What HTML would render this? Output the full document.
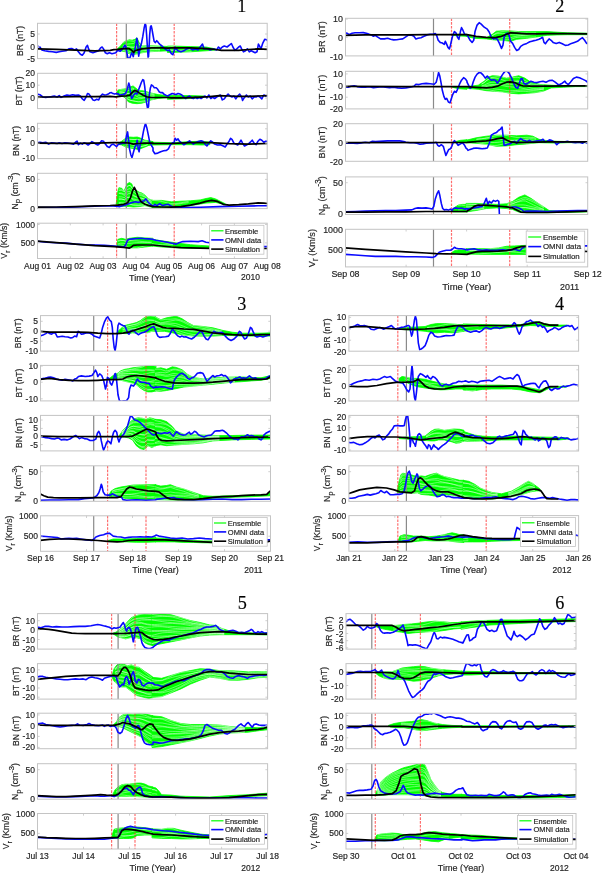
<!DOCTYPE html><html><head><meta charset="utf-8"><style>html,body{margin:0;padding:0;background:#fff;}svg{display:block;will-change:transform;}text{font-family:"Liberation Sans",sans-serif;fill:#262626;stroke:#262626;stroke-width:0.18px;}</style></head><body>
<svg width="602" height="874" viewBox="0 0 602 874">
<rect width="602" height="874" fill="#fff"/>
<defs>
<clipPath id="c0_0"><rect x="37.5" y="23.3" width="229.7" height="35.3"/></clipPath>
<clipPath id="c0_1"><rect x="37.5" y="73.3" width="229.7" height="35.3"/></clipPath>
<clipPath id="c0_2"><rect x="37.5" y="123.3" width="229.7" height="35.3"/></clipPath>
<clipPath id="c0_3"><rect x="37.5" y="173.3" width="229.7" height="35.3"/></clipPath>
<clipPath id="c0_4"><rect x="37.5" y="223.2" width="229.7" height="35.3"/></clipPath>
<clipPath id="c1_0"><rect x="345.5" y="18.3" width="242.2" height="37.6"/></clipPath>
<clipPath id="c1_1"><rect x="345.5" y="71.3" width="242.2" height="37.6"/></clipPath>
<clipPath id="c1_2"><rect x="345.5" y="123.7" width="242.2" height="37.6"/></clipPath>
<clipPath id="c1_3"><rect x="345.5" y="176.9" width="242.2" height="37.6"/></clipPath>
<clipPath id="c1_4"><rect x="345.5" y="229.3" width="242.2" height="37.6"/></clipPath>
<clipPath id="c2_0"><rect x="40.5" y="315.6" width="230" height="35.5"/></clipPath>
<clipPath id="c2_1"><rect x="40.5" y="365.4" width="230" height="35.5"/></clipPath>
<clipPath id="c2_2"><rect x="40.5" y="415.4" width="230" height="35.5"/></clipPath>
<clipPath id="c2_3"><rect x="40.5" y="465.8" width="230" height="35.5"/></clipPath>
<clipPath id="c2_4"><rect x="40.5" y="515.8" width="230" height="35.5"/></clipPath>
<clipPath id="c3_0"><rect x="348.9" y="315.6" width="229.7" height="35.6"/></clipPath>
<clipPath id="c3_1"><rect x="348.9" y="365.4" width="229.7" height="35.6"/></clipPath>
<clipPath id="c3_2"><rect x="348.9" y="415.4" width="229.7" height="35.6"/></clipPath>
<clipPath id="c3_3"><rect x="348.9" y="465.8" width="229.7" height="35.6"/></clipPath>
<clipPath id="c3_4"><rect x="348.9" y="515.6" width="229.7" height="35.6"/></clipPath>
<clipPath id="c4_0"><rect x="37.5" y="613.6" width="230.1" height="35.5"/></clipPath>
<clipPath id="c4_1"><rect x="37.5" y="663.6" width="230.1" height="35.5"/></clipPath>
<clipPath id="c4_2"><rect x="37.5" y="713.2" width="230.1" height="35.5"/></clipPath>
<clipPath id="c4_3"><rect x="37.5" y="763.7" width="230.1" height="35.5"/></clipPath>
<clipPath id="c4_4"><rect x="37.5" y="813.5" width="230.1" height="35.5"/></clipPath>
<clipPath id="c5_0"><rect x="346" y="613.6" width="230" height="35.5"/></clipPath>
<clipPath id="c5_1"><rect x="346" y="663.6" width="230" height="35.5"/></clipPath>
<clipPath id="c5_2"><rect x="346" y="713.2" width="230" height="35.5"/></clipPath>
<clipPath id="c5_3"><rect x="346" y="763.7" width="230" height="35.5"/></clipPath>
<clipPath id="c5_4"><rect x="346" y="813.5" width="230" height="35.5"/></clipPath>
</defs>
<text x="241.9" y="12.2" text-anchor="middle" style="font-family:'Liberation Serif',serif;fill:#000" font-size="18.2">1</text>
<g clip-path="url(#c0_0)">
<polygon points="117.2,48.9 120.6,46 123.5,42.2 126.4,40.7 129.3,39.8 132.2,40.2 135,39.3 137,37.8 138.9,42.2 141.8,46 148.5,45.8 158.2,46 168,46.5 168,50.8 158.2,51.3 148.5,51.8 141.8,52.8 138.9,53.7 135,54.2 132.2,54.7 129.3,53.7 125.4,51.8 120.6,50.8 117.2,49.4" fill="#00ff00" stroke="#00ff00" stroke-width="0.8" stroke-linejoin="round"/>
<polyline points="122.6,43.4 125.2,41.4 127.9,40.7 130.6,40.9 133.3,41.3 135.9,40.6 138.6,43.3 141.3,46.6 143.9,47 146.6,46.8 149.3,46.6 152,46.5 154.6,46.4 157.3,46.2 160,46.2" fill="none" stroke="#fff" stroke-opacity="0.6" stroke-width="0.7"/>
<polyline points="122.6,45.9 125.2,44.5 127.9,44 130.6,43.8 133.3,43.5 135.9,42.1 138.6,44 141.3,46.7 143.9,47.1 146.6,46.9 149.3,46.8 152,46.9 154.6,47 157.3,47.1 160,47.3" fill="none" stroke="#fff" stroke-opacity="0.6" stroke-width="0.7"/>
<polyline points="122.6,47.2 125.2,46.5 127.9,46.6 130.6,47.1 133.3,47.1 135.9,46.1 138.6,47.3 141.3,48.8 143.9,48.8 146.6,48.5 149.3,48.2 152,48.1 154.6,48 157.3,47.9 160,47.9" fill="none" stroke="#fff" stroke-opacity="0.6" stroke-width="0.7"/>
<polyline points="122.6,47.6 125.2,46.7 127.9,46.6 130.6,47.1 133.3,47.4 135.9,46.9 138.6,48.4 141.3,49.9 143.9,50 146.6,49.9 149.3,49.8 152,49.7 154.6,49.6 157.3,49.4 160,49.2" fill="none" stroke="#fff" stroke-opacity="0.6" stroke-width="0.7"/>
<polyline points="122.6,49.8 125.2,49.9 127.9,50.9 130.6,51.8 133.3,52 135.9,51.2 138.6,51.3 141.3,51.2 143.9,50.8 146.6,50.4 149.3,50 152,49.8 154.6,49.7 157.3,49.6 160,49.5" fill="none" stroke="#fff" stroke-opacity="0.6" stroke-width="0.7"/>
<polyline points="122.6,50.5 125.2,51 127.9,52.3 130.6,53.6 133.3,54.1 135.9,53.9 138.6,53.7 141.3,52.9 143.9,52.4 146.6,52 149.3,51.7 152,51.5 154.6,51.3 157.3,51.1 160,50.9" fill="none" stroke="#fff" stroke-opacity="0.6" stroke-width="0.7"/>
<polygon points="167.4,46 171.3,46 190.5,46.6 206,47 215.6,48.9 215.6,50.1 206,50.8 190.5,51.8 171.3,52.4 167.4,52.4" fill="#00ff00" stroke="#00ff00" stroke-width="0.8" stroke-linejoin="round"/>
<polyline points="167.4,46.1 170.1,46.3 172.8,46.6 175.4,47.1 178.1,47.5 180.8,47.9 183.5,48.1 186.1,48.3 188.8,48.3 191.5,48.1" fill="none" stroke="#fff" stroke-opacity="0.6" stroke-width="0.7"/>
<polyline points="167.4,49.7 170.1,49.9 172.8,50.1 175.4,50.2 178.1,50.2 180.8,50.1 183.5,50 186.1,49.8 188.8,49.5 191.5,49.3" fill="none" stroke="#fff" stroke-opacity="0.6" stroke-width="0.7"/>
<polyline points="167.4,50.3 170.1,50.3 172.8,50.4 175.4,50.5 178.1,50.6 180.8,50.8 183.5,50.9 186.1,51.1 188.8,51.2 191.5,51.3" fill="none" stroke="#fff" stroke-opacity="0.6" stroke-width="0.7"/>
<line x1="116.6" y1="23.3" x2="116.6" y2="58.6" stroke="#ff3030" stroke-opacity="0.7" stroke-width="1.2" stroke-dasharray="2.6,1.2"/>
<line x1="174.2" y1="23.3" x2="174.2" y2="58.6" stroke="#ff3030" stroke-opacity="0.7" stroke-width="1.2" stroke-dasharray="2.6,1.2"/>
<line x1="126.3" y1="23.3" x2="126.3" y2="58.6" stroke="#8a8a8a" stroke-width="1.2"/>
<polyline points="37,46 39.9,47 41.8,49.9 44.7,50.8 48.6,51.4 52.4,51.8 56.3,52.4 59.2,51.8 62,51.2 65.9,50.8 68.8,48.9 71.7,48.5 74.6,49.9 76.5,48.9 78.4,51.8 80.4,54.3 82.3,55.3 84.2,52.8 86.1,47 87.5,45.4 88.6,48.9 90,51.8 92.9,52.8 95.8,51.8 98.7,50.8 100.6,47.9 102.1,47 103.5,48.9 105.4,52.8 107.3,53.7 109.3,52.8 110.2,53.1 111.9,53.7 113.9,53.2 115.8,52.8 117.2,50.8 118.7,50.6 120.1,51.3 121.6,49.9 123.5,47.5 124.9,45.2 125.9,47 126.9,52.8 127.8,57.6 128.8,58.5 129.8,58.1 130.7,55.6 131.7,52.8 132.6,54.7 133.3,56.6 134.1,51.8 135.2,47.9 136,43.1 136.8,38.3 137.5,41.2 138.1,48.9 138.7,56.1 139.4,51.8 140.3,47 141.3,44.1 142.8,36.4 144.2,27.7 145.2,23.4 145.9,25.8 146.6,34.5 147.4,47 148.1,57.1 148.5,56.6 149,48.9 149.7,34.5 150.5,26.7 151.2,25.8 151.9,28.7 152.9,34.5 154.1,41.2 155.3,42.6 156.7,40.7 157.7,41.7 159.1,43.6 160.6,45 162,46 163.5,47.5 164.9,48.9 166.4,49.9 168,50.6 169.3,49.9 171.3,53.7 172.8,54.7 174.2,50.8 175.1,47 176.1,48.9 178,50.8 180.9,51.8 183.8,50.8 186.7,48.9 189.6,47.9 192.5,49.9 195.4,48.9 198.2,49.9 200.2,47 202.5,44.1 204,48.9 206.9,48.5 209.8,49.9 213.7,48.9 216.6,49.9 218.5,47 220.4,48.9 222.3,47 224.3,46 227.1,47 230,44.7 231.4,43.5 232.9,47 234.9,50.4 236.8,48.9 238.7,47 240.3,46 241.6,48.9 243.5,51.8 245.5,50.8 247.4,48.9 249.3,51.8 251.2,50.8 253.2,51.8 255.1,52.8 257,51.8 258.4,44.1 259.5,46 260.9,48.9 262.8,43.1 264.7,39.3 266.7,39.8 268,41.2" fill="none" stroke="#0a0aff" stroke-width="1.6" stroke-linejoin="round"/>
<polyline points="38,48.9 56.3,49.3 75.5,50.1 94.8,50.8 110.2,50.3 113.9,49.7 117.7,49.4 121.6,48.9 125.4,48.6 129.3,48.7 131.2,49.9 133.6,52.3 135,50.8 137.9,49.9 141.8,48.9 146.6,48.4 151.4,47.9 156.2,47.9 162,47.9 168,48.1 171.3,47.9 180.9,47.9 190.5,47.9 200.2,48.3 209.8,48.9 215.6,49.5 221.4,50.3 229.1,50.4 238.7,50.3 248.3,49.5 258,48.9 268,49.3" fill="none" stroke="#000" stroke-width="1.7" stroke-linejoin="round"/>
</g>
<rect x="37.5" y="23.3" width="229.7" height="35.3" fill="none" stroke="#c4c4c4" stroke-width="1"/>
<text x="34.9" y="37.1" text-anchor="end" font-size="8.5">5</text>
<text x="34.9" y="49.5" text-anchor="end" font-size="8.5">0</text>
<text x="34.9" y="62" text-anchor="end" font-size="8.5">-5</text>
<path d="M37.5 34h2.2M267.2 34h-2.2M37.5 46.5h2.2M267.2 46.5h-2.2" stroke="#c4c4c4" stroke-width="0.8" fill="none"/>
<text transform="translate(22.9,41) rotate(-90)" text-anchor="middle" font-size="8.6">BR (nT)</text>
<g clip-path="url(#c0_1)">
<polygon points="116.7,91.7 118.7,89.8 121.6,89.3 125.4,88.8 129.3,87.3 133.1,85.9 136,88.3 138.9,90.7 142.8,90.7 146.6,91.7 151.4,93.1 158.2,94.6 164,95.2 168,96 168,97.5 158.2,98.4 151.4,99.9 146.6,101.8 141.8,103.2 137,103.7 132.2,103.2 128.3,101.8 125.4,97.9 121.6,95.8 118.7,95.2 116.7,94.9" fill="#00ff00" stroke="#00ff00" stroke-width="0.8" stroke-linejoin="round"/>
<polyline points="119.4,89.7 122.1,89.3 124.8,89.2 127.5,88.9 130.2,88.5 132.9,88 135.6,90.1 138.3,92.1 141,92.5 143.7,92.4 146.4,92.7 149.1,93.1 151.8,93.5 154.5,93.9" fill="none" stroke="#fff" stroke-opacity="0.6" stroke-width="0.7"/>
<polyline points="119.4,91.2 122.1,90.9 124.8,90.9 127.5,90.7 130.2,90 132.9,89 135.6,90.5 138.3,92.2 141,92.5 143.7,92.6 146.4,93.2 149.1,93.8 151.8,94.4 154.5,94.8" fill="none" stroke="#fff" stroke-opacity="0.6" stroke-width="0.7"/>
<polyline points="119.4,92.1 122.1,92.2 124.8,92.6 127.5,93.4 130.2,93.4 132.9,92.9 135.6,94 138.3,95.2 141,95.2 143.7,94.9 146.4,94.9 149.1,95 151.8,95.2 154.5,95.4" fill="none" stroke="#fff" stroke-opacity="0.6" stroke-width="0.7"/>
<polyline points="119.4,92.2 122.1,92.2 124.8,92.6 127.5,93.5 130.2,93.9 132.9,94.1 135.6,95.7 138.3,97.2 141,97.6 143.7,97.6 146.4,97.5 149.1,97.2 151.8,96.9 154.5,96.7" fill="none" stroke="#fff" stroke-opacity="0.6" stroke-width="0.7"/>
<polyline points="119.4,93.7 122.1,94.1 124.8,95.1 127.5,97 130.2,97.8 132.9,97.8 135.6,98.4 138.3,98.8 141,98.6 143.7,98.1 146.4,97.7 149.1,97.3 151.8,97 154.5,96.9" fill="none" stroke="#fff" stroke-opacity="0.6" stroke-width="0.7"/>
<polyline points="119.4,94.2 122.1,94.9 124.8,96.1 127.5,98.7 130.2,100.2 132.9,100.8 135.6,101.4 138.3,101.7 141,101.4 143.7,100.8 146.4,100.1 149.1,99.3 151.8,98.5 154.5,98.1" fill="none" stroke="#fff" stroke-opacity="0.6" stroke-width="0.7"/>
<polyline points="119.4,95.1 122.1,95.7 124.8,96.8 127.5,99.2 130.2,100.4 132.9,100.8 135.6,101.4 138.3,101.9 141,102 143.7,101.8 146.4,101.3 149.1,100.6 151.8,99.7 154.5,99.2" fill="none" stroke="#fff" stroke-opacity="0.6" stroke-width="0.7"/>
<polygon points="167.4,95.4 190.5,95.6 204,96 204,97.4 190.5,98.5 167.4,99.3" fill="#00ff00" stroke="#00ff00" stroke-width="0.8" stroke-linejoin="round"/>
<line x1="116.6" y1="73.3" x2="116.6" y2="108.6" stroke="#ff3030" stroke-opacity="0.7" stroke-width="1.2" stroke-dasharray="2.6,1.2"/>
<line x1="174.2" y1="73.3" x2="174.2" y2="108.6" stroke="#ff3030" stroke-opacity="0.7" stroke-width="1.2" stroke-dasharray="2.6,1.2"/>
<line x1="126.3" y1="73.3" x2="126.3" y2="108.6" stroke="#8a8a8a" stroke-width="1.2"/>
<polyline points="37,94.1 39.9,94.7 42.8,97 45.7,97.4 48.6,97 51.5,96.6 54.3,96 57.2,97 59.2,95.6 61.1,97.4 64,96 66.9,95 69.8,95.6 72.6,94.7 75.5,95.4 78.4,95 80.4,96 82.3,98.9 84.2,100.3 86.1,97 87.5,93.5 89,94.1 91,97 92.9,99.9 94.8,100.4 96.7,99.3 98.7,99.9 100.6,96 102.5,94.1 104.4,95 106.4,94.7 108.3,94.1 110.2,92.7 111.4,92.6 112.9,93.6 114.8,94.1 116.7,93.6 118.2,93.9 119.6,95.2 121.1,94.9 122.5,94.6 124.5,94.1 125.9,92.6 127.3,89.3 128.8,83 129.8,86.4 130.7,95 131.7,98.4 132.6,97.5 133.6,95 135.5,93.1 137,94.1 138.4,90.2 139.9,86.4 141.3,82.5 142.8,79.6 143.7,80.1 144.7,86.4 145.6,95 146.6,102.8 147.6,108.5 148.5,106.6 149.3,95 150.3,88.3 151.4,84.9 152.9,85.9 154.3,87.8 156.2,87.8 157.7,89.3 159.1,91.7 160.6,92.6 162.5,92.6 164.4,94.6 166.4,95.5 168,96 169.3,95 172.2,93.5 174.2,94.1 176.1,94.5 178,93.5 179.9,94.1 181.9,95 183.8,97 185.7,98.5 187.6,97 189.6,96 191.5,97.9 193.4,98.5 195.4,97 197.3,98.5 199.2,97.6 201.1,98.5 203.1,97 205,96 206.9,97.9 208.8,95 210.8,98.5 212.7,97 214.6,98.5 216.6,97 218.5,96 220.4,95 222.3,99.9 224.3,98.9 226.2,96 228.1,94.1 230,96 232,97 233.9,96 235.8,98.9 237.7,96 239.7,94.1 241.6,97 242.6,100.4 244.1,97.9 246.4,95 248.3,97 250.3,96 252.2,98.9 254.1,97 256.1,97 258,96 259.9,97 261.8,98.9 263.8,95 265.7,96 268,95.4" fill="none" stroke="#0a0aff" stroke-width="1.6" stroke-linejoin="round"/>
<polyline points="38,97 56.3,97 75.5,96.6 94.8,96.6 110.2,96.4 115.8,96.8 121.6,96.2 126.4,95.8 129.8,95.2 132.2,92.6 134.6,90.4 136.5,91 138.9,92.6 142.8,95 146.6,96.8 151.4,97.5 158.2,97.5 168,97.5 171.3,97.9 180.9,97.9 190.5,97.6 200.2,97.2 209.8,96.6 219.4,95.6 229.1,96 238.7,96.4 248.3,96.4 258,96 268,95.6" fill="none" stroke="#000" stroke-width="1.7" stroke-linejoin="round"/>
</g>
<rect x="37.5" y="73.3" width="229.7" height="35.3" fill="none" stroke="#c4c4c4" stroke-width="1"/>
<text x="34.9" y="76.1" text-anchor="end" font-size="8.5">20</text>
<text x="34.9" y="88.2" text-anchor="end" font-size="8.5">10</text>
<text x="34.9" y="101" text-anchor="end" font-size="8.5">0</text>
<path d="M37.5 85.2h2.2M267.2 85.2h-2.2M37.5 98h2.2M267.2 98h-2.2" stroke="#c4c4c4" stroke-width="0.8" fill="none"/>
<text transform="translate(21.9,90.9) rotate(-90)" text-anchor="middle" font-size="8.6">BT (nT)</text>
<g clip-path="url(#c0_2)">
<polygon points="117.9,143.5 121.8,141.2 125.6,138.3 129.5,137 133.3,137.3 137.2,137 141.1,138.3 144.9,140.2 148.8,140.8 153,141.6 153,144.7 148.8,145.4 144.9,147 141.1,148.5 137.2,149.3 133.3,148.5 129.5,147.9 125.6,147 121.8,145 117.9,144.3" fill="#00ff00" stroke="#00ff00" stroke-width="0.8" stroke-linejoin="round"/>
<polyline points="123.3,140.6 126,139.4 128.7,139 131.4,139.3 134.1,139.5 136.8,139.4 139.5,139.7 142.2,140.2 144.9,141 147.6,141" fill="none" stroke="#fff" stroke-opacity="0.6" stroke-width="0.7"/>
<polyline points="123.3,141.7 126,140.4 128.7,139.7 131.4,139.5 134.1,139.6 136.8,139.4 139.5,140 142.2,140.9 144.9,141.8 147.6,142" fill="none" stroke="#fff" stroke-opacity="0.6" stroke-width="0.7"/>
<polyline points="123.3,143.4 126,143.1 128.7,142.9 131.4,142.9 134.1,142.9 136.8,142.8 139.5,142.7 142.2,142.8 144.9,143 147.6,142.8" fill="none" stroke="#fff" stroke-opacity="0.6" stroke-width="0.7"/>
<polyline points="123.3,143.5 126,143.7 128.7,144.1 131.4,144.8 134.1,145.6 136.8,146.3 139.5,146.5 142.2,146.2 144.9,145.6 147.6,144.7" fill="none" stroke="#fff" stroke-opacity="0.6" stroke-width="0.7"/>
<polyline points="123.3,145.7 126,146.8 128.7,147.1 131.4,147.3 134.1,147.4 136.8,147.5 139.5,147 142.2,146.4 144.9,145.7 147.6,144.8" fill="none" stroke="#fff" stroke-opacity="0.6" stroke-width="0.7"/>
<polygon points="152,142.2 171.3,142.7 190.5,141.6 202.1,141.2 209.8,142.2 209.8,144.7 202.1,145 190.5,144.7 171.3,144.7 152,145" fill="#00ff00" stroke="#00ff00" stroke-width="0.8" stroke-linejoin="round"/>
<line x1="116.6" y1="123.3" x2="116.6" y2="158.6" stroke="#ff3030" stroke-opacity="0.7" stroke-width="1.2" stroke-dasharray="2.6,1.2"/>
<line x1="174.2" y1="123.3" x2="174.2" y2="158.6" stroke="#ff3030" stroke-opacity="0.7" stroke-width="1.2" stroke-dasharray="2.6,1.2"/>
<line x1="126.3" y1="123.3" x2="126.3" y2="158.6" stroke="#8a8a8a" stroke-width="1.2"/>
<polyline points="37,142.7 39.9,142.2 42.8,142.7 45.7,142.2 48.6,144.1 51.5,142.7 54.3,143.1 57.2,143.5 59.2,142.7 62,143.5 64.9,142.7 67.8,143.1 70.7,143.5 73.6,144.1 75.5,142.2 77.1,141.2 78.4,144.7 80.4,143.1 82.3,144.1 84.2,142.7 86.1,143.5 88.1,145 90,143.5 91.9,141.6 93.8,142.7 95.8,144.1 97.7,145 99.6,143.5 101.6,140.8 103.5,141.2 105.4,144.1 107.3,146.6 109.3,147.4 111.2,145 113.1,144.1 115,145.4 116.6,146.6 117.9,144.7 119.9,144.1 121.8,143.5 123.7,143.1 125.3,143.1 126.6,135.4 127.6,131.9 128.5,139.3 129.5,148.9 130.8,154.7 132,157.6 133.3,152.8 134.9,147 136.2,145 137.2,140.2 138.2,148.9 139.1,151.8 140.1,145 142,139.3 143.4,131.6 144.5,126.7 145.5,123.5 146.8,127.7 148.4,135.4 149.7,142.2 151.7,146 153,147.9 153,150.8 154.9,153.7 157.8,153.1 160.7,151.8 163.6,150.8 166.5,150.4 168.4,148.9 170.3,145 172.2,143.1 174.2,142.2 175.1,138.3 176.7,140.2 178,138.9 179.4,141.2 181.9,143.1 183.8,144.7 185.7,143.5 187.6,142.2 189.6,140.8 191.5,142.7 193.4,144.1 195.4,142.7 198.2,141.6 201.1,140.8 203.1,141.6 205,144.1 206.9,146 208.8,143.1 210.8,140.8 212.7,142.2 214.6,144.1 217.5,145 220.4,144.7 223.3,146 225.2,147 227.1,144.1 229.1,141.2 230.6,138.3 232,139.3 233.9,143.1 235.8,144.1 237.7,145 239.7,142.2 241,140.2 242.6,143.1 244.5,146 246.4,145 248.3,144.1 250.3,142.2 252.2,140.2 254.1,143.1 256.1,144.7 258,141.2 259.9,139.3 261.8,140.2 263.8,142.2 265.7,141.2 268,141.2" fill="none" stroke="#0a0aff" stroke-width="1.6" stroke-linejoin="round"/>
<polyline points="37,143.1 56.3,143.3 75.5,143.3 94.8,143.1 114.1,142.7 123.7,142.7 129.5,143.1 133.3,144.1 137.2,143.5 144.9,143.1 153,143.1 153,143.5 171.3,143.5 190.5,142.7 209.8,142.7 229.1,143.7 248.3,144.1 268,143.5" fill="none" stroke="#000" stroke-width="1.7" stroke-linejoin="round"/>
</g>
<rect x="37.5" y="123.3" width="229.7" height="35.3" fill="none" stroke="#c4c4c4" stroke-width="1"/>
<text x="34.9" y="131.8" text-anchor="end" font-size="8.5">10</text>
<text x="34.9" y="146.2" text-anchor="end" font-size="8.5">0</text>
<text x="34.9" y="161.2" text-anchor="end" font-size="8.5">-10</text>
<path d="M37.5 128.8h2.2M267.2 128.8h-2.2M37.5 143.2h2.2M267.2 143.2h-2.2" stroke="#c4c4c4" stroke-width="0.8" fill="none"/>
<text transform="translate(19.2,140.9) rotate(-90)" text-anchor="middle" font-size="8.6">BN (nT)</text>
<g clip-path="url(#c0_3)">
<polygon points="116,205.6 117.5,193.1 118.9,187.7 121.8,188.3 124.1,191.2 125.6,187.3 127.6,183.5 129.5,182.5 131.8,183.9 133.3,188.3 136.2,190.2 139.1,192.2 142,193.1 144.9,195 148.8,198.9 153,200.4 153,207.6 144.9,205.6 139.1,206.6 133.3,207 129.5,206.6 123.7,206.2 119.9,206.2 116,206.2" fill="#00ff00" stroke="#00ff00" stroke-width="0.8" stroke-linejoin="round"/>
<polyline points="118.8,188.8 121.7,189.5 124.5,191.4 127.4,186 130.2,185.3 133.1,189.4 135.9,191.5 138.8,192.9 141.6,193.6 144.5,195.1 147.3,197.6 150.2,199.4 153,200.4" fill="none" stroke="#fff" stroke-opacity="0.6" stroke-width="0.7"/>
<polyline points="118.8,190.4 121.7,190.5 124.5,191.9 127.4,186.2 130.2,185.3 133.1,189.5 135.9,191.8 138.8,193.6 141.6,194.7 144.5,196.3 147.3,198.8 150.2,200.7 153,201.8" fill="none" stroke="#fff" stroke-opacity="0.6" stroke-width="0.7"/>
<polyline points="118.8,193 121.7,193.1 124.5,194.2 127.4,189.4 130.2,188.5 133.1,191.9 135.9,193.6 138.8,195 141.6,195.7 144.5,196.9 147.3,199.2 150.2,200.9 153,201.9" fill="none" stroke="#fff" stroke-opacity="0.6" stroke-width="0.7"/>
<polyline points="118.8,193.4 121.7,193.9 124.5,195.4 127.4,191.7 130.2,191.7 133.1,195 135.9,196.7 138.8,197.8 141.6,198.2 144.5,199 147.3,200.7 150.2,202 153,202.8" fill="none" stroke="#fff" stroke-opacity="0.6" stroke-width="0.7"/>
<polyline points="118.8,196.9 121.7,196.9 124.5,197.6 127.4,194 130.2,193.3 133.1,195.7 135.9,196.9 138.8,197.9 141.6,198.3 144.5,199.2 147.3,201 150.2,202.5 153,203.5" fill="none" stroke="#fff" stroke-opacity="0.6" stroke-width="0.7"/>
<polyline points="118.8,198.9 121.7,199.1 124.5,199.8 127.4,197.3 130.2,196.9 133.1,198.8 135.9,199.6 138.8,200.1 141.6,200.2 144.5,200.6 147.3,202 150.2,203.3 153,204.1" fill="none" stroke="#fff" stroke-opacity="0.6" stroke-width="0.7"/>
<polyline points="118.8,199.2 121.7,199.1 124.5,199.8 127.4,197.5 130.2,197.5 133.1,199.8 135.9,200.9 138.8,201.8 141.6,202.1 144.5,202.4 147.3,203.6 150.2,204.6 153,205.3" fill="none" stroke="#fff" stroke-opacity="0.6" stroke-width="0.7"/>
<polyline points="118.8,202.5 121.7,202.6 124.5,203 127.4,201.9 130.2,201.7 133.1,202.6 135.9,202.8 138.8,202.9 141.6,202.7 144.5,202.7 147.3,203.7 150.2,204.7 153,205.4" fill="none" stroke="#fff" stroke-opacity="0.6" stroke-width="0.7"/>
<polyline points="118.8,203.6 121.7,203.9 124.5,204.3 127.4,204 130.2,204.2 133.1,205 135.9,205.1 138.8,205.1 141.6,204.8 144.5,204.5 147.3,205.2 150.2,205.9 153,206.5" fill="none" stroke="#fff" stroke-opacity="0.6" stroke-width="0.7"/>
<polyline points="118.8,205.7 121.7,205.4 124.5,205.2 127.4,204.6 130.2,204.4 133.1,205 135.9,205.2 138.8,205.4 141.6,205.3 144.5,205.2 147.3,206 150.2,206.8 153,207.6" fill="none" stroke="#fff" stroke-opacity="0.6" stroke-width="0.7"/>
<polygon points="152,200.4 161.6,200.4 171.3,201.8 180.9,201.2 190.5,200.8 200.2,199.9 206,198.5 210.8,197.6 215.6,198.9 221.4,201.8 225.2,203.7 225.2,204.7 215.6,202.4 206,203.1 190.5,205.6 180.9,207 171.3,207.6 161.6,207.6 152,207.6" fill="#00ff00" stroke="#00ff00" stroke-width="0.8" stroke-linejoin="round"/>
<polyline points="152,200.4 154.6,200.5 157.2,200.7 159.8,201.1 162.5,201.6 165.1,202.3 167.7,203 170.3,203.5 172.9,203.6 175.5,203.5 178.2,203.2 180.8,202.8 183.4,202.3 186,201.8 188.6,201.4" fill="none" stroke="#fff" stroke-opacity="0.6" stroke-width="0.7"/>
<polyline points="152,204.7 154.6,205 157.2,205.1 159.8,205.2 162.5,205.2 165.1,205.2 167.7,205.2 170.3,205.1 172.9,204.9 175.5,204.4 178.2,204 180.8,203.6 183.4,203.2 186,202.9 188.6,202.6" fill="none" stroke="#fff" stroke-opacity="0.6" stroke-width="0.7"/>
<polyline points="152,205.4 154.6,205.6 157.2,205.8 159.8,206 162.5,206.3 165.1,206.6 167.7,206.9 170.3,207.1 172.9,207.2 175.5,207.2 178.2,207.1 180.8,207 183.4,206.6 186,206.2 188.6,205.8" fill="none" stroke="#fff" stroke-opacity="0.6" stroke-width="0.7"/>
<line x1="116.6" y1="173.3" x2="116.6" y2="208.6" stroke="#ff3030" stroke-opacity="0.7" stroke-width="1.2" stroke-dasharray="2.6,1.2"/>
<line x1="174.2" y1="173.3" x2="174.2" y2="208.6" stroke="#ff3030" stroke-opacity="0.7" stroke-width="1.2" stroke-dasharray="2.6,1.2"/>
<line x1="126.3" y1="173.3" x2="126.3" y2="208.6" stroke="#8a8a8a" stroke-width="1.2"/>
<polyline points="37,207.6 56.3,207.6 75.5,207 94.8,206.2 110.2,205.8 116,206.2 119.9,206.6 123.7,205.6 127.6,204.3 131.4,202.8 135.3,201.8 138.2,202.4 141.1,201.8 143.9,200.8 145.9,198.9 147.8,201.8 150.7,204.7 153,206.2 153,206.2 154.9,204.3 156.8,205.6 159.7,203.7 162.6,205.6 165.5,204.7 168.4,204.3 170.3,205.6 173.2,207 180.9,207.6 200.2,207.2 219.4,206.6 238.7,206.2 258,205.8 268,205.8" fill="none" stroke="#0a0aff" stroke-width="1.6" stroke-linejoin="round"/>
<polyline points="37,207.2 56.3,207 75.5,206.6 94.8,205.8 110.2,205.5 117.9,205.1 123.7,204.3 127.6,202.8 130.5,197.9 132.4,191.2 134.3,187.3 136.2,191.2 138.2,197 141.1,201.8 144.9,204.3 148.8,205.6 153,206.6 153,206.6 161.6,207 171.3,207.2 180.9,206.6 190.5,205.1 200.2,203.1 206,201.4 211.7,200.3 217.5,201.4 223.3,204.3 229.1,205.1 238.7,204.7 248.3,203.9 258,202.8 263.8,203.1 268,203.5" fill="none" stroke="#000" stroke-width="1.7" stroke-linejoin="round"/>
</g>
<rect x="37.5" y="173.3" width="229.7" height="35.3" fill="none" stroke="#c4c4c4" stroke-width="1"/>
<text x="34.9" y="182.4" text-anchor="end" font-size="8.5">50</text>
<text x="34.9" y="211.5" text-anchor="end" font-size="8.5">0</text>
<path d="M37.5 179.4h2.2M267.2 179.4h-2.2" stroke="#c4c4c4" stroke-width="0.8" fill="none"/>
<text transform="translate(17.6,191) rotate(-90)" text-anchor="middle" font-size="8.6">N<tspan font-size="7.7" dy="2.8">p</tspan><tspan dy="-2.8"> (cm</tspan><tspan font-size="7.7" dy="-4.3">-3</tspan><tspan dy="4.3">)</tspan></text>
<g clip-path="url(#c0_4)">
<polygon points="117,246 117.9,239.3 121.8,238.3 125.6,239.3 129.5,238.3 137.2,237.3 144.9,237.7 153,238.3 153,246 144.9,247 137.2,247.9 129.5,247.9 125.6,247 121.8,246 117.9,246.6" fill="#00ff00" stroke="#00ff00" stroke-width="0.8" stroke-linejoin="round"/>
<polyline points="117.9,240.5 120.6,240.2 123.3,240.5 126,241.1 128.7,240.7 131.4,240.2 134.1,239.5 136.8,238.8 139.5,238.3 142.2,238 144.9,237.8 147.6,237.9 150.3,238.2 153,238.5" fill="none" stroke="#fff" stroke-opacity="0.6" stroke-width="0.7"/>
<polyline points="117.9,241.4 120.6,240.6 123.3,240.6 126,241.2 128.7,240.9 131.4,240.8 134.1,240.8 136.8,240.9 139.5,241.2 142.2,241.5 144.9,241.8 147.6,242 150.3,242.1 153,242.1" fill="none" stroke="#fff" stroke-opacity="0.6" stroke-width="0.7"/>
<polyline points="117.9,243.9 120.6,243.2 123.3,243.2 126,243.6 128.7,243.4 131.4,243.2 134.1,242.9 136.8,242.7 139.5,242.6 142.2,242.5 144.9,242.6 147.6,242.6 150.3,242.7 153,242.8" fill="none" stroke="#fff" stroke-opacity="0.6" stroke-width="0.7"/>
<polyline points="117.9,245 120.6,244.9 123.3,245.4 126,246.4 128.7,247.4 131.4,247.8 134.1,247.9 136.8,247.9 139.5,247.3 142.2,246.6 144.9,245.9 147.6,245.2 150.3,244.6 153,244.2" fill="none" stroke="#fff" stroke-opacity="0.6" stroke-width="0.7"/>
<polygon points="152,239.3 161.6,240.8 171.3,242.2 180.9,243.5 190.5,244.7 200.2,245.4 209.8,246 209.8,248.5 200.2,248.5 190.5,248.3 180.9,247.9 171.3,247.6 161.6,247 152,246" fill="#00ff00" stroke="#00ff00" stroke-width="0.8" stroke-linejoin="round"/>
<polyline points="152,239.4 154.6,240.1 157.3,240.9 159.9,241.7 162.5,242.4 165.1,243 167.8,243.5 170.4,243.9 173,244.1" fill="none" stroke="#fff" stroke-opacity="0.6" stroke-width="0.7"/>
<polyline points="152,243.7 154.6,244.1 157.3,244.4 159.9,244.6 162.5,244.7 165.1,244.7 167.8,244.7 170.4,244.7 173,244.7" fill="none" stroke="#fff" stroke-opacity="0.6" stroke-width="0.7"/>
<polyline points="152,244.5 154.6,245 157.3,245.5 159.9,246 162.5,246.5 165.1,246.8 167.8,247.2 170.4,247.4 173,247.6" fill="none" stroke="#fff" stroke-opacity="0.6" stroke-width="0.7"/>
<line x1="116.6" y1="223.2" x2="116.6" y2="258.5" stroke="#ff3030" stroke-opacity="0.7" stroke-width="1.2" stroke-dasharray="2.6,1.2"/>
<line x1="174.2" y1="223.2" x2="174.2" y2="258.5" stroke="#ff3030" stroke-opacity="0.7" stroke-width="1.2" stroke-dasharray="2.6,1.2"/>
<line x1="126.3" y1="223.2" x2="126.3" y2="258.5" stroke="#8a8a8a" stroke-width="1.2"/>
<polyline points="37,241.2 46.6,242.2 56.3,242.7 65.9,243.1 75.5,244.1 85.2,244.7 94.8,245 104.4,245.4 114.1,246 119.9,246.6 123.7,247 125.6,245 127.6,240.2 129.5,239.3 133.3,238.9 137.2,238.5 141.1,238.3 144.9,238.7 148.8,238.9 153,239.3 153,239.5 155.9,240.2 161.6,241.2 167.4,242.2 173.2,243.5 176.1,244.1 179,242.7 182.8,241.6 190.5,241.2 198.2,241.6 202.1,240.8 206,242.2 209.8,242.7 236.8,244.1 263.8,246.6 268,246.6" fill="none" stroke="#0a0aff" stroke-width="1.6" stroke-linejoin="round"/>
<polyline points="37,241.2 56.3,242.7 75.5,244.1 94.8,245.6 114.1,246.6 123.7,247.4 129.5,248.1 131.4,247 133.3,245.4 137.2,245 144.9,245 153,245 153,245 161.6,246 171.3,247 180.9,247.6 190.5,247.9 200.2,248.1 209.8,248.3 263.8,248.5 268,248.5" fill="none" stroke="#000" stroke-width="1.7" stroke-linejoin="round"/>
</g>
<rect x="37.5" y="223.2" width="229.7" height="35.3" fill="none" stroke="#c4c4c4" stroke-width="1"/>
<text x="34.9" y="227.5" text-anchor="end" font-size="8.5">1000</text>
<text x="34.9" y="245.9" text-anchor="end" font-size="8.5">500</text>
<path d="M37.5 224.5h2.2M267.2 224.5h-2.2M37.5 242.9h2.2M267.2 242.9h-2.2M70.3 223.2v2.2M70.3 258.5v-2.2M103.1 223.2v2.2M103.1 258.5v-2.2M135.9 223.2v2.2M135.9 258.5v-2.2M168.8 223.2v2.2M168.8 258.5v-2.2M201.6 223.2v2.2M201.6 258.5v-2.2M234.4 223.2v2.2M234.4 258.5v-2.2" stroke="#c4c4c4" stroke-width="0.8" fill="none"/>
<text transform="translate(7.3,240.8) rotate(-90)" text-anchor="middle" font-size="8.6">V<tspan font-size="7.7" dy="2.8">r</tspan><tspan dy="-2.8"> (Km/s)</tspan></text>
<text x="37.5" y="268.9" text-anchor="middle" font-size="8.5">Aug 01</text>
<text x="70.3" y="268.9" text-anchor="middle" font-size="8.5">Aug 02</text>
<text x="103.1" y="268.9" text-anchor="middle" font-size="8.5">Aug 03</text>
<text x="135.9" y="268.9" text-anchor="middle" font-size="8.5">Aug 04</text>
<text x="168.8" y="268.9" text-anchor="middle" font-size="8.5">Aug 05</text>
<text x="201.6" y="268.9" text-anchor="middle" font-size="8.5">Aug 06</text>
<text x="234.4" y="268.9" text-anchor="middle" font-size="8.5">Aug 07</text>
<text x="267.2" y="268.9" text-anchor="middle" font-size="8.5">Aug 08</text>
<text x="152.3" y="280.6" text-anchor="middle" font-size="9">Time (Year)</text>
<text x="250.5" y="280.4" text-anchor="middle" font-size="8.5">2010</text>
<rect x="209.6" y="225.3" width="54.3" height="28.9" fill="#fff" stroke="#c4c4c4" stroke-width="0.8"/>
<line x1="211.2" y1="230.8" x2="223.5" y2="230.8" stroke="#00ff00" stroke-width="1.2"/>
<text x="224.9" y="233.5" font-size="7.5">Ensemble</text>
<line x1="211.2" y1="239.9" x2="223.5" y2="239.9" stroke="#0a0aff" stroke-width="1.6"/>
<text x="224.9" y="242.6" font-size="7.5">OMNI data</text>
<line x1="211.2" y1="249.1" x2="223.5" y2="249.1" stroke="#000" stroke-width="1.6"/>
<text x="224.9" y="251.8" font-size="7.5">Simulation</text>
<text x="559.7" y="12.2" text-anchor="middle" style="font-family:'Liberation Serif',serif;fill:#000" font-size="18.2">2</text>
<g clip-path="url(#c1_0)">
<polygon points="451.8,34.7 458.5,34.3 467,34.3 467,36.3 458.5,35.9 451.8,35.3" fill="#00ff00" stroke="#00ff00" stroke-width="0.8" stroke-linejoin="round"/>
<polygon points="466,35.3 474.1,37.3 486.3,37.7 492.3,34.3 496.4,31.2 502.5,30.8 510.6,30.8 518.7,31.6 530.9,31.6 547.1,31.6 557.2,32.2 567.3,32.8 588,33.2 588,34.7 567.3,34.7 557.2,34.9 547.1,35.3 536.9,36.9 526.8,38.3 516.7,39.3 510.6,41.3 502.5,40.3 496.4,40.3 492.3,39.7 486.3,38.9 474.1,38.3 466,36.3" fill="#00ff00" stroke="#00ff00" stroke-width="0.8" stroke-linejoin="round"/>
<polyline points="492,35.7 494.6,34.1 497.1,32.7 499.7,32.1 502.3,31.5 504.9,31.2 507.5,30.9 510.1,30.8 512.7,31.1 515.3,31.5 517.9,32 520.5,32.4 523.1,32.7 525.7,32.9 528.3,33.1 530.9,33.1 533.5,33 536.1,32.9" fill="none" stroke="#fff" stroke-opacity="0.6" stroke-width="0.7"/>
<polyline points="492,35.9 494.6,34.5 497.1,33.5 499.7,33.4 502.3,33.3 504.9,33.6 507.5,34 510.1,34.4 512.7,34.7 515.3,34.8 517.9,34.9 520.5,35 523.1,35.1 525.7,35 528.3,34.9 530.9,34.6 533.5,34.4 536.1,34.1" fill="none" stroke="#fff" stroke-opacity="0.6" stroke-width="0.7"/>
<polyline points="492,38.4 494.6,38.2 497.1,38 499.7,37.9 502.3,37.7 504.9,37.8 507.5,37.8 510.1,37.8 512.7,37.1 515.3,36.5 517.9,36 520.5,35.7 523.1,35.4 525.7,35.2 528.3,34.9 530.9,34.7 533.5,34.5 536.1,34.3" fill="none" stroke="#fff" stroke-opacity="0.6" stroke-width="0.7"/>
<polyline points="492,39.5 494.6,40 497.1,40.3 499.7,40.2 502.3,40 504.9,39.9 507.5,39.7 510.1,39.5 512.7,38.7 515.3,37.8 517.9,37.3 520.5,37.1 523.1,37.1 525.7,37.1 528.3,37.1 530.9,37.1 533.5,37 536.1,36.9" fill="none" stroke="#fff" stroke-opacity="0.6" stroke-width="0.7"/>
<line x1="451.5" y1="18.3" x2="451.5" y2="55.9" stroke="#ff3030" stroke-opacity="0.7" stroke-width="1.2" stroke-dasharray="2.6,1.2"/>
<line x1="509.7" y1="18.3" x2="509.7" y2="55.9" stroke="#ff3030" stroke-opacity="0.7" stroke-width="1.2" stroke-dasharray="2.6,1.2"/>
<line x1="433.5" y1="18.3" x2="433.5" y2="55.9" stroke="#8a8a8a" stroke-width="1.2"/>
<polyline points="345,32.8 347,33.2 349.1,34.7 352.1,33.2 355.1,32.8 359.2,32.8 363.2,32.6 366.3,33.2 369.3,34.3 371.3,34.9 373.4,36.3 375.4,35.3 377.4,36.9 380.5,38.9 384.5,38.9 387.6,38.3 390.6,39.3 393.6,39.9 396.7,39.7 399.7,39.3 402.8,38.9 405.8,36.9 408.8,34.9 411.9,35.3 413.9,36.3 415.9,38.9 418,38.3 421,37.7 424,36.3 427.1,34.9 430.1,34.3 433.2,34.3 435.2,33.6 436.6,35.3 438.2,40.3 440.2,42.4 442.3,43 444.3,44.4 445.3,41.3 446.3,43.4 448,47.4 449.4,49 450.4,45.4 451.8,39.3 452.8,35.3 454.4,31.6 456.1,33.2 457.5,37.3 458.9,39.3 460.5,31.2 461.5,27.6 462.9,30.2 464.6,34.3 467,34.9 468,36.3 470.1,40.3 472.1,42.4 473.7,40.3 475.1,31.2 477.1,25.1 479.2,22.7 481.2,24.1 484.2,27.2 487.3,29.2 489.3,32.2 491.3,37.3 493.4,38.9 495.4,38.3 497.4,39.3 499.4,43.4 501.5,48.4 502.9,45.4 504.1,37.3 505.5,34.3 507.5,33.2 509,35.3 510.6,41.3 512.6,43.4 514.6,47.4 516.7,50.5 518.7,49.5 520.7,46.4 523.8,44.4 526.8,43.4 529.8,41.8 532.9,40.9 535.9,40.3 539,39.3 541,38.3 542.6,37.3 544,42.4 545.4,43.8 547.1,41.3 549.1,38.9 551.1,40.3 553.1,42.4 556.2,43.4 559.2,42.4 562.3,43.8 565.3,45.4 568.3,45 571.4,43.4 574.4,42.4 577.5,41.3 580.5,38.9 582.5,37.7 584.6,40.3 586.6,43.4 588,43.4" fill="none" stroke="#0a0aff" stroke-width="1.6" stroke-linejoin="round"/>
<polyline points="345,35.3 365.3,34.9 385.5,34.9 405.8,34.9 426.1,34.7 446.3,34.7 467,34.7 467,34.7 476.1,36.3 486.3,37.3 492.3,37.7 496.4,37.3 501.5,36.3 506.5,34.3 510.6,32.8 516.7,33.2 526.8,33.8 536.9,33.8 547.1,33.6 567.3,33.6 588,33.8" fill="none" stroke="#000" stroke-width="1.7" stroke-linejoin="round"/>
</g>
<rect x="345.5" y="18.3" width="242.2" height="37.6" fill="none" stroke="#c4c4c4" stroke-width="1"/>
<text x="342.9" y="22.3" text-anchor="end" font-size="8.9">10</text>
<text x="342.9" y="40.6" text-anchor="end" font-size="8.9">0</text>
<text x="342.9" y="59.7" text-anchor="end" font-size="8.9">-10</text>
<path d="M345.5 19.1h2.2M587.7 19.1h-2.2M345.5 37.4h2.2M587.7 37.4h-2.2" stroke="#c4c4c4" stroke-width="0.8" fill="none"/>
<text transform="translate(325.2,37.1) rotate(-90)" text-anchor="middle" font-size="9.1">BR (nT)</text>
<g clip-path="url(#c1_1)">
<polygon points="452.4,86.6 467,86.6 467,89.3 458.5,88.7 452.4,87.3" fill="#00ff00" stroke="#00ff00" stroke-width="0.8" stroke-linejoin="round"/>
<polygon points="466,86.6 478.2,85.2 484.2,81.2 488.3,77.1 492.3,75.7 498.4,76.1 506.5,78.1 512.6,77.1 518.7,75.7 524.8,78.1 530.9,82.2 541,84.6 551.1,85.2 563.3,85.8 575.4,85.8 588,85.8 588,86.6 575.4,86.6 563.3,87.3 551.1,87.9 543,91.3 534.9,92.7 526.8,93.3 518.7,93.9 510.6,93.3 502.5,91.9 494.4,91.3 486.3,90.7 478.2,89.3 466,88.3" fill="#00ff00" stroke="#00ff00" stroke-width="0.8" stroke-linejoin="round"/>
<polyline points="481.6,83.9 484.2,82.5 486.8,80.3 489.4,78.5 492,77.4 494.6,77.1 497.1,76.8 499.7,76.9 502.3,77.2 504.9,77.8 507.5,78 510.1,77.7 512.7,77.6 515.3,77.4 517.9,77.3 520.5,78.2 523.1,79.5 525.7,80.8 528.3,82.3 530.9,83.7 533.5,84.1 536.1,84.4 538.7,84.7 541.3,85 543.9,85" fill="none" stroke="#fff" stroke-opacity="0.6" stroke-width="0.7"/>
<polyline points="481.6,84.2 484.2,82.7 486.8,80.5 489.4,78.8 492,78 494.6,78.1 497.1,78.4 499.7,79 502.3,79.8 504.9,80.7 507.5,81.2 510.1,81.3 512.7,81.3 515.3,81.1 517.9,80.9 520.5,81.4 523.1,82.1 525.7,82.9 528.3,83.9 530.9,85 533.5,85.2 536.1,85.4 538.7,85.7 541.3,85.9 543.9,85.8" fill="none" stroke="#fff" stroke-opacity="0.6" stroke-width="0.7"/>
<polyline points="481.6,85.9 484.2,85.1 486.8,83.8 489.4,82.8 492,82.3 494.6,82.3 497.1,82.3 499.7,82.5 502.3,82.8 504.9,83.1 507.5,83.2 510.1,82.8 512.7,82.4 515.3,81.8 517.9,81.3 520.5,81.5 523.1,82.1 525.7,82.9 528.3,84.1 530.9,85.4 533.5,85.8 536.1,86.3 538.7,86.7 541.3,87 543.9,87" fill="none" stroke="#fff" stroke-opacity="0.6" stroke-width="0.7"/>
<polyline points="481.6,86.4 484.2,86 486.8,85.3 489.4,84.7 492,84.6 494.6,84.6 497.1,84.6 499.7,84.6 502.3,84.7 504.9,84.8 507.5,84.8 510.1,84.5 512.7,84.2 515.3,83.9 517.9,83.7 520.5,84.3 523.1,85.1 525.7,86.1 528.3,87.2 530.9,88.1 533.5,88.5 536.1,88.6 538.7,88.6 541.3,88.5 543.9,88.1" fill="none" stroke="#fff" stroke-opacity="0.6" stroke-width="0.7"/>
<polyline points="481.6,87.7 484.2,87.3 486.8,86.5 489.4,85.7 492,85.2 494.6,85.1 497.1,85.1 499.7,85.2 502.3,85.6 504.9,86.1 507.5,86.6 510.1,86.8 512.7,87 515.3,87.2 517.9,87.4 520.5,87.9 523.1,88.4 525.7,88.9 528.3,89.5 530.9,89.9 533.5,90 536.1,89.9 538.7,89.7 541.3,89.4 543.9,88.9" fill="none" stroke="#fff" stroke-opacity="0.6" stroke-width="0.7"/>
<polyline points="481.6,88.3 484.2,88.4 486.8,88.4 489.4,88.4 492,88.6 494.6,88.9 497.1,89.2 499.7,89.5 502.3,89.8 504.9,90.2 507.5,90.6 510.1,90.8 512.7,90.7 515.3,90.6 517.9,90.3 520.5,90.1 523.1,89.9 525.7,89.9 528.3,90 530.9,90.1 533.5,90.1 536.1,90 538.7,89.8 541.3,89.6 543.9,89.2" fill="none" stroke="#fff" stroke-opacity="0.6" stroke-width="0.7"/>
<polyline points="481.6,88.9 484.2,89.2 486.8,89.5 489.4,89.8 492,90.4 494.6,90.9 497.1,91.4 499.7,91.7 502.3,91.9 504.9,92.2 507.5,92.4 510.1,92.4 512.7,92.2 515.3,91.9 517.9,91.6 520.5,91.4 523.1,91.3 525.7,91.4 528.3,91.7 530.9,91.9 533.5,92.1 536.1,92.1 538.7,91.9 541.3,91.5 543.9,90.9" fill="none" stroke="#fff" stroke-opacity="0.6" stroke-width="0.7"/>
<line x1="451.5" y1="71.3" x2="451.5" y2="108.9" stroke="#ff3030" stroke-opacity="0.7" stroke-width="1.2" stroke-dasharray="2.6,1.2"/>
<line x1="509.7" y1="71.3" x2="509.7" y2="108.9" stroke="#ff3030" stroke-opacity="0.7" stroke-width="1.2" stroke-dasharray="2.6,1.2"/>
<line x1="433.5" y1="71.3" x2="433.5" y2="108.9" stroke="#8a8a8a" stroke-width="1.2"/>
<polyline points="345,86.6 348,87.3 351.1,86.2 354.1,85.8 357.2,86.6 361.2,87.3 365.3,87.3 369.3,86.8 373.4,87.7 377.4,87.3 381.5,86.8 385.5,87.3 389.6,87.7 393.6,87.3 397.7,87.9 401.7,88.3 405.8,87.9 409.9,87.3 413.9,86.2 415.9,84.2 419,84.6 422,83.8 426.1,83.4 430.1,83.8 434.2,84.2 436.2,82.2 437.8,76.1 438.6,72.5 439.8,76.1 441.3,84.2 442.3,90.3 443.9,96.4 445.3,99.4 446.7,98.4 448.4,102 450,102.9 451.4,98.4 452.8,94.3 454.4,91.3 456.1,92.3 457.5,89.3 459.5,84.2 461.5,80.2 463.6,77.7 465.6,79.1 467,81.2 467,82.2 468,84.2 470.1,88.3 471.7,87.3 473.1,82.2 475.1,77.1 477.1,74.1 479.2,72.5 481.2,73.1 483.2,75.1 485.3,78.1 487.3,76.1 489.3,78.5 491.3,80.2 493.4,79.8 495.4,80.2 497.4,83.2 499.4,80.2 501.5,76.1 503.5,73.1 505.5,71 507.5,71.6 509.6,74.1 511.6,78.1 513.6,83.2 515.7,87.3 517.7,88.3 519.1,84.2 520.7,79.1 522.3,78.5 523.8,83.2 525.8,84.2 527.8,83.2 530.9,81.2 533.9,82.2 536.9,82.6 540,81.8 543,81.2 546,82.2 549.1,80.6 552.1,80.2 555.2,82.2 558.2,84.6 560.2,84.2 562.3,83.2 564.9,81.2 566.3,83.2 568.3,84.6 570.4,82.2 573.4,78.5 576.4,77.1 579.5,77.7 582.5,79.1 585.6,80.6 588,82.6" fill="none" stroke="#0a0aff" stroke-width="1.6" stroke-linejoin="round"/>
<polyline points="345,86.4 405.8,86.6 467,86.6 467,86.6 476.1,87.3 486.3,87.9 492.3,87.3 498.4,85.8 502.5,83.8 506.5,82.2 510.6,81.8 514.6,82.6 518.7,84.6 522.7,85.8 530.9,86.2 547.1,86.2 567.3,85.8 588,85.8" fill="none" stroke="#000" stroke-width="1.7" stroke-linejoin="round"/>
</g>
<rect x="345.5" y="71.3" width="242.2" height="37.6" fill="none" stroke="#c4c4c4" stroke-width="1"/>
<text x="342.9" y="77.1" text-anchor="end" font-size="8.9">10</text>
<text x="342.9" y="89.2" text-anchor="end" font-size="8.9">0</text>
<text x="342.9" y="100.4" text-anchor="end" font-size="8.9">-10</text>
<text x="342.9" y="112" text-anchor="end" font-size="8.9">-20</text>
<path d="M345.5 73.9h2.2M587.7 73.9h-2.2M345.5 86h2.2M587.7 86h-2.2M345.5 97.2h2.2M587.7 97.2h-2.2" stroke="#c4c4c4" stroke-width="0.8" fill="none"/>
<text transform="translate(325.2,90.1) rotate(-90)" text-anchor="middle" font-size="9.1">BT (nT)</text>
<g clip-path="url(#c1_2)">
<polygon points="452.4,142.3 460.5,140.3 467,139.7 467,142.7 460.5,142.7 452.4,142.7" fill="#00ff00" stroke="#00ff00" stroke-width="0.8" stroke-linejoin="round"/>
<polygon points="466,140.3 476.1,137.8 486.3,136.2 496.4,135.2 506.5,135.2 516.7,135.8 526.8,135.2 532.9,136.2 539,139.3 547.1,140.7 557.2,141.3 567.3,141.5 588,141.5 588,142.7 567.3,142.7 557.2,143.1 547.1,142.9 539,142.7 526.8,143.9 516.7,144.7 506.5,145.9 496.4,146.3 486.3,144.3 476.1,143.3 466,142.7" fill="#00ff00" stroke="#00ff00" stroke-width="0.8" stroke-linejoin="round"/>
<polyline points="476.4,139.1 479,138.9 481.6,138.7 484.2,138.3 486.8,137.8 489.4,137.3 492,136.7 494.6,136.1 497.1,135.5 499.7,135.3 502.3,135.2 504.9,135.3 507.5,135.6 510.1,136.2 512.7,136.7 515.3,137.2 517.9,137.6 520.5,137.6 523.1,137.6 525.7,137.4 528.3,137.3 530.9,137.4 533.5,137.5 536.1,138.4" fill="none" stroke="#fff" stroke-opacity="0.6" stroke-width="0.7"/>
<polyline points="476.4,139.5 479,139.1 481.6,138.8 484.2,138.5 486.8,138.2 489.4,138.2 492,138.3 494.6,138.5 497.1,138.8 499.7,139.1 502.3,139.5 504.9,139.8 507.5,140 510.1,140.2 512.7,140.3 515.3,140.3 517.9,140.2 520.5,139.9 523.1,139.5 525.7,139.1 528.3,138.9 530.9,138.7 533.5,138.8 536.1,139.4" fill="none" stroke="#fff" stroke-opacity="0.6" stroke-width="0.7"/>
<polyline points="476.4,141.9 479,142 481.6,142.1 484.2,142.2 486.8,142.2 489.4,142.4 492,142.5 494.6,142.5 497.1,142.4 499.7,142.1 502.3,141.7 504.9,141.4 507.5,141 510.1,140.7 512.7,140.5 515.3,140.3 517.9,140.2 520.5,140 523.1,139.9 525.7,139.8 528.3,139.9 530.9,140.2 533.5,140.5 536.1,141" fill="none" stroke="#fff" stroke-opacity="0.6" stroke-width="0.7"/>
<polyline points="476.4,142.5 479,143 481.6,143.5 484.2,143.9 486.8,144.4 489.4,144.9 492,145.3 494.6,145.5 497.1,145.4 499.7,144.8 502.3,144.2 504.9,143.7 507.5,143.3 510.1,143 512.7,142.9 515.3,142.9 517.9,143 520.5,143.2 523.1,143.4 525.7,143.5 528.3,143.6 530.9,143.5 533.5,143.2 536.1,142.9" fill="none" stroke="#fff" stroke-opacity="0.6" stroke-width="0.7"/>
<line x1="451.5" y1="123.7" x2="451.5" y2="161.3" stroke="#ff3030" stroke-opacity="0.7" stroke-width="1.2" stroke-dasharray="2.6,1.2"/>
<line x1="509.7" y1="123.7" x2="509.7" y2="161.3" stroke="#ff3030" stroke-opacity="0.7" stroke-width="1.2" stroke-dasharray="2.6,1.2"/>
<line x1="433.5" y1="123.7" x2="433.5" y2="161.3" stroke="#8a8a8a" stroke-width="1.2"/>
<polyline points="345,143.3 349.1,142.9 353.1,143.3 357.2,143.5 361.2,142.9 365.3,142.3 369.3,142.7 372.4,141.3 375.4,141.5 379.5,141.3 383.5,141.1 387.6,140.9 391.6,140.9 395.7,140.7 399.7,140.9 403.8,141.5 405.8,142.3 409.9,142.7 413.9,142.7 416.9,143.3 420,144.3 423,143.9 426.1,143.3 430.1,142.9 434.2,142.7 436.2,142.3 437.8,145.3 439.2,146.3 441.3,144.7 443.3,146.3 444.7,151.4 445.9,155.5 447.3,152.4 448.8,149.4 450.4,148.8 451.8,146.3 453.4,141.9 454.4,140.7 456.1,142.3 458.1,145.3 460.5,143.9 462.5,142.7 464.6,145.3 466.2,148.4 467,148.8 468,150.4 470.1,149.4 473.1,148.4 476.1,148 479.2,148.4 482.2,148.8 485.3,148.4 487.3,148 489.3,143.3 491.3,135.2 493.4,133.8 496.4,132.6 498.4,130.5 500.5,129.1 502.1,127.1 503.1,136.2 504.1,145.3 505.5,145.3 507.5,144.3 509.6,143.9 511,143.3 513,141.9 514.6,141.3 516.7,143.3 518.7,140.3 520.7,138.6 522.7,139.9 525.2,140.7 526.8,141.9 529.2,140.3 531.9,141.9 534.9,141.3 537.9,140.7 541,140.3 543,139.3 545,141.9 547.1,141.3 549.5,139.9 551.1,140.3 553.1,141.3 555.2,142.7 556.8,144.7 558.2,143.3 560.2,141.9 563.3,142.3 567.3,141.3 571.4,142.3 575.4,142.7 579.5,142.3 582.5,143.3 584.6,141.9 586.6,142.7 588,143.9" fill="none" stroke="#0a0aff" stroke-width="1.6" stroke-linejoin="round"/>
<polyline points="345,142.7 467,142.3 467,142.3 476.1,141.7 486.3,140.9 492.3,139.9 497.4,138.6 502.5,137.8 506.5,139.9 510.6,141.9 516.7,142.7 526.8,142.3 547.1,141.9 567.3,141.9 588,141.9" fill="none" stroke="#000" stroke-width="1.7" stroke-linejoin="round"/>
</g>
<rect x="345.5" y="123.7" width="242.2" height="37.6" fill="none" stroke="#c4c4c4" stroke-width="1"/>
<text x="342.9" y="127.2" text-anchor="end" font-size="8.9">20</text>
<text x="342.9" y="145.8" text-anchor="end" font-size="8.9">0</text>
<text x="342.9" y="164.7" text-anchor="end" font-size="8.9">-20</text>
<path d="M345.5 142.6h2.2M587.7 142.6h-2.2" stroke="#c4c4c4" stroke-width="0.8" fill="none"/>
<text transform="translate(325.2,142.5) rotate(-90)" text-anchor="middle" font-size="9.1">BN (nT)</text>
<g clip-path="url(#c1_3)">
<polygon points="452.4,210.5 454.4,207.5 458.5,205 462.5,204.4 467,204.4 467,211.9 452.4,211.9" fill="#00ff00" stroke="#00ff00" stroke-width="0.8" stroke-linejoin="round"/>
<polyline points="458.2,205.4 461.2,205.2 464.1,205.5 467,206" fill="none" stroke="#fff" stroke-opacity="0.6" stroke-width="0.7"/>
<polyline points="458.2,209.3 461.2,208.8 464.1,208.4 467,208" fill="none" stroke="#fff" stroke-opacity="0.6" stroke-width="0.7"/>
<polyline points="458.2,211.1 461.2,211.3 464.1,211.5 467,211.7" fill="none" stroke="#fff" stroke-opacity="0.6" stroke-width="0.7"/>
<polygon points="466,203.4 476.1,203.4 486.3,203.8 496.4,204.4 506.5,203.8 512.6,201.4 518.7,197.3 524.8,194.9 530.9,198.3 536.9,202.4 543,206.4 549.1,210.5 557.2,211.1 588,210.5 588,211.9 557.2,212.5 547.1,212.7 526.8,212.7 518.7,212.1 512.6,209.5 506.5,208.5 496.4,207.9 486.3,208.5 476.1,210.5 466,211.9" fill="#00ff00" stroke="#00ff00" stroke-width="0.8" stroke-linejoin="round"/>
<polyline points="466,204.1 468.6,204.3 471.2,204.4 473.8,204.4 476.4,204.4 479,204.4 481.6,204.3 484.2,204.2" fill="none" stroke="#fff" stroke-opacity="0.6" stroke-width="0.7"/>
<polyline points="507.5,203.7 510.1,202.9 512.7,202.2 515.3,201 517.9,199.8 520.5,198.8 523.1,197.8 525.7,197.5 528.3,198.4 530.9,199.4 533.5,200.7 536.1,202.1 538.7,203.6 541.3,205.3 543.9,207" fill="none" stroke="#fff" stroke-opacity="0.6" stroke-width="0.7"/>
<polyline points="466,205.2 468.6,205 471.2,204.8 473.8,204.6 476.4,204.5 479,204.4 481.6,204.4 484.2,204.5" fill="none" stroke="#fff" stroke-opacity="0.6" stroke-width="0.7"/>
<polyline points="507.5,204.9 510.1,204.3 512.7,203.6 515.3,202.6 517.9,201.5 520.5,200.5 523.1,199.4 525.7,199 528.3,199.9 530.9,200.9 533.5,202.1 536.1,203.5 538.7,204.9 541.3,206.3 543.9,207.9" fill="none" stroke="#fff" stroke-opacity="0.6" stroke-width="0.7"/>
<polyline points="466,206.9 468.6,206.8 471.2,206.7 473.8,206.6 476.4,206.4 479,206.2 481.6,206 484.2,205.8" fill="none" stroke="#fff" stroke-opacity="0.6" stroke-width="0.7"/>
<polyline points="507.5,204.9 510.1,204.3 512.7,203.7 515.3,202.8 517.9,202 520.5,201.4 523.1,200.9 525.7,201.1 528.3,202.4 530.9,203.6 533.5,204.9 536.1,206.1 538.7,207.3 541.3,208.4 543.9,209.4" fill="none" stroke="#fff" stroke-opacity="0.6" stroke-width="0.7"/>
<polyline points="466,207.1 468.6,207.1 471.2,207.1 473.8,207.2 476.4,207.1 479,207.1 481.6,206.9 484.2,206.7" fill="none" stroke="#fff" stroke-opacity="0.6" stroke-width="0.7"/>
<polyline points="507.5,205.7 510.1,205.3 512.7,205.1 515.3,204.9 517.9,204.9 520.5,204.9 523.1,204.9 525.7,205.2 528.3,205.9 530.9,206.5 533.5,207.1 536.1,207.6 538.7,208.2 541.3,208.8 543.9,209.6" fill="none" stroke="#fff" stroke-opacity="0.6" stroke-width="0.7"/>
<polyline points="466,209.4 468.6,209.1 471.2,208.7 473.8,208.3 476.4,208 479,207.5 481.6,207.1 484.2,206.8" fill="none" stroke="#fff" stroke-opacity="0.6" stroke-width="0.7"/>
<polyline points="507.5,206.8 510.1,206.8 512.7,206.9 515.3,207.3 517.9,207.7 520.5,207.8 523.1,207.6 525.7,207.6 528.3,207.9 530.9,208.2 533.5,208.5 536.1,208.9 538.7,209.3 541.3,209.8 543.9,210.4" fill="none" stroke="#fff" stroke-opacity="0.6" stroke-width="0.7"/>
<polyline points="466,209.9 468.6,209.8 471.2,209.6 473.8,209.4 476.4,209.2 479,208.9 481.6,208.5 484.2,208.1" fill="none" stroke="#fff" stroke-opacity="0.6" stroke-width="0.7"/>
<polyline points="507.5,207.5 510.1,207.5 512.7,207.5 515.3,207.7 517.9,208 520.5,207.9 523.1,207.6 525.7,207.7 528.3,208.2 530.9,208.7 533.5,209.3 536.1,209.9 538.7,210.5 541.3,211 543.9,211.5" fill="none" stroke="#fff" stroke-opacity="0.6" stroke-width="0.7"/>
<polyline points="466,210.8 468.6,210.4 471.2,210.1 473.8,209.8 476.4,209.6 479,209.3 481.6,209 484.2,208.7" fill="none" stroke="#fff" stroke-opacity="0.6" stroke-width="0.7"/>
<polyline points="507.5,208.1 510.1,208.2 512.7,208.4 515.3,209.1 517.9,209.9 520.5,210.4 523.1,210.8 525.7,211.5 528.3,212 530.9,212.4 533.5,212.6 536.1,212.7 538.7,212.7 541.3,212.6 543.9,212.5" fill="none" stroke="#fff" stroke-opacity="0.6" stroke-width="0.7"/>
<line x1="451.5" y1="176.9" x2="451.5" y2="214.5" stroke="#ff3030" stroke-opacity="0.7" stroke-width="1.2" stroke-dasharray="2.6,1.2"/>
<line x1="509.7" y1="176.9" x2="509.7" y2="214.5" stroke="#ff3030" stroke-opacity="0.7" stroke-width="1.2" stroke-dasharray="2.6,1.2"/>
<line x1="433.5" y1="176.9" x2="433.5" y2="214.5" stroke="#8a8a8a" stroke-width="1.2"/>
<polyline points="345,211.9 355.1,211.5 365.3,211.1 375.4,210.9 385.5,210.5 395.7,210.5 405.8,210.1 411.9,209.9 414.9,208.5 418,207.9 422,208.1 426.1,207.9 430.1,208.5 432.1,209.1 433.8,206.4 435.2,199.3 437.2,193.3 438.6,190.8 439.8,195.3 441.3,203.4 442.7,208.5 444.3,209.9 446.3,209.5 448.4,210.1 450.4,209.1 452,210.5 453.4,208.5 455.4,207.9 458.5,208.5 461.5,208.1 464.6,209.1 467,208.5 467,209.1 474.1,207.9 482.2,206.4 484.2,203.4 486.3,198.3 487.9,204.4 489.3,201.4 491.3,203 493.4,200.4 495.4,201.4 497.4,200.4 498.8,201.4 499.4,214.5" fill="none" stroke="#0a0aff" stroke-width="1.6" stroke-linejoin="round"/>
<polyline points="509.6,207.9 512.6,207 515.7,207 518.7,207.9 521.7,209.5 523.8,211.5 526.8,211.1 536.9,211.1 547.1,211.5 557.2,211.1 567.3,210.9 577.5,210.5 588,210.5" fill="none" stroke="#0a0aff" stroke-width="1.6" stroke-linejoin="round"/>
<polyline points="345,212.1 365.3,212.1 385.5,211.9 405.8,211.9 426.1,211.5 446.3,211.5 467,211.5 467,211.1 470.1,209.5 474.1,206.4 478.2,205 486.3,205.4 496.4,206 506.5,206.8 512.6,207.9 516.7,209.9 520.7,212.1 526.8,212.5 547.1,212.5 567.3,211.9 588,211.1" fill="none" stroke="#000" stroke-width="1.7" stroke-linejoin="round"/>
</g>
<rect x="345.5" y="176.9" width="242.2" height="37.6" fill="none" stroke="#c4c4c4" stroke-width="1"/>
<text x="342.9" y="185.9" text-anchor="end" font-size="8.9">50</text>
<text x="342.9" y="217.3" text-anchor="end" font-size="8.9">0</text>
<path d="M345.5 182.7h2.2M587.7 182.7h-2.2" stroke="#c4c4c4" stroke-width="0.8" fill="none"/>
<text transform="translate(325.2,195.7) rotate(-90)" text-anchor="middle" font-size="9.1">N<tspan font-size="8.2" dy="2.9">p</tspan><tspan dy="-2.9"> (cm</tspan><tspan font-size="8.2" dy="-4.5">-3</tspan><tspan dy="4.5">)</tspan></text>
<g clip-path="url(#c1_4)">
<polygon points="451.4,252.8 454.4,250.7 458.5,249.9 467,249.9 467,254 458.5,253.8 452.4,253.6" fill="#00ff00" stroke="#00ff00" stroke-width="0.8" stroke-linejoin="round"/>
<polygon points="466,248.7 478.2,248.7 490.3,248.7 498.4,247.9 506.5,246.3 514.6,245.9 526.8,245.3 526.8,254.4 506.5,254.4 490.3,254.4 478.2,254.4 466,254.4" fill="#00ff00" stroke="#00ff00" stroke-width="0.8" stroke-linejoin="round"/>
<polyline points="466,250.3 468.6,250.5 471.3,250.6 473.9,250.5 476.6,250.4 479.2,250.1 481.9,249.8 484.5,249.4 487.1,249.1 489.8,248.8 492.4,248.5 495.1,248.2 497.7,248.1 500.4,248 503,247.9 505.7,247.9 508.3,248.2 510.9,248.5 513.6,248.7 516.2,248.6 518.9,248.4 521.5,248 524.2,247.4 526.8,246.7" fill="none" stroke="#fff" stroke-opacity="0.6" stroke-width="0.7"/>
<polyline points="466,251 468.6,250.8 471.3,250.7 473.9,250.6 476.6,250.6 479.2,250.7 481.9,250.8 484.5,251 487.1,251.3 489.8,251.5 492.4,251.7 495.1,251.8 497.7,252 500.4,252 503,251.9 505.7,251.7 508.3,251.5 510.9,251.3 513.6,251 516.2,250.6 518.9,250.1 521.5,249.6 524.2,249.2 526.8,248.8" fill="none" stroke="#fff" stroke-opacity="0.6" stroke-width="0.7"/>
<polyline points="466,254.4 468.6,254.4 471.3,254.3 473.9,254.2 476.6,254 479.2,253.9 481.9,253.7 484.5,253.5 487.1,253.3 489.8,253.1 492.4,252.8 495.1,252.6 497.7,252.4 500.4,252.1 503,251.9 505.7,251.7 508.3,251.7 510.9,251.8 513.6,252 516.2,252.2 518.9,252.5 521.5,252.7 524.2,253 526.8,253.4" fill="none" stroke="#fff" stroke-opacity="0.6" stroke-width="0.7"/>
<line x1="451.5" y1="229.3" x2="451.5" y2="266.9" stroke="#ff3030" stroke-opacity="0.7" stroke-width="1.2" stroke-dasharray="2.6,1.2"/>
<line x1="509.7" y1="229.3" x2="509.7" y2="266.9" stroke="#ff3030" stroke-opacity="0.7" stroke-width="1.2" stroke-dasharray="2.6,1.2"/>
<line x1="433.5" y1="229.3" x2="433.5" y2="266.9" stroke="#8a8a8a" stroke-width="1.2"/>
<polyline points="345,254.4 355.1,255 365.3,255.8 375.4,256.4 385.5,256.4 395.7,256.4 405.8,256.8 415.9,256.8 426.1,257 432.1,257.4 435.2,256.4 437.2,254.4 439.2,252.3 442.3,251.3 446.3,250.3 450.4,250.3 452.4,249.3 454.4,247.3 456.1,248.3 458.5,248.7 461.5,248.7 464.6,249.3 467,249.9 467,249.9 470.1,249.3 474.1,248.7 478.2,249.9 482.2,250.3 486.3,249.9 490.3,250.3 496.4,250.3 502.5,249.9 506.5,250.3 510.6,249.9 514.6,249.3 517.7,250.3 519.7,250.7 521.7,248.7 524.8,246.7 526.8,246.3 555.2,246.1 583.5,245.9 588,245.9" fill="none" stroke="#0a0aff" stroke-width="1.6" stroke-linejoin="round"/>
<polyline points="345,247.9 365.3,249.3 385.5,250.7 405.8,251.9 426.1,253 436.2,253.6 446.3,253.8 456.5,254 467,254.4 467,254.4 470.1,253.4 476.1,251.9 482.2,251.3 490.3,251.3 498.4,251.1 506.5,250.7 512.6,249.3 516.7,247.9 520.7,246.7 524.8,246.3 526.8,246.3 555.2,248.7 583.5,251.3 588,251.3" fill="none" stroke="#000" stroke-width="1.7" stroke-linejoin="round"/>
</g>
<rect x="345.5" y="229.3" width="242.2" height="37.6" fill="none" stroke="#c4c4c4" stroke-width="1"/>
<text x="342.9" y="232.9" text-anchor="end" font-size="8.9">1000</text>
<text x="342.9" y="253.4" text-anchor="end" font-size="8.9">500</text>
<path d="M345.5 250.2h2.2M587.7 250.2h-2.2M406.1 229.3v2.2M406.1 266.9v-2.2M466.6 229.3v2.2M466.6 266.9v-2.2M527.2 229.3v2.2M527.2 266.9v-2.2" stroke="#c4c4c4" stroke-width="0.8" fill="none"/>
<text transform="translate(315.2,248.1) rotate(-90)" text-anchor="middle" font-size="9.1">V<tspan font-size="8.2" dy="2.9">r</tspan><tspan dy="-2.9"> (Km/s)</tspan></text>
<text x="345.5" y="277.4" text-anchor="middle" font-size="8.9">Sep 08</text>
<text x="406.1" y="277.4" text-anchor="middle" font-size="8.9">Sep 09</text>
<text x="466.6" y="277.4" text-anchor="middle" font-size="8.9">Sep 10</text>
<text x="527.2" y="277.4" text-anchor="middle" font-size="8.9">Sep 11</text>
<text x="587.7" y="277.4" text-anchor="middle" font-size="8.9">Sep 12</text>
<text x="466.6" y="289.8" text-anchor="middle" font-size="9.5">Time (Year)</text>
<text x="569.6" y="289.6" text-anchor="middle" font-size="8.9">2011</text>
<rect x="526.2" y="231.1" width="58.5" height="31.1" fill="#fff" stroke="#c4c4c4" stroke-width="0.8"/>
<line x1="528.2" y1="237" x2="541.2" y2="237" stroke="#00ff00" stroke-width="1.2"/>
<text x="542.9" y="239.8" font-size="7.9">Ensemble</text>
<line x1="528.2" y1="246.6" x2="541.2" y2="246.6" stroke="#0a0aff" stroke-width="1.6"/>
<text x="542.9" y="249.4" font-size="7.9">OMNI data</text>
<line x1="528.2" y1="256.4" x2="541.2" y2="256.4" stroke="#000" stroke-width="1.6"/>
<text x="542.9" y="259.2" font-size="7.9">Simulation</text>
<text x="241.8" y="309.7" text-anchor="middle" style="font-family:'Liberation Serif',serif;fill:#000" font-size="18.2">3</text>
<g clip-path="url(#c2_0)">
<polygon points="117.1,332.2 120.9,328.4 124.8,325.5 128.6,324.5 132.5,323.6 136.3,322.6 140.2,320.7 144.1,317.8 147.9,315.9 151.8,315.9 156,316.8 156,331.3 151.8,331.3 147.9,332.8 144.1,332.2 140.2,332.2 136.3,333.2 132.5,332.8 128.6,333.6 124.8,333.6 120.9,333.2 117.1,333.2" fill="#00ff00" stroke="#00ff00" stroke-width="0.8" stroke-linejoin="round"/>
<polyline points="122.6,327.7 125.4,326.4 128.2,325.9 131,325.2 133.8,324.5 136.5,323.7 139.3,322.2 142.1,320.1 144.9,317.9 147.7,316.2 150.4,315.9 153.2,316.2 156,317" fill="none" stroke="#fff" stroke-opacity="0.6" stroke-width="0.7"/>
<polyline points="122.6,328.2 125.4,326.6 128.2,325.9 131,325.3 133.8,324.7 136.5,324.2 139.3,323 142.1,321.7 144.9,320.5 147.7,319.8 150.4,319.8 153.2,320.2 156,320.8" fill="none" stroke="#fff" stroke-opacity="0.6" stroke-width="0.7"/>
<polyline points="122.6,329.5 125.4,328.3 128.2,327.7 131,327 133.8,326.3 136.5,325.7 139.3,324.4 142.1,323 144.9,321.7 147.7,320.8 150.4,320.5 153.2,320.7 156,321.4" fill="none" stroke="#fff" stroke-opacity="0.6" stroke-width="0.7"/>
<polyline points="122.6,329.9 125.4,329.3 128.2,329.2 131,328.8 133.8,328.6 136.5,328.6 139.3,327.6 142.1,326.6 144.9,325.5 147.7,324.7 150.4,323.7 153.2,323.2 156,323.2" fill="none" stroke="#fff" stroke-opacity="0.6" stroke-width="0.7"/>
<polyline points="122.6,331.3 125.4,330.7 128.2,330.3 131,329.6 133.8,329 136.5,328.7 139.3,327.6 142.1,326.7 144.9,326 147.7,325.8 150.4,325.4 153.2,325.5 156,326" fill="none" stroke="#fff" stroke-opacity="0.6" stroke-width="0.7"/>
<polyline points="122.6,332.5 125.4,332.4 128.2,332.2 131,331.6 133.8,331.2 136.5,331.1 139.3,330.1 142.1,329.3 144.9,328.7 147.7,328.5 150.4,327.5 153.2,327.1 156,327.2" fill="none" stroke="#fff" stroke-opacity="0.6" stroke-width="0.7"/>
<polyline points="122.6,332.5 125.4,332.4 128.2,332.4 131,332 133.8,332 136.5,332.5 139.3,332 142.1,332 144.9,332.3 147.7,332.8 150.4,331.7 153.2,330.9 156,330.5" fill="none" stroke="#fff" stroke-opacity="0.6" stroke-width="0.7"/>
<polygon points="155,316.8 160.8,319.7 166.6,317.8 172.3,316.8 176.2,316.2 182,318.7 187.8,322.6 193.5,325.5 203.2,326.5 212.8,327.8 222.4,330.3 232.1,332.2 241.7,333.2 251.3,333.2 261,333.2 271,332.8 271,336.1 261,336.1 251.3,336.1 241.7,336.1 232.1,335.5 222.4,335.5 212.8,336.1 203.2,336.1 193.5,336.1 183.9,335.1 174.3,333.2 164.6,331.3 155,331.3" fill="#00ff00" stroke="#00ff00" stroke-width="0.8" stroke-linejoin="round"/>
<polyline points="155,316.9 157.6,318.4 160.2,319.9 162.7,319.9 165.3,319.4 167.9,319.2 170.5,319.2 173,319 175.6,318.8 178.2,319.3 180.8,320.1 183.4,321.1 185.9,322.3 188.5,323.5 191.1,324.5 193.7,325.6 196.2,325.8 198.8,326.1 201.4,326.5 204,326.9 206.6,327.5 209.1,328.1 211.7,328.6 214.3,329.2 216.9,329.8 219.4,330.4 222,330.9" fill="none" stroke="#fff" stroke-opacity="0.6" stroke-width="0.7"/>
<polyline points="155,320.8 157.6,321.8 160.2,322.8 162.7,322.5 165.3,321.9 167.9,321.4 170.5,321 173,320.5 175.6,320 178.2,320.4 180.8,321.1 183.4,322.2 185.9,323.5 188.5,324.8 191.1,325.9 193.7,327.1 196.2,327.4 198.8,327.7 201.4,328.1 204,328.5 206.6,329 209.1,329.4 211.7,329.8 214.3,330.3 216.9,330.8 219.4,331.3 222,331.7" fill="none" stroke="#fff" stroke-opacity="0.6" stroke-width="0.7"/>
<polyline points="155,321.3 157.6,322.3 160.2,323.4 162.7,323.3 165.3,323 167.9,323 170.5,323.2 173,323.3 175.6,323.5 178.2,324.3 180.8,325.2 183.4,326.2 185.9,327.3 188.5,328.3 191.1,329 193.7,329.7 196.2,329.8 198.8,329.8 201.4,329.8 204,329.8 206.6,329.9 209.1,330.1 211.7,330.2 214.3,330.5 216.9,330.9 219.4,331.3 222,331.7" fill="none" stroke="#fff" stroke-opacity="0.6" stroke-width="0.7"/>
<polyline points="155,323.3 157.6,323.8 160.2,324.5 162.7,324.3 165.3,324.1 167.9,324.2 170.5,324.6 173,325.1 175.6,325.6 178.2,326.5 180.8,327.5 183.4,328.4 185.9,329.2 188.5,329.9 191.1,330.3 193.7,330.8 196.2,330.7 198.8,330.6 201.4,330.6 204,330.6 206.6,330.9 209.1,331.2 211.7,331.5 214.3,332 216.9,332.4 219.4,332.8 222,333.2" fill="none" stroke="#fff" stroke-opacity="0.6" stroke-width="0.7"/>
<polyline points="155,325.9 157.6,326.6 160.2,327.3 162.7,327.4 165.3,327.4 167.9,327.7 170.5,328 173,328.3 175.6,328.5 178.2,328.9 180.8,329.4 183.4,329.9 185.9,330.4 188.5,330.9 191.1,331.4 193.7,331.8 196.2,331.8 198.8,331.8 201.4,331.9 204,332 206.6,332.2 209.1,332.5 211.7,332.8 214.3,333.1 216.9,333.4 219.4,333.6 222,333.8" fill="none" stroke="#fff" stroke-opacity="0.6" stroke-width="0.7"/>
<polyline points="155,327.2 157.6,327.5 160.2,327.9 162.7,327.8 165.3,327.8 167.9,328.1 170.5,328.5 173,329 175.6,329.6 178.2,330.4 180.8,331.3 183.4,332.2 185.9,332.9 188.5,333.6 191.1,334.1 193.7,334.5 196.2,334.6 198.8,334.6 201.4,334.6 204,334.6 206.6,334.6 209.1,334.5 211.7,334.5 214.3,334.4 216.9,334.3 219.4,334.2 222,334.2" fill="none" stroke="#fff" stroke-opacity="0.6" stroke-width="0.7"/>
<polyline points="155,330.7 157.6,330.4 160.2,330.2 162.7,329.8 165.3,329.6 167.9,329.9 170.5,330.3 173,330.8 175.6,331.5 178.2,332.5 180.8,333.5 183.4,334.4 185.9,335.1 188.5,335.5 191.1,335.8 193.7,336 196.2,335.9 198.8,335.7 201.4,335.4 204,335.2 206.6,335 209.1,334.9 211.7,334.9 214.3,334.9 216.9,334.9 219.4,335 222,335.1" fill="none" stroke="#fff" stroke-opacity="0.6" stroke-width="0.7"/>
<line x1="107.6" y1="315.6" x2="107.6" y2="351.1" stroke="#ff3030" stroke-opacity="0.7" stroke-width="1.2" stroke-dasharray="2.6,1.2"/>
<line x1="146" y1="315.6" x2="146" y2="351.1" stroke="#ff3030" stroke-opacity="0.7" stroke-width="1.2" stroke-dasharray="2.6,1.2"/>
<line x1="93.7" y1="315.6" x2="93.7" y2="351.1" stroke="#8a8a8a" stroke-width="1.2"/>
<polyline points="40,336.1 42.9,335.1 45.8,333.6 47.7,332.2 49.6,333.6 51.6,334.2 53.5,332.8 55.4,333.2 57.3,337 59.3,336.7 62.2,336.3 65,336.7 67.9,337 70.8,338 72.8,337.4 74.7,336.1 76.6,336.7 78.2,331.3 79.5,332.2 81.4,334.2 84.3,333.6 87.2,332.8 90.1,333.2 92,334.2 94,336.1 96.8,337 99.7,338 101.3,333.2 102.6,327.4 104.6,321.6 106.5,317.8 107.8,316.8 109.4,319.7 111.3,321.6 112.3,327.4 113.2,339 114.2,347.6 115.1,350.5 116.1,344.8 117.1,335.1 118,325.5 119,323.2 120.9,324.5 122.9,325.5 124.8,325.9 126.3,329.3 127.7,333.2 129,334.2 130.6,331.3 132.5,330.3 134.4,331.3 136.3,333.2 138.3,334.7 140.2,333.6 142.1,332.8 144.1,332.2 146,331.3 147.9,330.3 149.8,328.4 151.8,327.4 153.7,326.5 154.7,328.4 156,331.3 156.5,333.2 157.9,336.1 159.8,337.4 162.7,337 165.6,336.7 168.5,336.1 170.4,333.2 172.3,329 174.3,331.3 176.2,334.2 178.1,336.1 180,337 182,336.1 183.9,337 185.8,336.7 188.7,338 191.6,339 194.5,337 197.4,334.2 200.3,331.3 202.2,332.2 204.1,336.1 206.1,339 208,339.9 209.9,337 211.8,334.2 213.8,331.3 215.7,332.2 218.6,332.8 221.5,332.2 223.4,333.2 225.3,336.1 228.2,339 231.1,340.5 234,339 236.9,336.1 239.4,331.3 240.7,332.2 242.7,336.1 244.6,339 246.5,338 248.5,333.2 250.4,327.4 251.7,328.4 253.3,332.2 255.2,336.1 257.1,337 260,336.1 262.9,337 265.8,336.1 268.7,335.1 271,334.7" fill="none" stroke="#0a0aff" stroke-width="1.6" stroke-linejoin="round"/>
<polyline points="40,331.3 49.6,332.2 59.3,332.2 68.9,332 78.5,332.2 88.2,332.4 97.8,333.2 107.4,333.6 117.1,333.6 122.9,333.2 128.6,332.2 134.4,330.3 140.2,328.4 146,326.5 150.8,324.5 153.7,323.9 156,324.5 156,324.9 158.9,325.9 162.7,327.4 166.6,328 174.3,328.4 183.9,329 193.5,329.3 199.3,330.3 205.1,331.3 212.8,332.8 222.4,333.8 232.1,334.7 241.7,335.1 251.3,335.1 261,334.7 271,334.5" fill="none" stroke="#000" stroke-width="1.7" stroke-linejoin="round"/>
</g>
<rect x="40.5" y="315.6" width="230" height="35.5" fill="none" stroke="#c4c4c4" stroke-width="1"/>
<text x="37.9" y="324.3" text-anchor="end" font-size="8.5">5</text>
<text x="37.9" y="334.2" text-anchor="end" font-size="8.5">0</text>
<text x="37.9" y="344.2" text-anchor="end" font-size="8.5">-5</text>
<text x="37.9" y="353.7" text-anchor="end" font-size="8.5">-10</text>
<path d="M40.5 321.3h2.2M270.5 321.3h-2.2M40.5 331.2h2.2M270.5 331.2h-2.2M40.5 341.2h2.2M270.5 341.2h-2.2" stroke="#c4c4c4" stroke-width="0.8" fill="none"/>
<text transform="translate(21.3,333.4) rotate(-90)" text-anchor="middle" font-size="8.5">BR (nT)</text>
<g clip-path="url(#c2_1)">
<polygon points="109.4,378.4 113.2,375.5 117.1,373.6 120.9,370.7 124.8,369.3 128.6,368.7 132.5,367.8 136.3,367.4 142.1,366.8 146,365.5 149.8,364.9 156,365.5 156,390.9 151.8,391.9 147.9,391.9 144.1,390.5 140.2,388 136.3,384.7 132.5,383.2 128.6,382.2 124.8,381.3 120.9,380.3 117.1,379.3 113.2,379.3 109.4,379" fill="#00ff00" stroke="#00ff00" stroke-width="0.8" stroke-linejoin="round"/>
<polyline points="117.6,373.6 120.3,371.8 123.1,370.9 125.8,370.3 128.6,369.9 131.3,369.2 134.1,368.7 136.8,368.2 139.5,367.7 142.3,367.1 145,365.9 147.8,365.2 150.5,365 153.3,365.5 156,366.1" fill="none" stroke="#fff" stroke-opacity="0.6" stroke-width="0.7"/>
<polyline points="117.6,373.8 120.3,372 123.1,370.9 125.8,370.3 128.6,370 131.3,369.6 134.1,369.4 136.8,369.5 139.5,369.8 142.3,370.1 145,369.8 147.8,369.7 150.5,369.7 153.3,370 156,370.1" fill="none" stroke="#fff" stroke-opacity="0.6" stroke-width="0.7"/>
<polyline points="117.6,374.6 120.3,373.1 123.1,372.2 125.8,371.7 128.6,371.4 131.3,370.9 134.1,370.6 136.8,370.6 139.5,370.8 142.3,370.9 145,370.6 147.8,370.4 150.5,370.5 153.3,370.9 156,371.2" fill="none" stroke="#fff" stroke-opacity="0.6" stroke-width="0.7"/>
<polyline points="117.6,375 120.3,373.8 123.1,373.4 125.8,373.3 128.6,373.4 131.3,373.4 134.1,373.5 136.8,373.8 139.5,374.2 142.3,374.4 145,373.8 147.8,373.3 150.5,372.7 153.3,372.5 156,372.4" fill="none" stroke="#fff" stroke-opacity="0.6" stroke-width="0.7"/>
<polyline points="117.6,375.9 120.3,374.9 123.1,374.3 125.8,374 128.6,373.8 131.3,373.6 134.1,373.5 136.8,373.8 139.5,374.5 142.3,375.2 145,375.3 147.8,375.6 150.5,375.9 153.3,376.2 156,376.4" fill="none" stroke="#fff" stroke-opacity="0.6" stroke-width="0.7"/>
<polyline points="117.6,376.6 120.3,376 123.1,375.7 125.8,375.7 128.6,375.7 131.3,375.6 134.1,375.7 136.8,376 139.5,376.8 142.3,377.4 145,377.4 147.8,377.4 150.5,377.2 153.3,377.2 156,377.1" fill="none" stroke="#fff" stroke-opacity="0.6" stroke-width="0.7"/>
<polyline points="117.6,376.6 120.3,376 123.1,375.9 125.8,376.1 128.6,376.4 131.3,376.8 134.1,377.4 136.8,378.4 139.5,380 142.3,381.1 145,381.7 147.8,381.8 150.5,381.4 153.3,380.8 156,380.1" fill="none" stroke="#fff" stroke-opacity="0.6" stroke-width="0.7"/>
<polyline points="117.6,377.8 120.3,377.7 123.1,377.8 125.8,378 128.6,378.2 131.3,378.3 134.1,378.6 136.8,379.1 139.5,380.4 142.3,381.3 145,381.8 147.8,382.1 150.5,382.1 153.3,382.2 156,382.1" fill="none" stroke="#fff" stroke-opacity="0.6" stroke-width="0.7"/>
<polyline points="117.6,378.2 120.3,378.4 123.1,378.8 125.8,379.3 128.6,379.8 131.3,380.2 134.1,380.8 136.8,381.7 139.5,383.4 142.3,384.6 145,385.4 147.8,385.7 150.5,385.4 153.3,385 156,384.4" fill="none" stroke="#fff" stroke-opacity="0.6" stroke-width="0.7"/>
<polyline points="117.6,378.6 120.3,378.8 123.1,379 125.8,379.3 128.6,379.8 131.3,380.2 134.1,381.1 136.8,382.3 139.5,384.6 142.3,386.6 145,388.2 147.8,389.3 150.5,389.4 153.3,389.1 156,388.3" fill="none" stroke="#fff" stroke-opacity="0.6" stroke-width="0.7"/>
<polyline points="117.6,379.3 120.3,380 123.1,380.7 125.8,381.5 128.6,382.2 131.3,382.9 134.1,383.7 136.8,384.9 139.5,386.9 142.3,388.5 145,389.6 147.8,390.1 150.5,389.9 153.3,389.3 156,388.6" fill="none" stroke="#fff" stroke-opacity="0.6" stroke-width="0.7"/>
<polygon points="155,368.7 160.8,367.8 166.6,369.3 172.3,366.8 176.2,367.4 182,369.7 187.8,374.5 193.5,377.4 203.2,379 212.8,377.8 222.4,377.4 232.1,377 241.7,377 251.3,377.4 261,377.8 271,375.5 271,378.4 261,380.3 251.3,380.9 241.7,381.7 232.1,382.2 222.4,383.2 212.8,384.2 203.2,385.1 193.5,386.1 183.9,387 174.3,389 166.6,390.5 160.8,391.3 155,390.9" fill="#00ff00" stroke="#00ff00" stroke-width="0.8" stroke-linejoin="round"/>
<polyline points="155,369.2 157.6,369.2 160.2,369.2 162.7,370 165.3,370.9 167.9,370.8 170.5,369.8 173,369.1 175.6,369.1 178.2,369.6 180.8,370.2 183.4,371.4 185.9,373.3 188.5,375 191.1,376.2 193.7,377.4 196.2,377.9 198.8,378.4 201.4,378.9 204,379.2 206.6,379 209.1,378.8 211.7,378.5 214.3,378.4 216.9,378.2 219.4,378 222,377.8 224.6,377.6 227.2,377.4 229.8,377.2 232.3,377.1 234.9,377" fill="none" stroke="#fff" stroke-opacity="0.6" stroke-width="0.7"/>
<polyline points="155,373.2 157.6,372.8 160.2,372.4 162.7,372.5 165.3,372.8 167.9,372.2 170.5,370.9 173,369.9 175.6,369.9 178.2,370.4 180.8,371.2 183.4,372.5 185.9,374.4 188.5,376.1 191.1,377.3 193.7,378.5 196.2,378.9 198.8,379.3 201.4,379.7 204,379.9 206.6,379.7 209.1,379.4 211.7,379.2 214.3,379 216.9,378.9 219.4,378.7 222,378.5 224.6,378.3 227.2,378.1 229.8,377.9 232.3,377.7 234.9,377.7" fill="none" stroke="#fff" stroke-opacity="0.6" stroke-width="0.7"/>
<polyline points="155,374.1 157.6,374.1 160.2,374.1 162.7,374.5 165.3,375.1 167.9,375 170.5,374.2 173,373.6 175.6,373.7 178.2,374.2 180.8,374.7 183.4,375.6 185.9,376.9 188.5,378.1 191.1,378.9 193.7,379.6 196.2,379.8 198.8,380 201.4,380.1 204,380.2 206.6,379.8 209.1,379.5 211.7,379.2 214.3,379 216.9,378.9 219.4,378.8 222,378.7 224.6,378.6 227.2,378.5 229.8,378.4 232.3,378.3 234.9,378.3" fill="none" stroke="#fff" stroke-opacity="0.6" stroke-width="0.7"/>
<polyline points="155,375.4 157.6,375.2 160.2,375.1 162.7,375.6 165.3,376.3 167.9,376.3 170.5,375.8 173,375.5 175.6,375.8 178.2,376.2 180.8,376.6 183.4,377.2 185.9,378.2 188.5,379.1 191.1,379.6 193.7,380.2 196.2,380.3 198.8,380.5 201.4,380.7 204,380.8 206.6,380.5 209.1,380.3 211.7,380.2 214.3,380.1 216.9,380 219.4,379.9 222,379.8 224.6,379.6 227.2,379.4 229.8,379.1 232.3,378.9 234.9,378.7" fill="none" stroke="#fff" stroke-opacity="0.6" stroke-width="0.7"/>
<polyline points="155,379.1 157.6,379.2 160.2,379.3 162.7,379.6 165.3,379.8 167.9,379.5 170.5,378.6 173,377.8 175.6,377.5 178.2,377.5 180.8,377.6 183.4,378 185.9,378.9 188.5,379.8 191.1,380.3 193.7,380.9 196.2,381 198.8,381.2 201.4,381.4 204,381.4 206.6,381.2 209.1,381 211.7,380.8 214.3,380.7 216.9,380.6 219.4,380.4 222,380.3 224.6,380.2 227.2,380 229.8,379.8 232.3,379.6 234.9,379.4" fill="none" stroke="#fff" stroke-opacity="0.6" stroke-width="0.7"/>
<polyline points="155,379.9 157.6,379.8 160.2,379.8 162.7,380.1 165.3,380.4 167.9,380.3 170.5,379.8 173,379.4 175.6,379.5 178.2,379.8 180.8,380.1 183.4,380.5 185.9,381.3 188.5,381.9 191.1,382.3 193.7,382.6 196.2,382.6 198.8,382.5 201.4,382.5 204,382.4 206.6,382 209.1,381.7 211.7,381.3 214.3,381 216.9,380.8 219.4,380.6 222,380.4 224.6,380.2 227.2,380 229.8,379.8 232.3,379.6 234.9,379.6" fill="none" stroke="#fff" stroke-opacity="0.6" stroke-width="0.7"/>
<polyline points="155,382.9 157.6,382.5 160.2,382.1 162.7,382 165.3,382 167.9,381.8 170.5,381.2 173,381 175.6,381.2 178.2,381.5 180.8,381.8 183.4,382.2 185.9,382.7 188.5,383.1 191.1,383.2 193.7,383.3 196.2,383.1 198.8,382.9 201.4,382.8 204,382.6 206.6,382.3 209.1,382 211.7,381.8 214.3,381.6 216.9,381.5 219.4,381.4 222,381.3 224.6,381.2 227.2,381 229.8,380.9 232.3,380.7 234.9,380.5" fill="none" stroke="#fff" stroke-opacity="0.6" stroke-width="0.7"/>
<polyline points="155,384.6 157.6,384.8 160.2,385.1 162.7,385.4 165.3,385.6 167.9,385.4 170.5,385 173,384.6 175.6,384.4 178.2,384.2 180.8,383.9 183.4,383.8 185.9,383.8 188.5,383.9 191.1,383.9 193.7,383.9 196.2,383.7 198.8,383.5 201.4,383.4 204,383.2 206.6,382.9 209.1,382.6 211.7,382.4 214.3,382.2 216.9,382.1 219.4,381.9 222,381.8 224.6,381.6 227.2,381.5 229.8,381.3 232.3,381.1 234.9,381" fill="none" stroke="#fff" stroke-opacity="0.6" stroke-width="0.7"/>
<polyline points="155,386.9 157.6,386.8 160.2,386.7 162.7,386.5 165.3,386.3 167.9,386 170.5,385.4 173,384.9 175.6,384.7 178.2,384.7 180.8,384.6 183.4,384.6 185.9,384.8 188.5,385 191.1,385.1 193.7,385.1 196.2,384.9 198.8,384.8 201.4,384.6 204,384.4 206.6,384.2 209.1,383.9 211.7,383.6 214.3,383.3 216.9,383 219.4,382.7 222,382.4 224.6,382.1 227.2,381.8 229.8,381.5 232.3,381.3 234.9,381.1" fill="none" stroke="#fff" stroke-opacity="0.6" stroke-width="0.7"/>
<polyline points="155,390.7 157.6,390.6 160.2,390.4 162.7,389.8 165.3,389.1 167.9,388.4 170.5,387.6 173,387 175.6,386.6 178.2,386.5 180.8,386.3 183.4,386.3 185.9,386.3 188.5,386.4 191.1,386.3 193.7,386.1 196.2,385.8 198.8,385.5 201.4,385.2 204,384.8 206.6,384.4 209.1,384.1 211.7,383.7 214.3,383.4 216.9,383.1 219.4,382.9 222,382.7 224.6,382.6 227.2,382.4 229.8,382.3 232.3,382.1 234.9,382" fill="none" stroke="#fff" stroke-opacity="0.6" stroke-width="0.7"/>
<line x1="107.6" y1="365.4" x2="107.6" y2="400.9" stroke="#ff3030" stroke-opacity="0.7" stroke-width="1.2" stroke-dasharray="2.6,1.2"/>
<line x1="146" y1="365.4" x2="146" y2="400.9" stroke="#ff3030" stroke-opacity="0.7" stroke-width="1.2" stroke-dasharray="2.6,1.2"/>
<line x1="93.7" y1="365.4" x2="93.7" y2="400.9" stroke="#8a8a8a" stroke-width="1.2"/>
<polyline points="40,379.3 43.9,378.4 47.7,377.4 50.6,377 53.5,377.8 56.4,379 59.3,379.7 62.2,380.3 65,379.3 67.9,379.7 70.8,380.3 72.8,380.9 74.7,379 76.6,378.4 78.5,376.5 81.4,375.9 85.3,376.5 89.1,376.1 92,375.5 94,372.6 95.5,370.1 96.8,372.6 97.8,376.5 99.7,373.9 101.7,375.5 103.6,380.3 105.5,389 106.5,385.1 107.4,377.4 109,378.4 110.3,383.2 111.7,385.1 113.2,381.3 114.8,373.9 115.5,373.6 116.7,381.3 118,394.8 119.4,400.5 120.9,401.5 123.8,400.9 126.7,400.5 128.6,397.6 129.6,389 131,385.1 133.5,386.1 135.4,383.2 137.3,379 139.2,381.3 141.2,382.2 144.1,382.2 146.9,383.2 148.9,383.2 150.8,386.1 153.7,388 156,386.7 156,387 156.9,387.4 158.9,387 161.7,386.7 164.6,387 167.5,388 170.4,388.6 172.3,389 173.3,384.2 174.3,380.3 176.2,377.4 178.1,375.5 180,373.9 182,373.2 183.9,374.5 185.8,375.9 187.8,378.4 189.7,379.3 191.6,377.8 193.5,377.4 195.5,375.5 197.4,373.2 200.3,372.6 202.8,373.2 204.1,375.5 205.5,378.4 207,381.3 209,379.3 210.9,377.4 212.8,375.5 214.7,377 216.7,375.9 219.6,375.5 221.5,374.5 223.4,375.9 225.3,375.5 227.3,377.4 229.2,380.3 230.5,382.8 232.1,381.3 234,379 235.9,378.4 237.9,377.8 239.8,377 241.7,378.4 243.6,377.8 245.6,378.4 247.5,377.4 249.4,375.9 251.3,377.4 253.3,378.4 255.2,377.8 257.1,379 260,379.3 262.9,379.3 265.8,378.4 268.7,376.5 271,375.5" fill="none" stroke="#0a0aff" stroke-width="1.6" stroke-linejoin="round"/>
<polyline points="40,379.3 49.6,378.4 59.3,379.7 68.9,380.3 78.5,380.7 88.2,380.7 97.8,380.3 107.4,379.7 117.1,379.7 122.9,379 126.7,377 130.6,376.1 136.3,375.5 142.1,375.9 147.9,376.6 156,377.8 156,378.2 158.9,379.3 164.6,381.3 174.3,382.8 183.9,383.2 193.5,383.2 203.2,382.8 212.8,382.2 222.4,381.3 232.1,380.3 241.7,379.7 251.3,379.3 261,379.3 266.8,379 271,376.5" fill="none" stroke="#000" stroke-width="1.7" stroke-linejoin="round"/>
</g>
<rect x="40.5" y="365.4" width="230" height="35.5" fill="none" stroke="#c4c4c4" stroke-width="1"/>
<text x="37.9" y="369.1" text-anchor="end" font-size="8.5">10</text>
<text x="37.9" y="385.2" text-anchor="end" font-size="8.5">0</text>
<text x="37.9" y="401.8" text-anchor="end" font-size="8.5">-10</text>
<path d="M40.5 366.1h2.2M270.5 366.1h-2.2M40.5 382.2h2.2M270.5 382.2h-2.2M40.5 398.8h2.2M270.5 398.8h-2.2" stroke="#c4c4c4" stroke-width="0.8" fill="none"/>
<text transform="translate(21.7,383.1) rotate(-90)" text-anchor="middle" font-size="8.5">BT (nT)</text>
<g clip-path="url(#c2_2)">
<polygon points="119,436.1 122.9,430.3 126.7,426.5 130.6,421.6 134.4,418.7 138.3,417.8 142.1,418.2 146,419.3 149.8,417.8 153.7,418.7 156,419.7 156,445.7 151.8,447.6 147.9,445.7 144.1,449.6 140.2,448.6 136.3,445.7 132.5,439.9 128.6,438 124.8,437 120.9,437 119,436.7" fill="#00ff00" stroke="#00ff00" stroke-width="0.8" stroke-linejoin="round"/>
<polyline points="121.8,432.2 124.7,429.1 127.5,426.2 130.4,422.7 133.2,420.4 136.1,418.9 138.9,418.1 141.8,418.2 144.6,418.9 147.5,418.9 150.3,418.3 153.2,419.4 156,420.9" fill="none" stroke="#fff" stroke-opacity="0.6" stroke-width="0.7"/>
<polyline points="121.8,432.2 124.7,429.2 127.5,426.5 130.4,423.6 133.2,422 136.1,421.6 138.9,421.8 141.8,422.5 144.6,423.4 147.5,422.9 150.3,422.4 153.2,422.9 156,423.5" fill="none" stroke="#fff" stroke-opacity="0.6" stroke-width="0.7"/>
<polyline points="121.8,432.7 124.7,429.8 127.5,427.3 130.4,424.5 133.2,422.9 136.1,422.6 138.9,422.7 141.8,423.4 144.6,424.3 147.5,423.8 150.3,423.6 153.2,424.4 156,425.2" fill="none" stroke="#fff" stroke-opacity="0.6" stroke-width="0.7"/>
<polyline points="121.8,433.3 124.7,431 127.5,429.2 130.4,427.1 133.2,426.1 136.1,426.3 138.9,426.2 141.8,426.3 144.6,426.5 147.5,425.3 150.3,424.6 153.2,425.2 156,425.9" fill="none" stroke="#fff" stroke-opacity="0.6" stroke-width="0.7"/>
<polyline points="121.8,433.5 124.7,431.2 127.5,429.2 130.4,427.1 133.2,426.3 136.1,426.8 138.9,427.4 141.8,428.3 144.6,429.2 147.5,428.4 150.3,428.5 153.2,429.2 156,429.6" fill="none" stroke="#fff" stroke-opacity="0.6" stroke-width="0.7"/>
<polyline points="121.8,434.1 124.7,432.1 127.5,430.6 130.4,428.8 133.2,428.2 136.1,429 138.9,429.4 141.8,430 144.6,430.5 147.5,429.3 150.3,429.2 153.2,429.8 156,430.1" fill="none" stroke="#fff" stroke-opacity="0.6" stroke-width="0.7"/>
<polyline points="121.8,434.3 124.7,432.6 127.5,431.6 130.4,430.6 133.2,430.9 136.1,432.8 138.9,433.9 141.8,434.6 144.6,434.7 147.5,432.8 150.3,432.3 153.2,432.3 156,431.9" fill="none" stroke="#fff" stroke-opacity="0.6" stroke-width="0.7"/>
<polyline points="121.8,434.9 124.7,433.5 127.5,432.5 130.4,431.5 133.2,431.5 136.1,433.1 138.9,434 141.8,434.8 144.6,435.2 147.5,433.7 150.3,433.9 153.2,434.6 156,434.6" fill="none" stroke="#fff" stroke-opacity="0.6" stroke-width="0.7"/>
<polyline points="121.8,435.4 124.7,434.4 127.5,433.9 130.4,433.5 133.2,434.1 136.1,436.3 138.9,437.4 141.8,438.2 144.6,438.2 147.5,436.1 150.3,436 153.2,436.2 156,435.7" fill="none" stroke="#fff" stroke-opacity="0.6" stroke-width="0.7"/>
<polyline points="121.8,435.5 124.7,434.4 127.5,434 130.4,433.8 133.2,435 136.1,438.1 138.9,440.1 141.8,441.6 144.6,442 147.5,439.8 150.3,440.1 153.2,440 156,439" fill="none" stroke="#fff" stroke-opacity="0.6" stroke-width="0.7"/>
<polyline points="121.8,436.2 124.7,435.7 127.5,435.8 130.4,436.1 133.2,437.4 136.1,440.4 138.9,441.8 141.8,442.6 144.6,442.5 147.5,440 150.3,440.3 153.2,440.5 156,439.8" fill="none" stroke="#fff" stroke-opacity="0.6" stroke-width="0.7"/>
<polyline points="121.8,436.5 124.7,436.3 127.5,436.7 130.4,437.5 133.2,439.4 136.1,443.2 138.9,445.3 141.8,446.5 144.6,446.4 147.5,443.6 150.3,443.9 153.2,443.8 156,442.6" fill="none" stroke="#fff" stroke-opacity="0.6" stroke-width="0.7"/>
<polyline points="121.8,436.9 124.7,436.6 127.5,436.9 130.4,437.6 133.2,439.4 136.1,443.3 138.9,445.7 141.8,447.4 144.6,447.9 147.5,445.6 150.3,446.7 153.2,447 156,445.7" fill="none" stroke="#fff" stroke-opacity="0.6" stroke-width="0.7"/>
<polygon points="155,419.3 160.8,419.7 166.6,421.6 172.3,426.5 176.2,431.3 183.9,434.2 193.5,434.7 203.2,435.1 212.8,435.5 232.1,435.5 251.3,435.1 271,435.1 271,439 251.3,439.4 232.1,439.9 212.8,440.9 203.2,442.8 193.5,443.8 183.9,444.4 174.3,445.1 166.6,445.7 160.8,444.8 155,445.7" fill="#00ff00" stroke="#00ff00" stroke-width="0.8" stroke-linejoin="round"/>
<polyline points="155,420.5 157.6,421.1 160.2,421.6 162.7,422.5 165.3,423.4 167.9,424.8 170.5,426.6 173,428.6 175.6,431.3 178.2,432.5 180.8,433.2 183.4,434.1 185.9,434.3 188.5,434.4 191.1,434.6 193.7,434.9 196.2,435.1 198.8,435.3 201.4,435.5 204,435.7 206.6,435.8 209.1,435.9 211.7,436 214.3,435.9 216.9,435.9 219.4,435.8" fill="none" stroke="#fff" stroke-opacity="0.6" stroke-width="0.7"/>
<polyline points="155,423.9 157.6,423.8 160.2,423.6 162.7,423.9 165.3,424.4 167.9,425.5 170.5,427.1 173,429.1 175.6,431.9 178.2,433.2 180.8,434.1 183.4,435 185.9,435.3 188.5,435.5 191.1,435.7 193.7,436 196.2,436.1 198.8,436.3 201.4,436.4 204,436.5 206.6,436.5 209.1,436.5 211.7,436.5 214.3,436.4 216.9,436.4 219.4,436.3" fill="none" stroke="#fff" stroke-opacity="0.6" stroke-width="0.7"/>
<polyline points="155,425.9 157.6,426.1 160.2,426.3 162.7,427 165.3,427.8 167.9,429 170.5,430.5 173,432.1 175.6,434.4 178.2,435.3 180.8,435.9 183.4,436.5 185.9,436.6 188.5,436.6 191.1,436.6 193.7,436.6 196.2,436.5 198.8,436.5 201.4,436.5 204,436.5 206.6,436.5 209.1,436.5 211.7,436.5 214.3,436.5 216.9,436.5 219.4,436.6" fill="none" stroke="#fff" stroke-opacity="0.6" stroke-width="0.7"/>
<polyline points="155,426.6 157.6,426.9 160.2,427.2 162.7,428.1 165.3,429.3 167.9,430.7 170.5,432.2 173,433.8 175.6,435.8 178.2,436.6 180.8,437 183.4,437.4 185.9,437.4 188.5,437.3 191.1,437.2 193.7,437.2 196.2,437.2 198.8,437.2 201.4,437.3 204,437.4 206.6,437.4 209.1,437.4 211.7,437.4 214.3,437.4 216.9,437.4 219.4,437.3" fill="none" stroke="#fff" stroke-opacity="0.6" stroke-width="0.7"/>
<polyline points="155,431.1 157.6,431.2 160.2,431.1 162.7,431.6 165.3,432.1 167.9,432.8 170.5,433.8 173,434.9 175.6,436.5 178.2,437.1 180.8,437.5 183.4,437.9 185.9,438 188.5,438 191.1,438 193.7,438.1 196.2,438.1 198.8,438.1 201.4,438.2 204,438.2 206.6,438.1 209.1,438 211.7,437.9 214.3,437.9 216.9,437.9 219.4,437.8" fill="none" stroke="#fff" stroke-opacity="0.6" stroke-width="0.7"/>
<polyline points="155,431.7 157.6,431.8 160.2,431.9 162.7,432.6 165.3,433.5 167.9,434.5 170.5,435.7 173,436.9 175.6,438.3 178.2,439 180.8,439.3 183.4,439.7 185.9,439.7 188.5,439.6 191.1,439.6 193.7,439.5 196.2,439.3 198.8,439.2 201.4,439 204,438.8 206.6,438.6 209.1,438.3 211.7,438.1 214.3,438 216.9,437.9 219.4,437.8" fill="none" stroke="#fff" stroke-opacity="0.6" stroke-width="0.7"/>
<polyline points="155,434.1 157.6,433.7 160.2,433.4 162.7,433.9 165.3,434.7 167.9,435.7 170.5,436.9 173,438.1 175.6,439.5 178.2,440.1 180.8,440.4 183.4,440.6 185.9,440.6 188.5,440.4 191.1,440.3 193.7,440.1 196.2,439.8 198.8,439.6 201.4,439.4 204,439.3 206.6,439 209.1,438.8 211.7,438.7 214.3,438.6 216.9,438.6 219.4,438.6" fill="none" stroke="#fff" stroke-opacity="0.6" stroke-width="0.7"/>
<polyline points="155,437.1 157.6,437.2 160.2,437.2 162.7,437.9 165.3,438.6 167.9,439.3 170.5,439.8 173,440.3 175.6,441 178.2,441.2 180.8,441.2 183.4,441.3 185.9,441.1 188.5,440.9 191.1,440.8 193.7,440.6 196.2,440.4 198.8,440.3 201.4,440.1 204,439.9 206.6,439.7 209.1,439.4 211.7,439.2 214.3,439.1 216.9,439.1 219.4,439" fill="none" stroke="#fff" stroke-opacity="0.6" stroke-width="0.7"/>
<polyline points="155,438.6 157.6,438.3 160.2,438 162.7,438.4 165.3,439 167.9,439.7 170.5,440.2 173,440.9 175.6,441.6 178.2,441.9 180.8,442.1 183.4,442.3 185.9,442.3 188.5,442.2 191.1,442.2 193.7,442.1 196.2,441.9 198.8,441.7 201.4,441.5 204,441.2 206.6,440.8 209.1,440.4 211.7,439.9 214.3,439.6 216.9,439.5 219.4,439.3" fill="none" stroke="#fff" stroke-opacity="0.6" stroke-width="0.7"/>
<polyline points="155,442.6 157.6,441.8 160.2,441 162.7,441 165.3,441.2 167.9,441.5 170.5,441.7 173,442.1 175.6,442.7 178.2,443 180.8,443.1 183.4,443.2 185.9,443.2 188.5,443.2 191.1,443.1 193.7,442.9 196.2,442.6 198.8,442.3 201.4,441.9 204,441.5 206.6,441 209.1,440.5 211.7,440.1 214.3,439.9 216.9,439.8 219.4,439.7" fill="none" stroke="#fff" stroke-opacity="0.6" stroke-width="0.7"/>
<polyline points="155,443.3 157.6,443.1 160.2,442.9 162.7,443.4 165.3,444.1 167.9,444.6 170.5,444.7 173,444.8 175.6,444.8 178.2,444.8 180.8,444.6 183.4,444.4 185.9,444.2 188.5,444 191.1,443.8 193.7,443.6 196.2,443.2 198.8,442.9 201.4,442.5 204,442.1 206.6,441.6 209.1,441.1 211.7,440.6 214.3,440.3 216.9,440.2 219.4,440.2" fill="none" stroke="#fff" stroke-opacity="0.6" stroke-width="0.7"/>
<line x1="107.6" y1="415.4" x2="107.6" y2="450.9" stroke="#ff3030" stroke-opacity="0.7" stroke-width="1.2" stroke-dasharray="2.6,1.2"/>
<line x1="146" y1="415.4" x2="146" y2="450.9" stroke="#ff3030" stroke-opacity="0.7" stroke-width="1.2" stroke-dasharray="2.6,1.2"/>
<line x1="93.7" y1="415.4" x2="93.7" y2="450.9" stroke="#8a8a8a" stroke-width="1.2"/>
<polyline points="40,436.1 42.9,437 45.8,437.6 48.7,438 51.6,438.6 54.5,439 57.3,438 59.3,438.6 61.2,439.9 64.1,439.4 67,439.9 69.9,439 72.8,437 75.6,435.5 77.6,437 79.5,438.6 81.4,437.6 84.3,438.6 87.2,439 90.1,440.5 93,440.5 95.9,439 97.4,433.2 98.8,431.3 100.1,434.2 101.3,440.9 102.6,446.7 103.6,450.2 105.1,446.7 106.5,442.8 107.8,440.9 109.4,441.9 110.9,443.8 112.3,437 113.6,432.2 115.1,430.3 116.7,432.2 118,439 119,441.9 120,439 121.9,436.1 123.8,434.2 125.7,430.3 127.7,425.5 129.6,418.7 130.6,415.5 132.1,416.8 134.4,419.7 137.3,420.7 140.2,422.6 143.1,425.5 146,428.4 147.9,430.3 149.8,432.2 151.8,434.2 153.7,435.1 156,434.2 156,433.2 156.9,432.8 158.9,433.2 161.7,433.6 164.6,432.8 167.5,433.2 169.5,432.2 171.4,434.2 173.3,436.1 174.7,434.2 176.2,431.7 178.1,432.8 180,434.2 182.9,435.1 185.8,434.7 187.8,433.2 189.3,432.2 190.6,434.2 192.6,433.2 194.5,431.3 196.4,432.2 198.4,434.7 201.2,436.1 204.1,437 206.1,436.1 208,435.5 210.9,435.1 212.8,433.6 214.7,431.3 216.7,430.9 219.6,430.9 222.4,430.3 224.4,431.3 226.3,432.8 228.2,434.7 230.1,436.7 232.1,438 234,439 235.9,438.6 237.9,439.9 239.8,438 241.7,436.7 243.6,437 245.6,436.1 247.5,434.7 249.4,436.1 251.3,435.5 253.3,436.1 255.2,437 257.1,436.7 259.1,439 261,439.9 262.9,438 263.9,435.1 265.8,433.2 267.7,432.2 269.7,431.3 271,432.2" fill="none" stroke="#0a0aff" stroke-width="1.6" stroke-linejoin="round"/>
<polyline points="40,436.1 59.3,436.7 78.5,436.5 97.8,436.7 117.1,436.7 128.6,436.7 132.5,436.1 136.3,434.2 140.2,432.2 144.1,430.3 146.9,429 149.8,429.7 153.7,431.3 156,432.2 156,434.2 156.9,436.1 158.9,439 161.7,440.5 166.6,440.9 174.3,440.5 193.5,439.6 212.8,438.6 232.1,438 251.3,437.4 271,437" fill="none" stroke="#000" stroke-width="1.7" stroke-linejoin="round"/>
</g>
<rect x="40.5" y="415.4" width="230" height="35.5" fill="none" stroke="#c4c4c4" stroke-width="1"/>
<text x="37.9" y="423" text-anchor="end" font-size="8.5">10</text>
<text x="37.9" y="431.4" text-anchor="end" font-size="8.5">5</text>
<text x="37.9" y="439.4" text-anchor="end" font-size="8.5">0</text>
<text x="37.9" y="447.6" text-anchor="end" font-size="8.5">-5</text>
<path d="M40.5 420h2.2M270.5 420h-2.2M40.5 428.4h2.2M270.5 428.4h-2.2M40.5 436.4h2.2M270.5 436.4h-2.2M40.5 444.6h2.2M270.5 444.6h-2.2" stroke="#c4c4c4" stroke-width="0.8" fill="none"/>
<text transform="translate(21.7,433.1) rotate(-90)" text-anchor="middle" font-size="8.5">BN (nT)</text>
<g clip-path="url(#c2_3)">
<polygon points="108.4,495.7 111.3,490.9 115.1,488.6 120.9,487 126.7,486.1 132.5,485.1 140.2,484.7 147.9,484.7 156,484.7 156,498.6 147.9,499.6 140.2,499.6 132.5,499 126.7,498.6 120.9,497.6 115.1,496.7 109.4,496.3" fill="#00ff00" stroke="#00ff00" stroke-width="0.8" stroke-linejoin="round"/>
<polyline points="112.1,491.3 114.9,490 117.6,489.5 120.3,488.9 123.1,488.3 125.8,487.7 128.6,486.9 131.3,486 134.1,485.4 136.8,485 139.5,484.8 142.3,484.8 145,485.1 147.8,485.5 150.5,485.9 153.3,486.3 156,486.7" fill="none" stroke="#fff" stroke-opacity="0.6" stroke-width="0.7"/>
<polyline points="112.1,491.4 114.9,490.1 117.6,489.5 120.3,489.1 123.1,489 125.8,489 128.6,489 131.3,489 134.1,489.2 136.8,489.4 139.5,489.6 142.3,489.7 145,489.7 147.8,489.6 150.5,489.3 153.3,488.9 156,488.5" fill="none" stroke="#fff" stroke-opacity="0.6" stroke-width="0.7"/>
<polyline points="112.1,492.6 114.9,491.6 117.6,491.1 120.3,490.7 123.1,490.5 125.8,490.3 128.6,490.2 131.3,490.1 134.1,490.2 136.8,490.4 139.5,490.6 142.3,490.9 145,491.2 147.8,491.5 150.5,491.6 153.3,491.6 156,491.6" fill="none" stroke="#fff" stroke-opacity="0.6" stroke-width="0.7"/>
<polyline points="112.1,493.7 114.9,493.4 117.6,493.6 120.3,493.8 123.1,494.2 125.8,494.4 128.6,494.3 131.3,494.1 134.1,493.7 136.8,493.4 139.5,492.9 142.3,492.5 145,492.3 147.8,492.2 150.5,492.1 153.3,492.2 156,492.3" fill="none" stroke="#fff" stroke-opacity="0.6" stroke-width="0.7"/>
<polyline points="112.1,494.9 114.9,494.4 117.6,494.3 120.3,494.2 123.1,494.3 125.8,494.4 128.6,494.5 131.3,494.6 134.1,494.9 136.8,495.3 139.5,495.8 142.3,496.2 145,496.5 147.8,496.8 150.5,496.7 153.3,496.6 156,496.3" fill="none" stroke="#fff" stroke-opacity="0.6" stroke-width="0.7"/>
<polyline points="112.1,496.2 114.9,496.2 117.6,496.4 120.3,496.6 123.1,496.7 125.8,496.9 128.6,496.9 131.3,496.8 134.1,496.8 136.8,496.9 139.5,497.1 142.3,497.2 145,497.3 147.8,497.5 150.5,497.5 153.3,497.4 156,497.4" fill="none" stroke="#fff" stroke-opacity="0.6" stroke-width="0.7"/>
<polygon points="155,484.7 160.8,486.1 166.6,485.5 170.4,484.7 176.2,487 183.9,489 193.5,492.4 203.2,495.7 212.8,496.3 232.1,495.7 251.3,495.1 266.8,494.4 271,491.9 271,495.7 251.3,496.7 232.1,497.3 212.8,498.2 203.2,499.6 193.5,500.2 174.3,500.2 164.6,499.8 155,499.6" fill="#00ff00" stroke="#00ff00" stroke-width="0.8" stroke-linejoin="round"/>
<polyline points="155,486.7 157.6,487.5 160.2,488.2 162.7,488.2 165.3,487.8 167.9,487.2 170.5,486.4 173,486.9 175.6,487.5 178.2,487.9 180.8,488.3 183.4,488.8 185.9,489.8 188.5,490.8 191.1,491.9 193.7,493 196.2,494 198.8,495" fill="none" stroke="#fff" stroke-opacity="0.6" stroke-width="0.7"/>
<polyline points="155,488.9 157.6,489 160.2,489.2 162.7,488.9 165.3,488.4 167.9,487.9 170.5,487.4 173,488.2 175.6,489.1 178.2,489.8 180.8,490.5 183.4,491.2 185.9,492.1 188.5,493 191.1,493.9 193.7,494.7 196.2,495.4 198.8,496.1" fill="none" stroke="#fff" stroke-opacity="0.6" stroke-width="0.7"/>
<polyline points="155,492 157.6,492.4 160.2,492.8 162.7,492.8 165.3,492.6 167.9,492.4 170.5,492 173,492.4 175.6,492.8 178.2,492.9 180.8,493.1 183.4,493.3 185.9,493.6 188.5,494.1 191.1,494.6 193.7,495.1 196.2,495.6 198.8,496.1" fill="none" stroke="#fff" stroke-opacity="0.6" stroke-width="0.7"/>
<polyline points="155,492.7 157.6,493.4 160.2,494.1 162.7,494.5 165.3,494.8 167.9,495 170.5,494.9 173,495.2 175.6,495.4 178.2,495.3 180.8,495.2 183.4,495.1 185.9,495.2 188.5,495.5 191.1,495.9 193.7,496.3 196.2,496.8 198.8,497.2" fill="none" stroke="#fff" stroke-opacity="0.6" stroke-width="0.7"/>
<polyline points="155,497.1 157.6,497.2 160.2,497.2 162.7,497.1 165.3,496.8 167.9,496.5 170.5,496.1 173,496.1 175.6,496.2 178.2,496.2 180.8,496.3 183.4,496.4 185.9,496.7 188.5,497 191.1,497.4 193.7,497.9 196.2,498.1 198.8,498.4" fill="none" stroke="#fff" stroke-opacity="0.6" stroke-width="0.7"/>
<polyline points="155,498.2 157.6,498.6 160.2,498.9 162.7,499.2 165.3,499.4 167.9,499.7 170.5,499.9 173,500.1 175.6,500.2 178.2,500.1 180.8,500 183.4,499.9 185.9,499.8 188.5,499.7 191.1,499.6 193.7,499.5 196.2,499.3 198.8,499.2" fill="none" stroke="#fff" stroke-opacity="0.6" stroke-width="0.7"/>
<line x1="107.6" y1="465.8" x2="107.6" y2="501.3" stroke="#ff3030" stroke-opacity="0.7" stroke-width="1.2" stroke-dasharray="2.6,1.2"/>
<line x1="146" y1="465.8" x2="146" y2="501.3" stroke="#ff3030" stroke-opacity="0.7" stroke-width="1.2" stroke-dasharray="2.6,1.2"/>
<line x1="93.7" y1="465.8" x2="93.7" y2="501.3" stroke="#8a8a8a" stroke-width="1.2"/>
<polyline points="40,500.2 49.6,500 59.3,500 68.9,499.8 78.5,499.6 84.3,498.6 90.1,498.2 94,497.6 96.8,495.7 98.8,492.8 100.1,489 101.3,484.2 102,486.1 103.2,491.9 105.1,494.8 107.4,495.1 110.3,495.1 112.3,493.8 114.2,494.8 117.1,496.3 120,496.7 121.9,497.6 122.9,499.6 126.7,500.2 136.3,499.8 146,500.2 156,499.8 156,499.4 164.6,498.2 174.3,497.6 176.2,498.6 183.9,499.6 193.5,500 203.2,499.8 212.8,499.2 222.4,499 232.1,499.6 241.7,499.6 251.3,499.2 261,499.2 271,499" fill="none" stroke="#0a0aff" stroke-width="1.6" stroke-linejoin="round"/>
<polyline points="40,493.8 43.9,495.7 47.7,497.1 53.5,497.6 59.3,497.8 78.5,497.8 97.8,497.6 107.4,497.6 117.1,497.6 120.9,496.7 123.8,492.8 126.7,489 129.6,487 132.5,487.6 136.3,489 142.1,489.9 147.9,490.9 156,491.3 156,491.3 158.9,491.9 162.7,494.8 166.6,497.6 170.4,499 178.1,499.6 193.5,499.6 203.2,498.6 212.8,497.3 222.4,496.7 232.1,496.3 241.7,495.7 251.3,495.1 261,494.8 266.8,494.4 268.7,492.4 271,490.5" fill="none" stroke="#000" stroke-width="1.7" stroke-linejoin="round"/>
</g>
<rect x="40.5" y="465.8" width="230" height="35.5" fill="none" stroke="#c4c4c4" stroke-width="1"/>
<text x="37.9" y="474.7" text-anchor="end" font-size="8.5">50</text>
<text x="37.9" y="504.1" text-anchor="end" font-size="8.5">0</text>
<path d="M40.5 471.7h2.2M270.5 471.7h-2.2" stroke="#c4c4c4" stroke-width="0.8" fill="none"/>
<text transform="translate(21,483.6) rotate(-90)" text-anchor="middle" font-size="8.5">N<tspan font-size="7.7" dy="2.7">p</tspan><tspan dy="-2.7"> (cm</tspan><tspan font-size="7.7" dy="-4.2">-3</tspan><tspan dy="4.2">)</tspan></text>
<g clip-path="url(#c2_4)">
<polygon points="108.4,540.5 113.2,539 120.9,539 126.7,539 136.3,538.6 146,538 156,537.6 156,541.9 146,542.3 136.3,542.3 126.7,541.9 120.9,541.9 113.2,541.3 108.4,540.9" fill="#00ff00" stroke="#00ff00" stroke-width="0.8" stroke-linejoin="round"/>
<polygon points="155,538 164.6,538.4 174.3,539 183.9,539.9 193.5,540.5 203.2,540.9 212.8,540.9 212.8,542.8 203.2,542.8 193.5,542.4 183.9,542.4 174.3,541.9 164.6,541.9 155,541.9" fill="#00ff00" stroke="#00ff00" stroke-width="0.8" stroke-linejoin="round"/>
<line x1="107.6" y1="515.8" x2="107.6" y2="551.3" stroke="#ff3030" stroke-opacity="0.7" stroke-width="1.2" stroke-dasharray="2.6,1.2"/>
<line x1="146" y1="515.8" x2="146" y2="551.3" stroke="#ff3030" stroke-opacity="0.7" stroke-width="1.2" stroke-dasharray="2.6,1.2"/>
<line x1="93.7" y1="515.8" x2="93.7" y2="551.3" stroke="#8a8a8a" stroke-width="1.2"/>
<polyline points="40,536.1 45.8,536.5 51.6,537 57.3,537.6 61.2,539 65,538.6 68.9,538.4 72.8,538.6 76.6,538.4 80.5,539 86.2,539.9 92,540.5 94,539 95.9,537 99.7,535.5 103.6,534.7 106.5,533.6 109.4,533.2 111.3,534.7 113.2,536.1 117.1,536.7 120.9,537 124.8,538 128.6,537.4 132.5,537 136.3,537 140.2,536.7 144.1,537 147.9,536.7 151.8,537 154.7,536.1 156,535.1 156,535.1 158.9,536.1 164.6,537 170.4,538 176.2,538.6 182,538 187.8,539 193.5,538.6 199.3,538 205.1,538.6 210.9,539 212.8,539 266.8,539.9 271,539.9" fill="none" stroke="#0a0aff" stroke-width="1.6" stroke-linejoin="round"/>
<polyline points="40,540.3 49.6,539.4 59.3,539 68.9,539 78.5,539.4 88.2,539.9 97.8,540.5 107.4,541.3 117.1,541.9 122.9,541.5 128.6,540.5 136.3,540.1 146,540.1 156,539.9 156,539.9 164.6,539.9 174.3,540.3 183.9,540.9 193.5,541.5 203.2,541.9 212.8,542.3 266.8,541.9 271,540.9" fill="none" stroke="#000" stroke-width="1.7" stroke-linejoin="round"/>
</g>
<rect x="40.5" y="515.8" width="230" height="35.5" fill="none" stroke="#c4c4c4" stroke-width="1"/>
<text x="37.9" y="518.5" text-anchor="end" font-size="8.5">1000</text>
<text x="37.9" y="539.2" text-anchor="end" font-size="8.5">500</text>
<path d="M40.5 536.2h2.2M270.5 536.2h-2.2M86.5 515.8v2.2M86.5 551.3v-2.2M132.5 515.8v2.2M132.5 551.3v-2.2M178.5 515.8v2.2M178.5 551.3v-2.2M224.5 515.8v2.2M224.5 551.3v-2.2" stroke="#c4c4c4" stroke-width="0.8" fill="none"/>
<text transform="translate(12,533.5) rotate(-90)" text-anchor="middle" font-size="8.5">V<tspan font-size="7.7" dy="2.7">r</tspan><tspan dy="-2.7"> (Km/s)</tspan></text>
<text x="40.5" y="561.2" text-anchor="middle" font-size="8.5">Sep 16</text>
<text x="86.5" y="561.2" text-anchor="middle" font-size="8.5">Sep 17</text>
<text x="132.5" y="561.2" text-anchor="middle" font-size="8.5">Sep 18</text>
<text x="178.5" y="561.2" text-anchor="middle" font-size="8.5">Sep 19</text>
<text x="224.5" y="561.2" text-anchor="middle" font-size="8.5">Sep 20</text>
<text x="270.5" y="561.2" text-anchor="middle" font-size="8.5">Sep 21</text>
<text x="155.5" y="573" text-anchor="middle" font-size="9">Time (Year)</text>
<text x="253.4" y="572.8" text-anchor="middle" font-size="8.5">2011</text>
<rect x="212.4" y="517.5" width="54.8" height="28.7" fill="#fff" stroke="#c4c4c4" stroke-width="0.8"/>
<line x1="214" y1="523" x2="226.2" y2="523" stroke="#00ff00" stroke-width="1.2"/>
<text x="227.8" y="525.7" font-size="7.5">Ensemble</text>
<line x1="214" y1="531.9" x2="226.2" y2="531.9" stroke="#0a0aff" stroke-width="1.6"/>
<text x="227.8" y="534.6" font-size="7.5">OMNI data</text>
<line x1="214" y1="541.2" x2="226.2" y2="541.2" stroke="#000" stroke-width="1.6"/>
<text x="227.8" y="543.9" font-size="7.5">Simulation</text>
<text x="559.6" y="309.7" text-anchor="middle" style="font-family:'Liberation Serif',serif;fill:#000" font-size="18.2">4</text>
<g clip-path="url(#c3_0)">
<polygon points="398.1,328.4 405.8,327.4 415.4,327 425.1,326.5 430.9,324.5 436.6,323.6 444.3,323.6 452.1,323.9 457.8,324.5 464,324.5 464,331.3 457.8,332.2 452.1,332.8 444.3,332.2 436.6,332.8 430.9,332.2 425.1,331.3 415.4,330.3 405.8,329.7 398.1,329.3" fill="#00ff00" stroke="#00ff00" stroke-width="0.8" stroke-linejoin="round"/>
<polyline points="427.1,327.5 429.7,327.2 432.4,327 435,326.6 437.6,326.1 440.3,325.6 442.9,325 445.5,324.5 448.2,324.2 450.8,324 453.5,324.1 456.1,324.4 458.7,324.8 461.4,325.1 464,325.5" fill="none" stroke="#fff" stroke-opacity="0.6" stroke-width="0.7"/>
<polyline points="427.1,327.9 429.7,327.8 432.4,327.9 435,328.1 437.6,328.5 440.3,328.7 442.9,329 445.5,329.2 448.2,329.5 450.8,329.8 453.5,329.7 456.1,329.5 458.7,329.1 461.4,328.6 464,328.1" fill="none" stroke="#fff" stroke-opacity="0.6" stroke-width="0.7"/>
<polyline points="427.1,329.9 429.7,329.8 432.4,329.7 435,329.7 437.6,329.7 440.3,329.7 442.9,329.7 445.5,329.9 448.2,330.3 450.8,330.8 453.5,331.1 456.1,331.2 458.7,331.3 461.4,331.1 464,330.9" fill="none" stroke="#fff" stroke-opacity="0.6" stroke-width="0.7"/>
<polygon points="463,323.9 482.3,324.5 501.5,325.1 520.8,324.5 530.4,322.6 536.2,321.6 543.9,323.6 549.7,324.5 559.3,325.1 567.1,325.1 567.1,325.9 559.3,326.5 549.7,326.5 540.1,325.9 530.4,325.5 520.8,326.5 511.2,327.4 501.5,328.4 482.3,329 472.6,330.3 463,331.3" fill="#00ff00" stroke="#00ff00" stroke-width="0.8" stroke-linejoin="round"/>
<polyline points="463,324.8 465.6,325.3 468.2,325.7 470.8,326 473.4,326.2 476,326.2 478.6,326" fill="none" stroke="#fff" stroke-opacity="0.6" stroke-width="0.7"/>
<polyline points="463,327.9 465.6,327.5 468.2,327.1 470.8,326.8 473.4,326.5 476,326.3 478.6,326.1" fill="none" stroke="#fff" stroke-opacity="0.6" stroke-width="0.7"/>
<polyline points="463,330.8 465.6,330.8 468.2,330.6 470.8,330.5 473.4,330.2 476,329.8 478.6,329.4" fill="none" stroke="#fff" stroke-opacity="0.6" stroke-width="0.7"/>
<line x1="397.8" y1="315.6" x2="397.8" y2="351.2" stroke="#ff3030" stroke-opacity="0.7" stroke-width="1.2" stroke-dasharray="2.6,1.2"/>
<line x1="486.2" y1="315.6" x2="486.2" y2="351.2" stroke="#ff3030" stroke-opacity="0.7" stroke-width="1.2" stroke-dasharray="2.6,1.2"/>
<line x1="406.4" y1="315.6" x2="406.4" y2="351.2" stroke="#8a8a8a" stroke-width="1.2"/>
<polyline points="348,328.4 349.9,327.8 351.9,327 354.7,325.9 357.6,324.5 359.6,325.5 362.5,325.9 364.4,325.5 367.3,326.5 369.2,327.4 371.1,329.3 374,329.7 376.9,328.4 379.8,327.4 381.7,328.4 383.6,329.3 386.5,327.8 389.4,326.5 391.4,325.5 393.3,327.4 395.2,329 398.1,328.4 401,327.4 403.9,327 406.8,325.9 408.7,325.5 409.7,326.5 410.6,331.3 411.6,336.1 412.6,333.2 413.5,326.5 414.5,319.7 415.4,316.2 416.4,319.7 417.4,331.3 418.3,342.8 419.7,349.6 421.2,349 423.1,347.6 425.1,345.7 427,340.9 428.9,335.1 430.9,332.2 432.8,333.2 434.7,336.1 437.6,337 440.5,336.7 443.4,336.1 446.3,335.5 449.2,335.7 452.1,335.5 454,335.1 455.9,330.3 457.8,326.5 459.8,325.9 461.7,327 464,328.4 464.9,329.7 467.8,331.3 470.7,332.2 473.6,331.3 476.5,330.9 479.4,332.2 482.3,330.3 484.2,328.4 486.1,327.4 488,328.4 490.9,329 493.8,327.8 496.7,327.4 499.6,328.4 502.5,327.4 505.4,326.5 508.3,325.9 511.2,326.5 512.7,324.5 514.1,322.6 515.4,323.6 516.6,327.4 517.9,331.3 519.3,334.2 520.4,332.2 521.8,327.4 523.1,325.5 524.7,323.6 526.6,321.6 528.5,321.2 530.4,320.1 532.4,321.6 534.3,322.6 536.2,323.6 538.1,326.5 539.7,325.1 541,325.5 542.4,327.4 543.9,326.5 545.9,329.3 547.4,332.2 548.7,330.9 550.7,329.7 552.6,329 554.5,327.4 556.5,328.4 558.4,329.7 560.3,329 562.2,327.4 564.2,326.5 566.1,325.9 568,325.5 569.9,326.5 571.9,325.5 573.8,328.4 574.8,329.7 576.7,328.4 579,326.5" fill="none" stroke="#0a0aff" stroke-width="1.6" stroke-linejoin="round"/>
<polyline points="348,327.4 357.6,326.5 367.3,326.6 376.9,327.4 386.5,328.4 396.2,329 405.8,329.3 415.4,329.3 425.1,329 434.7,328.4 444.3,327.4 454,325.9 459.8,325.5 464,325.9 464,325.9 482.3,325.5 501.5,325.5 511.2,325.9 520.8,325.1 528.5,323.9 534.3,322.6 539.1,322 543.9,323.9 549.7,325.1 558.4,325.1" fill="none" stroke="#000" stroke-width="1.7" stroke-linejoin="round"/>
</g>
<rect x="348.9" y="315.6" width="229.7" height="35.6" fill="none" stroke="#c4c4c4" stroke-width="1"/>
<text x="346.3" y="320.4" text-anchor="end" font-size="8.5">10</text>
<text x="346.3" y="332.1" text-anchor="end" font-size="8.5">0</text>
<text x="346.3" y="343.2" text-anchor="end" font-size="8.5">-10</text>
<text x="346.3" y="354.8" text-anchor="end" font-size="8.5">-20</text>
<path d="M348.9 317.4h2.2M578.6 317.4h-2.2M348.9 329.1h2.2M578.6 329.1h-2.2M348.9 340.2h2.2M578.6 340.2h-2.2" stroke="#c4c4c4" stroke-width="0.8" fill="none"/>
<text transform="translate(329.7,333.4) rotate(-90)" text-anchor="middle" font-size="8.5">BR (nT)</text>
<g clip-path="url(#c3_1)">
<polygon points="399.1,378.4 402,376.5 405.8,377 411.6,378.4 417.4,378.4 425.1,379.3 432.8,381.3 440.5,383.2 448.2,384.7 455.9,385.5 464,385.5 464,389 455.9,389 448.2,389.6 440.5,389.9 432.8,389 425.1,388 417.4,386.7 411.6,384.7 405.8,382.2 402,381.3 399.1,381.3" fill="#00ff00" stroke="#00ff00" stroke-width="0.8" stroke-linejoin="round"/>
<polyline points="404.5,376.8 407.2,377.4 409.9,378.2 412.6,378.9 415.3,379.4 418,380.1 420.7,381 423.4,381.7 426.1,382.4 428.8,383 431.5,383.4 434.2,383.6 436.9,383.8 439.6,384 442.4,384.1 445.1,384.3" fill="none" stroke="#fff" stroke-opacity="0.6" stroke-width="0.7"/>
<polyline points="404.5,379 407.2,379.5 409.9,380.1 412.6,380.6 415.3,380.9 418,381.3 420.7,381.9 423.4,382.5 426.1,383.3 428.8,384.2 431.5,385.1 434.2,385.9 436.9,386.7 439.6,387.4 442.4,387.7 445.1,387.8" fill="none" stroke="#fff" stroke-opacity="0.6" stroke-width="0.7"/>
<polyline points="404.5,381.4 407.2,382.1 409.9,383 412.6,383.7 415.3,384.1 418,384.5 420.7,384.7 423.4,385 426.1,385.3 428.8,385.7 431.5,386.2 434.2,386.8 436.9,387.4 439.6,388 442.4,388.4 445.1,388.6" fill="none" stroke="#fff" stroke-opacity="0.6" stroke-width="0.7"/>
<polygon points="463,385.1 482.3,385.1 501.5,385.1 520.8,386.1 530.4,388 540.1,389.9 549.7,386.7 567.1,386.1 567.1,387 549.7,388 540.1,392.8 530.4,391.9 520.8,389.9 511.2,389 501.5,389 491.9,389 482.3,389.4 472.6,390.9 463,389.9" fill="#00ff00" stroke="#00ff00" stroke-width="0.8" stroke-linejoin="round"/>
<polyline points="465.6,386.5 468.2,386.8 470.8,387 473.4,387 476,386.7" fill="none" stroke="#fff" stroke-opacity="0.6" stroke-width="0.7"/>
<polyline points="465.6,387.2 468.2,387.1 470.8,387.1 473.4,387 476,386.9" fill="none" stroke="#fff" stroke-opacity="0.6" stroke-width="0.7"/>
<polyline points="465.6,390.2 468.2,390.4 470.8,390.7 473.4,390.6 476,390.1" fill="none" stroke="#fff" stroke-opacity="0.6" stroke-width="0.7"/>
<line x1="397.8" y1="365.4" x2="397.8" y2="401" stroke="#ff3030" stroke-opacity="0.7" stroke-width="1.2" stroke-dasharray="2.6,1.2"/>
<line x1="486.2" y1="365.4" x2="486.2" y2="401" stroke="#ff3030" stroke-opacity="0.7" stroke-width="1.2" stroke-dasharray="2.6,1.2"/>
<line x1="406.4" y1="365.4" x2="406.4" y2="401" stroke="#8a8a8a" stroke-width="1.2"/>
<polyline points="348,385.5 350.9,384.7 353.8,383.2 357.6,381.7 361.5,380.9 365.3,379.7 369.2,380.3 373,379.3 376.9,379.7 379.8,379 382.7,377.4 384.6,376.5 386.5,377.4 388.5,377 390.4,376.5 392.3,378.4 395.2,380.9 398.1,382.2 401,382.8 402.9,383.2 404.8,386.1 406.8,389.9 408.7,391.9 410,389 411.2,373.6 412,365.5 412.7,371.6 413.5,389 414.5,397.6 415.4,400.5 416.4,392.8 417.4,383.2 418.3,376.5 420.3,373.6 422.2,374.5 424.1,375.9 426,377.4 427.4,375.5 428.9,377.8 430.9,379 432.8,376.5 434.7,377.4 436.6,379.3 438.6,382.2 440.5,385.1 442.4,386.1 444.3,384.7 446.3,384.2 448.2,385.1 450.1,384.7 453,383.2 455.9,382.8 458.8,381.3 461.7,381.7 464,381.3 464,381.3 465.9,380.9 468.8,382.2 471.7,381.3 474.6,381.7 477.5,382.8 480.3,381.3 483.2,380.9 486.1,380.5 489,380.3 491.9,381.3 494.8,379.3 497.7,377.4 499.6,376.5 501.5,377.4 504.4,379 507.3,378.4 510.2,377.8 513.1,379 515,376.5 517,374.5 518.9,375.9 520.8,381.3 522.7,386.7 524.7,385.1 527.6,384.2 530.4,383.6 533.3,383.2 535.3,383.6 537.2,386.1 539.1,388 541,384.2 543.5,381.3 545.9,380.9 547.8,384.2 549.7,389 551.6,390.5 553.6,389 555.5,388 557.4,389 559.3,388.6 561.3,387 563.2,386.1 565.1,386.7 567.1,386.1 569.9,385.5 571.9,384.7 573.8,384.2 576.7,385.1 579,386.1" fill="none" stroke="#0a0aff" stroke-width="1.6" stroke-linejoin="round"/>
<polyline points="348,386.1 357.6,386.7 367.3,386.7 376.9,385.5 386.5,383.6 396.2,382.4 405.8,382.2 413.5,381.8 416.4,380.3 417.8,379.3 419.3,380.3 422.2,383.2 425.1,386.1 428.9,388 434.7,389 444.3,389 454,387 464,386.1 464,386.1 482.3,386.5 501.5,386.3 511.2,386.1 517,386.1 522.7,387 528.5,389 534.3,390.5 539.1,391.9 542,390.9 545.9,388 549.7,386.7 558.4,386.5" fill="none" stroke="#000" stroke-width="1.7" stroke-linejoin="round"/>
</g>
<rect x="348.9" y="365.4" width="229.7" height="35.6" fill="none" stroke="#c4c4c4" stroke-width="1"/>
<text x="346.3" y="372.8" text-anchor="end" font-size="8.5">20</text>
<text x="346.3" y="388.5" text-anchor="end" font-size="8.5">0</text>
<text x="346.3" y="404.3" text-anchor="end" font-size="8.5">-20</text>
<path d="M348.9 369.8h2.2M578.6 369.8h-2.2M348.9 385.5h2.2M578.6 385.5h-2.2" stroke="#c4c4c4" stroke-width="0.8" fill="none"/>
<text transform="translate(330,383.2) rotate(-90)" text-anchor="middle" font-size="8.5">BT (nT)</text>
<g clip-path="url(#c3_2)">
<polygon points="399.1,438 405.8,437 415.4,436.7 425.1,436.1 430.9,431.3 434.7,429.3 438.6,429 444.3,430.3 448.2,429.7 454,429 459.8,429.3 464,430.3 464,440.9 459.8,442.8 455.9,443.2 452.1,441.9 448.2,440.9 444.3,439.9 438.6,439.9 434.7,440.9 430.9,440.9 425.1,440.5 415.4,439.9 405.8,439 399.1,438.6" fill="#00ff00" stroke="#00ff00" stroke-width="0.8" stroke-linejoin="round"/>
<polyline points="426.1,436.1 428.8,434.1 431.5,432.1 434.2,430.6 436.9,429.7 439.6,429.5 442.4,429.9 445.1,430.2 447.8,429.8 450.5,429.7 453.2,429.7 455.9,430.2 458.6,430.7 461.3,431.4 464,432" fill="none" stroke="#fff" stroke-opacity="0.6" stroke-width="0.7"/>
<polyline points="426.1,436.6 428.8,435.2 431.5,434 434.2,433.2 436.9,432.8 439.6,432.8 442.4,433.2 445.1,433.4 447.8,433.1 450.5,432.8 453.2,432.5 455.9,432.4 458.6,432.2 461.3,432.1 464,432.2" fill="none" stroke="#fff" stroke-opacity="0.6" stroke-width="0.7"/>
<polyline points="426.1,437 428.8,435.7 431.5,434.5 434.2,433.8 436.9,433.5 439.6,433.6 442.4,434.2 445.1,434.7 447.8,434.9 450.5,435.2 453.2,435.5 455.9,436.1 458.6,436.1 461.3,435.9 464,435.5" fill="none" stroke="#fff" stroke-opacity="0.6" stroke-width="0.7"/>
<polyline points="426.1,438.7 428.8,438.1 431.5,437.6 434.2,437.1 436.9,436.4 439.6,435.9 442.4,435.8 445.1,435.7 447.8,435.6 450.5,435.6 453.2,435.7 455.9,436.2 458.6,436.4 461.3,436.5 464,436.4" fill="none" stroke="#fff" stroke-opacity="0.6" stroke-width="0.7"/>
<polyline points="426.1,438.9 428.8,438.4 431.5,438.1 434.2,437.9 436.9,437.7 439.6,437.6 442.4,438 445.1,438.3 447.8,438.9 450.5,439.5 453.2,440 455.9,440.7 458.6,440.3 461.3,439.5 464,438.4" fill="none" stroke="#fff" stroke-opacity="0.6" stroke-width="0.7"/>
<polyline points="426.1,439.8 428.8,439.6 431.5,439.3 434.2,439 436.9,438.5 439.6,438.2 442.4,438.4 445.1,438.7 447.8,439.4 450.5,440.1 453.2,441.1 455.9,442.2 458.6,442.2 461.3,441.7 464,440.7" fill="none" stroke="#fff" stroke-opacity="0.6" stroke-width="0.7"/>
<polygon points="463,431.3 468.8,433.2 474.6,435.1 482.3,436.1 491.9,436.7 501.5,436.7 511.2,436.1 520.8,436.1 530.4,436.7 540.1,437 559.3,437.4 569,438 569,439 559.3,439.9 540.1,439.9 520.8,439.9 511.2,439.9 501.5,439.9 491.9,440.5 482.3,440.9 474.6,441.3 468.8,441.3 463,440.9" fill="#00ff00" stroke="#00ff00" stroke-width="0.8" stroke-linejoin="round"/>
<polyline points="463,433.4 465.6,434.3 468.2,435.1 470.8,435.6 473.3,436.1 475.9,436.3 478.5,436.3 481.1,436.3" fill="none" stroke="#fff" stroke-opacity="0.6" stroke-width="0.7"/>
<polyline points="463,433.9 465.6,434.4 468.2,435.1 470.8,435.7 473.3,436.4 475.9,437 478.5,437.3 481.1,437.6" fill="none" stroke="#fff" stroke-opacity="0.6" stroke-width="0.7"/>
<polyline points="463,438.4 465.6,438.7 468.2,438.9 470.8,439 473.3,439.1 475.9,439.1 478.5,439 481.1,438.9" fill="none" stroke="#fff" stroke-opacity="0.6" stroke-width="0.7"/>
<polyline points="463,439.4 465.6,440.1 468.2,440.7 470.8,441.1 473.3,441.2 475.9,441.2 478.5,441 481.1,440.8" fill="none" stroke="#fff" stroke-opacity="0.6" stroke-width="0.7"/>
<line x1="397.8" y1="415.4" x2="397.8" y2="451" stroke="#ff3030" stroke-opacity="0.7" stroke-width="1.2" stroke-dasharray="2.6,1.2"/>
<line x1="486.2" y1="415.4" x2="486.2" y2="451" stroke="#ff3030" stroke-opacity="0.7" stroke-width="1.2" stroke-dasharray="2.6,1.2"/>
<line x1="406.4" y1="415.4" x2="406.4" y2="451" stroke="#8a8a8a" stroke-width="1.2"/>
<polyline points="348,442.4 350.9,442.8 353.8,442.4 356.7,443.8 359.6,444.8 362.5,444.4 365.3,442.8 368.2,440.9 370.7,438.6 373,437 375,438 376.9,436.1 379.2,435.1 380.8,437 382.7,439.9 384.6,439 386.5,436.1 388.5,434.2 390.4,431.3 392.3,429.3 394.2,425.9 397.1,425.5 400,425.9 402.9,425.9 404.3,425.5 405.4,419.7 406.4,416.2 407.7,415.9 408.7,423.6 409.7,435.1 410.2,446.7 410.8,440.9 411.6,438 412.6,439.9 413.5,442.8 414.5,443.8 415.4,446.3 416.4,440.9 417.8,435.1 419.3,433.6 420.8,435.1 422.2,440.9 424.1,443.8 426,446.3 427.4,448.6 428.5,444.8 429.9,445.7 431.2,449.6 432.4,447.6 433.7,444.8 435.1,446.7 436.6,447.6 438.2,449.6 440.1,447.6 442.4,445.7 444.3,444.4 446.3,442.8 448.2,440.9 450.1,439 452.1,437 453.6,435.1 454.9,434.2 456.9,433.2 458.8,434.2 461.7,436.1 464,436.7 464,436.1 465.9,435.5 468.8,436.1 471.7,435.1 474.6,436.1 477.5,436.7 480.3,437 482.3,439 484.2,440.9 487.1,443.2 490,443.8 492.9,442.8 495.8,439.9 497.7,437 499.6,436.1 501.5,437.4 503.5,436.7 505.4,436.1 508.3,435.5 511.2,434.7 513.5,434.2 515,431.3 516.6,433.2 517.9,437 519.8,442.8 521.2,444.8 522.3,435.1 523.1,430.3 524.3,431.3 525.6,434.2 527.6,436.1 529.5,438 531.4,437 533.3,439 535.3,439.9 537.2,438 538.5,440.9 540.1,439.9 542,438 544.9,438.6 546.8,440.9 547.8,444.8 548.7,447.6 550.1,445.7 551.3,439 553.2,438 555.1,436.7 556.5,437 557.8,439.4 559.3,439 561.3,437.4 563.2,438 565.1,438.6 567.1,438 569,439 570.9,439.9 573.8,439.4 576.7,439 579,438" fill="none" stroke="#0a0aff" stroke-width="1.6" stroke-linejoin="round"/>
<polyline points="348,438.6 357.6,437.4 367.3,436.7 376.9,436.7 386.5,437 396.2,437 405.8,437.6 415.4,439 421.2,439.9 425.1,439.4 430.9,438.6 436.6,438 442.4,437.6 446.3,436.7 449.2,434.7 452.1,433.2 454.9,432.2 457.8,432.8 461.7,434.2 464,435.1 464,436.1 472.6,437.6 482.3,438 491.9,438.6 501.5,438.6 511.2,438 518.9,437 522.7,436.7 526.6,437 532.4,438 540.1,438.6 549.7,439 558.4,439" fill="none" stroke="#000" stroke-width="1.7" stroke-linejoin="round"/>
</g>
<rect x="348.9" y="415.4" width="229.7" height="35.6" fill="none" stroke="#c4c4c4" stroke-width="1"/>
<text x="346.3" y="420" text-anchor="end" font-size="8.5">20</text>
<text x="346.3" y="430.6" text-anchor="end" font-size="8.5">10</text>
<text x="346.3" y="442" text-anchor="end" font-size="8.5">0</text>
<text x="346.3" y="453" text-anchor="end" font-size="8.5">-10</text>
<path d="M348.9 417h2.2M578.6 417h-2.2M348.9 427.6h2.2M578.6 427.6h-2.2M348.9 439h2.2M578.6 439h-2.2M348.9 450h2.2M578.6 450h-2.2" stroke="#c4c4c4" stroke-width="0.8" fill="none"/>
<text transform="translate(330,433.2) rotate(-90)" text-anchor="middle" font-size="8.5">BN (nT)</text>
<g clip-path="url(#c3_3)">
<polygon points="397.1,491.9 399.1,481.3 401,474.5 402.9,473.2 405.8,473.9 409.7,474.5 413.5,475.5 417.4,476.5 421.2,475.9 425.1,476.5 428.9,475.1 432.8,473.9 436.6,473.2 440.5,475.1 444.3,476.5 448.2,477.4 452.1,478.4 455.9,479.3 459.8,480.3 464,480.3 464,495.7 459.8,496.7 455.9,495.7 452.1,495.1 448.2,494.8 444.3,494.8 440.5,495.7 436.6,496.3 432.8,495.7 428.9,495.1 425.1,494.8 421.2,494.4 417.4,492.8 413.5,493.2 409.7,492.8 405.8,492.8 402,492.4 399.1,492.4 397.1,492.4" fill="#00ff00" stroke="#00ff00" stroke-width="0.8" stroke-linejoin="round"/>
<polyline points="399.8,478.7 402.5,473.8 405.2,474.4 407.8,475.2 410.5,476.1 413.2,477 415.9,477.8 418.5,478.2 421.2,477.9 423.9,478.1 426.6,477.5 429.2,476.3 431.9,475.1 434.6,474.1 437.3,473.7 439.9,474.8 442.6,475.9 445.3,476.8 448,477.8 450.6,478.7 453.3,479.7 456,480.7 458.7,481.7 461.3,482.1 464,482" fill="none" stroke="#fff" stroke-opacity="0.6" stroke-width="0.7"/>
<polyline points="399.8,480.2 402.5,475.6 405.2,475.9 407.8,476.4 410.5,477 413.2,477.8 415.9,478.6 418.5,479.1 421.2,479.2 423.9,479.9 426.6,479.9 429.2,479.4 431.9,478.9 434.6,478.6 437.3,478.4 439.9,479.2 442.6,479.7 445.3,480 448,480.3 450.6,480.6 453.3,481 456,481.4 458.7,482 461.3,482.1 464,482" fill="none" stroke="#fff" stroke-opacity="0.6" stroke-width="0.7"/>
<polyline points="399.8,482.2 402.5,478.2 405.2,478.3 407.8,478.5 410.5,478.8 413.2,479.4 415.9,479.8 418.5,480.1 421.2,480.2 423.9,480.7 426.6,480.7 429.2,480.3 431.9,480 434.6,480 437.3,480.2 439.9,481.3 442.6,482 445.3,482.6 448,483.1 450.6,483.7 453.3,484.2 456,484.8 458.7,485.3 461.3,485.4 464,485" fill="none" stroke="#fff" stroke-opacity="0.6" stroke-width="0.7"/>
<polyline points="399.8,483.5 402.5,479.9 405.2,480.1 407.8,480.5 410.5,481 413.2,481.9 415.9,482.5 418.5,483.2 421.2,483.7 423.9,484.3 426.6,484.4 429.2,483.9 431.9,483.5 434.6,483 437.3,482.6 439.9,482.8 442.6,482.8 445.3,482.9 448,483.2 450.6,483.7 453.3,484.4 456,485.2 458.7,486.1 461.3,486.6 464,486.7" fill="none" stroke="#fff" stroke-opacity="0.6" stroke-width="0.7"/>
<polyline points="399.8,485.6 402.5,482.7 405.2,482.7 407.8,482.8 410.5,482.9 413.2,483.3 415.9,483.6 418.5,483.9 421.2,484.3 423.9,484.9 426.6,485.1 429.2,485 431.9,485.2 434.6,485.4 437.3,485.7 439.9,486.3 442.6,486.6 445.3,486.7 448,487 450.6,487.3 453.3,487.6 456,487.9 458.7,488.3 461.3,488.2 464,487.6" fill="none" stroke="#fff" stroke-opacity="0.6" stroke-width="0.7"/>
<polyline points="399.8,487.6 402.5,485.7 405.2,485.8 407.8,485.7 410.5,485.8 413.2,486 415.9,485.9 418.5,486 421.2,486.3 423.9,486.5 426.6,486.5 429.2,486.2 431.9,486.1 434.6,486.2 437.3,486.4 439.9,487 442.6,487.3 445.3,487.6 448,488.1 450.6,488.7 453.3,489.3 456,490 458.7,490.8 461.3,490.9 464,490.6" fill="none" stroke="#fff" stroke-opacity="0.6" stroke-width="0.7"/>
<polyline points="399.8,488.9 402.5,487.3 405.2,487.2 407.8,487 410.5,487 413.2,487.3 415.9,487.4 418.5,487.8 421.2,488.7 423.9,489.4 426.6,489.9 429.2,490.2 431.9,490.7 434.6,491 437.3,491.1 439.9,491 442.6,490.4 445.3,490 448,489.8 450.6,489.8 453.3,490 456,490.3 458.7,491 461.3,491.1 464,490.9" fill="none" stroke="#fff" stroke-opacity="0.6" stroke-width="0.7"/>
<polyline points="399.8,490.9 402.5,490.2 405.2,490.2 407.8,490.1 410.5,490 413.2,490 415.9,489.7 418.5,489.8 421.2,490.4 423.9,490.6 426.6,490.7 429.2,490.8 431.9,491 434.6,491.5 437.3,491.9 439.9,492.2 442.6,492.1 445.3,492.2 448,492.5 450.6,493 453.3,493.4 456,493.9 458.7,494.6 461.3,494.4 464,493.7" fill="none" stroke="#fff" stroke-opacity="0.6" stroke-width="0.7"/>
<polyline points="399.8,492.4 402.5,492.5 405.2,492.8 407.8,492.8 410.5,492.8 413.2,493 415.9,492.6 418.5,492.7 421.2,493.5 423.9,493.6 426.6,493.6 429.2,493.6 431.9,493.6 434.6,493.8 437.3,493.8 439.9,493.5 442.6,493 445.3,492.8 448,492.9 450.6,493.3 453.3,493.8 456,494.4 458.7,495.3 461.3,495.4 464,495" fill="none" stroke="#fff" stroke-opacity="0.6" stroke-width="0.7"/>
<polygon points="463,480.3 468.8,481.3 474.6,484.2 480.3,488 486.1,490.5 491.9,492.4 501.5,493.8 511.2,491.3 518.9,487 524.7,483.2 528.5,481.3 532.4,483.2 536.2,486.1 540.1,489 540.1,490.9 536.2,490.9 530.4,491.9 520.8,494.8 511.2,496.7 501.5,498.2 491.9,499 482.3,499 472.6,498.6 463,498.2" fill="#00ff00" stroke="#00ff00" stroke-width="0.8" stroke-linejoin="round"/>
<polyline points="463,482.9 465.7,483.2 468.3,483.4 471,484 473.6,484.9 476.3,486 478.9,487.4 481.6,488.7 484.3,489.7 486.9,490.8 489.6,491.8 492.2,492.7 494.9,493.2 497.6,493.7" fill="none" stroke="#fff" stroke-opacity="0.6" stroke-width="0.7"/>
<polyline points="508.2,492.8 510.8,492.1 513.5,490.7 516.2,489.2 518.8,487.6 521.5,485.7 524.1,483.7 526.8,482.2 529.4,481.7 532.1,483.1 534.8,485.1" fill="none" stroke="#fff" stroke-opacity="0.6" stroke-width="0.7"/>
<polyline points="463,482.9 465.7,483.3 468.3,483.8 471,485 473.6,486.4 476.3,488 478.9,489.7 481.6,491 484.3,492.1 486.9,493 489.6,493.7 492.2,494.3 494.9,494.5 497.6,494.7" fill="none" stroke="#fff" stroke-opacity="0.6" stroke-width="0.7"/>
<polyline points="508.2,493.2 510.8,492.4 513.5,491.1 516.2,489.7 518.8,488.3 521.5,486.7 524.1,485 526.8,483.7 529.4,483.4 532.1,484.5 534.8,486.2" fill="none" stroke="#fff" stroke-opacity="0.6" stroke-width="0.7"/>
<polyline points="463,487.5 465.7,487.5 468.3,487.6 471,488.1 473.6,488.8 476.3,489.7 478.9,490.8 481.6,491.7 484.3,492.4 486.9,493.1 489.6,493.8 492.2,494.4 494.9,494.6 497.6,494.8" fill="none" stroke="#fff" stroke-opacity="0.6" stroke-width="0.7"/>
<polyline points="508.2,493.9 510.8,493.4 513.5,492.4 516.2,491.4 518.8,490.4 521.5,489.2 524.1,487.9 526.8,486.8 529.4,486.2 532.1,486.7 534.8,487.5" fill="none" stroke="#fff" stroke-opacity="0.6" stroke-width="0.7"/>
<polyline points="463,489.7 465.7,490.4 468.3,490.9 471,491.6 473.6,492.2 476.3,492.8 478.9,493.4 481.6,493.9 484.3,494.2 486.9,494.5 489.6,494.9 492.2,495.3 494.9,495.4 497.6,495.6" fill="none" stroke="#fff" stroke-opacity="0.6" stroke-width="0.7"/>
<polyline points="508.2,494.8 510.8,494.4 513.5,493.5 516.2,492.6 518.8,491.6 521.5,490.4 524.1,488.9 526.8,487.5 529.4,486.7 532.1,486.9 534.8,487.7" fill="none" stroke="#fff" stroke-opacity="0.6" stroke-width="0.7"/>
<polyline points="463,491.4 465.7,491.3 468.3,491.3 471,491.7 473.6,492.2 476.3,493 478.9,493.9 481.6,494.7 484.3,495.3 486.9,495.9 489.6,496.4 492.2,496.8 494.9,496.9 497.6,496.9" fill="none" stroke="#fff" stroke-opacity="0.6" stroke-width="0.7"/>
<polyline points="508.2,495.7 510.8,495.1 513.5,494.3 516.2,493.3 518.8,492.3 521.5,491.1 524.1,489.8 526.8,488.6 529.4,487.8 532.1,488 534.8,488.5" fill="none" stroke="#fff" stroke-opacity="0.6" stroke-width="0.7"/>
<polyline points="463,495.6 465.7,495.8 468.3,496 471,496.1 473.6,496.3 476.3,496.5 478.9,496.7 481.6,496.9 484.3,497 486.9,497.1 489.6,497.2 492.2,497.3 494.9,497.2 497.6,497.1" fill="none" stroke="#fff" stroke-opacity="0.6" stroke-width="0.7"/>
<polyline points="508.2,495.7 510.8,495.3 513.5,494.6 516.2,493.9 518.8,493.2 521.5,492.5 524.1,491.7 526.8,490.9 529.4,490.3 532.1,490.2 534.8,490.2" fill="none" stroke="#fff" stroke-opacity="0.6" stroke-width="0.7"/>
<polyline points="463,496 465.7,496.5 468.3,497.1 471,497.7 473.6,498.3 476.3,498.6 478.9,498.9 481.6,498.9 484.3,498.9 486.9,498.7 489.6,498.6 492.2,498.4 494.9,498.1 497.6,497.9" fill="none" stroke="#fff" stroke-opacity="0.6" stroke-width="0.7"/>
<polyline points="508.2,496.6 510.8,496.2 513.5,495.8 516.2,495.4 518.8,495 521.5,494.5 524.1,493.8 526.8,492.9 529.4,491.9 532.1,491.2 534.8,490.7" fill="none" stroke="#fff" stroke-opacity="0.6" stroke-width="0.7"/>
<line x1="397.8" y1="465.8" x2="397.8" y2="501.4" stroke="#ff3030" stroke-opacity="0.7" stroke-width="1.2" stroke-dasharray="2.6,1.2"/>
<line x1="486.2" y1="465.8" x2="486.2" y2="501.4" stroke="#ff3030" stroke-opacity="0.7" stroke-width="1.2" stroke-dasharray="2.6,1.2"/>
<line x1="406.4" y1="465.8" x2="406.4" y2="501.4" stroke="#8a8a8a" stroke-width="1.2"/>
<polyline points="348,498.2 351.9,498.2 355.7,497.6 358.6,496.3 361.5,495.7 364.4,495.1 367.3,494.4 370.2,495.1 373,494.4 375.9,493.8 378.8,492.8 380.8,490.5 382.7,491.9 384.6,492.8 386.5,491.3 388.5,493.2 390.4,494.8 393.3,494.8 396.2,494.4 399.1,494.4 402,493.8 403.9,491.9 405.4,485.1 406.8,477.4 408.1,472.6 409.3,471.2 410.6,475.5 411.6,481.3 413.1,483.2 414.5,479.3 415.8,476.5 417,473.9 417.8,475.1 418.3,481.3 419.3,488 420.8,490.9 423.1,489 425.1,487 427,486.1 428.9,485.1 430.9,487 432.8,490.9 434.7,493.8 437,496.7 439.5,496.3 442.4,494.4 444.3,495.1 446.3,496.7 448.2,496.3 451.1,497.1 454,497.6 457.8,497.6 461.7,498.2 464,498.2 464,498.2 468.8,498.2 474.6,498.6 480.3,498.2 486.1,497.6 491.9,497.3 495.8,496.7 498.6,497.6 501.5,498.2 505.4,498.6 509.2,499 513.1,499.6 516,498.6 518.9,496.7 521.8,496.3 524.7,496.7 527.6,497.6 530.4,498.6 534.3,499 538.1,498.2 542,497.6 545.9,497.6 549.7,498.2 552.6,497.6 555.5,498.2 559.3,499 563.2,499.6 567.1,500.2 570.9,499.6 574.8,499.6 579,500" fill="none" stroke="#0a0aff" stroke-width="1.6" stroke-linejoin="round"/>
<polyline points="348,493.8 353.8,491.9 359.6,489.9 367.3,488.6 376.9,487.4 386.5,488 394.2,489.9 400,491.9 405.8,492.4 411.6,492.8 414.5,490.9 416.4,484.2 418.3,479 420.3,477.8 422.2,479 425.1,482.2 428.9,486.1 432.8,489 436.6,490.9 440.5,491.9 444.3,491.9 448.2,491.9 452.1,493.2 455.9,494.8 459.8,496.3 464,497.6 464,497.6 472.6,498.6 482.3,499 491.9,498.6 501.5,497.6 511.2,496.3 520.8,493.8 526.6,490.5 530.4,489.6 534.3,489 538.1,489.6 541,490.9 543,493.8 544.9,496.7 546.8,498.6 551.6,499 558.4,499" fill="none" stroke="#000" stroke-width="1.7" stroke-linejoin="round"/>
</g>
<rect x="348.9" y="465.8" width="229.7" height="35.6" fill="none" stroke="#c4c4c4" stroke-width="1"/>
<text x="346.3" y="474.7" text-anchor="end" font-size="8.5">50</text>
<text x="346.3" y="504.1" text-anchor="end" font-size="8.5">0</text>
<path d="M348.9 471.7h2.2M578.6 471.7h-2.2" stroke="#c4c4c4" stroke-width="0.8" fill="none"/>
<text transform="translate(330,483.6) rotate(-90)" text-anchor="middle" font-size="8.5">N<tspan font-size="7.7" dy="2.7">p</tspan><tspan dy="-2.7"> (cm</tspan><tspan font-size="7.7" dy="-4.2">-3</tspan><tspan dy="4.2">)</tspan></text>
<g clip-path="url(#c3_4)">
<polygon points="398.1,540.9 400,536.1 403.9,534.7 407.7,535.1 413.5,536.1 421.2,536.1 428.9,536.7 436.6,536.1 444.3,534.7 448.2,533.6 452.1,532.8 455.9,533.6 459.8,534.7 464,534.7 464,542.4 455.9,541.9 448.2,540.9 440.5,540.9 432.8,540.9 425.1,540.5 417.4,541.3 411.6,541.9 405.8,541.9 400,541.9 398.1,541.9" fill="#00ff00" stroke="#00ff00" stroke-width="0.8" stroke-linejoin="round"/>
<polyline points="400.7,536.4 403.4,536 406,536.4 408.6,537 411.3,537.6 413.9,537.9 416.6,537.8 419.2,537.6" fill="none" stroke="#fff" stroke-opacity="0.6" stroke-width="0.7"/>
<polyline points="440.3,535.5 442.9,535.3 445.5,535.1 448.2,534.8 450.8,534.9 453.5,535.5 456.1,536.3 458.7,537 461.4,537.2 464,537" fill="none" stroke="#fff" stroke-opacity="0.6" stroke-width="0.7"/>
<polyline points="400.7,537.9 403.4,537.4 406,537.6 408.6,538.1 411.3,538.6 413.9,539 416.6,539.1 419.2,539.1" fill="none" stroke="#fff" stroke-opacity="0.6" stroke-width="0.7"/>
<polyline points="440.3,538.4 442.9,537.9 445.5,537.3 448.2,536.6 450.8,536.1 453.5,536.1 456.1,536.4 458.7,537 461.4,537.3 464,537.6" fill="none" stroke="#fff" stroke-opacity="0.6" stroke-width="0.7"/>
<polyline points="400.7,540 403.4,539.6 406,539.6 408.6,539.7 411.3,539.9 413.9,539.9 416.6,539.9 419.2,539.8" fill="none" stroke="#fff" stroke-opacity="0.6" stroke-width="0.7"/>
<polyline points="440.3,540.8 442.9,540.9 445.5,540.9 448.2,540.9 450.8,541.1 453.5,541.2 456.1,541.3 458.7,541.3 461.4,541.2 464,541.1" fill="none" stroke="#fff" stroke-opacity="0.6" stroke-width="0.7"/>
<polygon points="463,536.1 472.6,537 482.3,538 491.9,538.6 501.5,538.6 520.8,538.6 520.8,540.5 501.5,540.9 491.9,541.3 482.3,541.9 472.6,541.9 463,541.9" fill="#00ff00" stroke="#00ff00" stroke-width="0.8" stroke-linejoin="round"/>
<polyline points="463,537.9 465.6,537.8 468.3,537.7" fill="none" stroke="#fff" stroke-opacity="0.6" stroke-width="0.7"/>
<polyline points="463,538.2 465.6,538.5 468.3,538.9" fill="none" stroke="#fff" stroke-opacity="0.6" stroke-width="0.7"/>
<polyline points="463,540.9 465.6,540.8 468.3,540.7" fill="none" stroke="#fff" stroke-opacity="0.6" stroke-width="0.7"/>
<line x1="397.8" y1="515.6" x2="397.8" y2="551.2" stroke="#ff3030" stroke-opacity="0.7" stroke-width="1.2" stroke-dasharray="2.6,1.2"/>
<line x1="486.2" y1="515.6" x2="486.2" y2="551.2" stroke="#ff3030" stroke-opacity="0.7" stroke-width="1.2" stroke-dasharray="2.6,1.2"/>
<line x1="406.4" y1="515.6" x2="406.4" y2="551.2" stroke="#8a8a8a" stroke-width="1.2"/>
<polyline points="348,542.4 357.6,541.9 367.3,542.3 376.9,542.4 386.5,541.9 396.2,541.5 402,541.3 405.8,540.9 409.7,539.9 413.5,538 417.4,537 421.2,537 425.1,538 428.9,538.6 432.8,538 436.6,537.4 440.5,537 444.3,536.7 448.2,536.1 452.1,536.7 455.9,537 459.8,537 464,537.4 464,537 468.8,536.7 474.6,537.4 480.3,538 486.1,538.6 491.9,539 497.7,539.4 503.5,539.6 509.2,539.6 514.1,539 515.4,533.2 517,527.4 518.5,528.4 520.8,530.3 547.8,532.8 575.7,535.1 579,536.1" fill="none" stroke="#0a0aff" stroke-width="1.6" stroke-linejoin="round"/>
<polyline points="348,542.8 357.6,542.8 367.3,542.8 376.9,542.4 386.5,542.1 396.2,541.9 405.8,541.9 411.6,541.5 414.5,539.9 417.4,537.4 421.2,536.7 425.1,537.4 428.9,538.6 432.8,539.4 436.6,539.9 440.5,539.9 444.3,539.6 448.2,539 452.1,538 455.9,536.7 459.8,535.5 464,535.1 464,535.1 466.9,535.5 472.6,536.7 478.4,537.4 484.2,538 491.9,538.4 501.5,538.6 511.2,538.6 520.8,538.6" fill="none" stroke="#000" stroke-width="1.7" stroke-linejoin="round"/>
</g>
<rect x="348.9" y="515.6" width="229.7" height="35.6" fill="none" stroke="#c4c4c4" stroke-width="1"/>
<text x="346.3" y="518.7" text-anchor="end" font-size="8.5">1000</text>
<text x="346.3" y="539.2" text-anchor="end" font-size="8.5">500</text>
<path d="M348.9 536.2h2.2M578.6 536.2h-2.2M394.8 515.6v2.2M394.8 551.2v-2.2M440.8 515.6v2.2M440.8 551.2v-2.2M486.7 515.6v2.2M486.7 551.2v-2.2M532.7 515.6v2.2M532.7 551.2v-2.2" stroke="#c4c4c4" stroke-width="0.8" fill="none"/>
<text transform="translate(320,533.4) rotate(-90)" text-anchor="middle" font-size="8.5">V<tspan font-size="7.7" dy="2.7">r</tspan><tspan dy="-2.7"> (Km/s)</tspan></text>
<text x="348.9" y="561.2" text-anchor="middle" font-size="8.5">Jan 21</text>
<text x="394.8" y="561.2" text-anchor="middle" font-size="8.5">Jan 22</text>
<text x="440.8" y="561.2" text-anchor="middle" font-size="8.5">Jan 23</text>
<text x="486.7" y="561.2" text-anchor="middle" font-size="8.5">Jan 24</text>
<text x="532.7" y="561.2" text-anchor="middle" font-size="8.5">Jan 25</text>
<text x="578.6" y="561.2" text-anchor="middle" font-size="8.5">Jan 26</text>
<text x="463.8" y="573.2" text-anchor="middle" font-size="9">Time (Year)</text>
<text x="562" y="573" text-anchor="middle" font-size="8.5">2012</text>
<rect x="520.4" y="517.5" width="55.1" height="29" fill="#fff" stroke="#c4c4c4" stroke-width="0.8"/>
<line x1="522" y1="522.8" x2="534.5" y2="522.8" stroke="#00ff00" stroke-width="1.2"/>
<text x="536.5" y="525.5" font-size="7.5">Ensemble</text>
<line x1="522" y1="532.1" x2="534.5" y2="532.1" stroke="#0a0aff" stroke-width="1.6"/>
<text x="536.5" y="534.8" font-size="7.5">OMNI data</text>
<line x1="522" y1="541.2" x2="534.5" y2="541.2" stroke="#000" stroke-width="1.6"/>
<text x="536.5" y="543.9" font-size="7.5">Simulation</text>
<text x="242.2" y="608.7" text-anchor="middle" style="font-family:'Liberation Serif',serif;fill:#000" font-size="18.2">5</text>
<g clip-path="url(#c4_0)">
<polygon points="113.1,633.1 116,632.2 119.9,629.3 123.7,626.4 127.6,621.6 131.4,617.7 135.3,615.8 139.1,614.8 143,613.9 146.8,613.5 153,612.9 153,645.6 148.8,644.7 144.9,642.8 141.1,638.9 137.2,637.9 133.3,637 129.5,637.9 125.6,638.9 121.8,637.9 117.9,637 115,635 113.1,634.1" fill="#00ff00" stroke="#00ff00" stroke-width="0.8" stroke-linejoin="round"/>
<polyline points="118.8,630.6 121.7,628.6 124.5,626.1 127.4,622.5 130.2,619.5 133.1,617.2 135.9,615.7 138.8,614.9 141.6,614.2 144.5,613.9 147.3,614 150.2,614.2 153,614.4" fill="none" stroke="#fff" stroke-opacity="0.6" stroke-width="0.7"/>
<polyline points="118.8,630.6 121.7,628.7 124.5,626.6 127.4,623.5 130.2,621 133.1,619.4 135.9,618.5 138.8,618.1 141.6,617.8 144.5,617.8 147.3,617.7 150.2,617.4 153,617" fill="none" stroke="#fff" stroke-opacity="0.6" stroke-width="0.7"/>
<polyline points="118.8,631.1 121.7,629.3 124.5,627.3 127.4,624.2 130.2,621.7 133.1,620 135.9,619.2 138.8,618.9 141.6,618.7 144.5,619 147.3,619.3 150.2,619.5 153,619.7" fill="none" stroke="#fff" stroke-opacity="0.6" stroke-width="0.7"/>
<polyline points="118.8,632 121.7,630.7 124.5,629.2 127.4,626.6 130.2,624.2 133.1,622.3 135.9,621.2 138.8,620.6 141.6,620 144.5,620 147.3,620 150.2,620 153,620.2" fill="none" stroke="#fff" stroke-opacity="0.6" stroke-width="0.7"/>
<polyline points="118.8,632.1 121.7,630.8 124.5,629.2 127.4,626.6 130.2,624.4 133.1,622.9 135.9,622.4 138.8,622.3 141.6,622.5 144.5,623.4 147.3,624 150.2,624.4 153,624.6" fill="none" stroke="#fff" stroke-opacity="0.6" stroke-width="0.7"/>
<polyline points="118.8,632.9 121.7,631.8 124.5,630.4 127.4,628 130.2,625.8 133.1,624.1 135.9,623.5 138.8,623.3 141.6,623.3 144.5,624.1 147.3,624.7 150.2,625.1 153,625.4" fill="none" stroke="#fff" stroke-opacity="0.6" stroke-width="0.7"/>
<polyline points="118.8,633.2 121.7,632.5 124.5,631.6 127.4,629.9 130.2,628.2 133.1,627 135.9,626.6 138.8,626.5 141.6,626.4 144.5,627.1 147.3,627.3 150.2,627.2 153,627.1" fill="none" stroke="#fff" stroke-opacity="0.6" stroke-width="0.7"/>
<polyline points="118.8,633.9 121.7,633.3 124.5,632.3 127.4,630.4 130.2,628.5 133.1,627 135.9,626.6 138.8,626.6 141.6,627 144.5,628.4 147.3,629.3 150.2,630.1 153,630.7" fill="none" stroke="#fff" stroke-opacity="0.6" stroke-width="0.7"/>
<polyline points="118.8,634.6 121.7,634.3 124.5,633.7 127.4,632.2 130.2,630.5 133.1,629.1 135.9,628.8 138.8,628.7 141.6,628.9 144.5,630.2 147.3,630.9 150.2,631.4 153,631.6" fill="none" stroke="#fff" stroke-opacity="0.6" stroke-width="0.7"/>
<polyline points="118.8,634.7 121.7,634.3 124.5,634 127.4,632.8 130.2,631.6 133.1,630.7 135.9,631 138.8,631.5 141.6,632.2 144.5,634.1 147.3,635 150.2,635.3 153,635.2" fill="none" stroke="#fff" stroke-opacity="0.6" stroke-width="0.7"/>
<polyline points="118.8,635.7 121.7,635.7 124.5,635.7 127.4,634.6 130.2,633.2 133.1,632 135.9,631.9 138.8,632 141.6,632.4 144.5,634.2 147.3,635.2 150.2,635.9 153,636.5" fill="none" stroke="#fff" stroke-opacity="0.6" stroke-width="0.7"/>
<polyline points="118.8,636.1 121.7,636.4 124.5,636.7 127.4,636.1 130.2,635.1 133.1,634.1 135.9,634.3 138.8,634.7 141.6,635.3 144.5,637.4 147.3,638.5 150.2,639 153,639.2" fill="none" stroke="#fff" stroke-opacity="0.6" stroke-width="0.7"/>
<polyline points="118.8,636.4 121.7,636.7 124.5,636.8 127.4,636.1 130.2,635.1 133.1,634.3 135.9,634.8 138.8,635.7 141.6,637 144.5,639.9 147.3,641.6 150.2,642.7 153,643.3" fill="none" stroke="#fff" stroke-opacity="0.6" stroke-width="0.7"/>
<polyline points="118.8,637.1 121.7,637.8 124.5,638.6 127.4,638.5 130.2,637.8 133.1,637 135.9,637.4 138.8,637.9 141.6,638.8 144.5,641.2 147.3,642.5 150.2,643.2 153,643.5" fill="none" stroke="#fff" stroke-opacity="0.6" stroke-width="0.7"/>
<polygon points="152,612.9 161.6,613.5 171.3,614.8 180.9,617.7 190.5,620.6 200.2,622.5 209.8,625 215.6,625.4 221.4,628.3 229.1,630.8 238.7,632.2 248.3,632.7 258,633.1 268,632.7 268,635 258,634.7 248.3,634.7 238.7,634.7 229.1,634.7 219.4,634.7 209.8,635 200.2,636 190.5,637.9 180.9,639.9 171.3,641.8 161.6,643.7 152,645.6" fill="#00ff00" stroke="#00ff00" stroke-width="0.8" stroke-linejoin="round"/>
<polyline points="152,614.3 154.6,614.8 157.2,615.2 159.7,615.5 162.3,615.7 164.9,615.9 167.5,616 170,616 172.6,616.2 175.2,616.6 177.8,617.1 180.4,617.6 182.9,618.3 185.5,619.1 188.1,620 190.7,620.9 193.2,621.6 195.8,622.3 198.4,622.9 201,623.6 203.6,624.3 206.1,624.9 208.7,625.5 211.3,625.7 213.9,625.8 216.4,626.2 219,627.3 221.6,628.5 224.2,629.2" fill="none" stroke="#fff" stroke-opacity="0.6" stroke-width="0.7"/>
<polyline points="152,617.1 154.6,617 157.2,616.7 159.7,616.5 162.3,616.4 164.9,616.4 167.5,616.5 170,616.7 172.6,617.1 175.2,617.8 177.8,618.5 180.4,619.3 182.9,620.2 185.5,621 188.1,621.8 190.7,622.6 193.2,623.2 195.8,623.7 198.4,624.1 201,624.6 203.6,625.2 206.1,625.7 208.7,626.2 211.3,626.4 213.9,626.5 216.4,626.9 219,627.9 221.6,629 224.2,629.7" fill="none" stroke="#fff" stroke-opacity="0.6" stroke-width="0.7"/>
<polyline points="152,619.6 154.6,619.8 157.2,619.9 159.7,619.9 162.3,620 164.9,620.1 167.5,620.2 170,620.3 172.6,620.5 175.2,620.8 177.8,621.2 180.4,621.5 182.9,621.9 185.5,622.3 188.1,622.8 190.7,623.2 193.2,623.5 195.8,623.8 198.4,624.2 201,624.6 203.6,625.2 206.1,625.8 208.7,626.4 211.3,626.7 213.9,626.9 216.4,627.4 219,628.5 221.6,629.6 224.2,630.3" fill="none" stroke="#fff" stroke-opacity="0.6" stroke-width="0.7"/>
<polyline points="152,620.1 154.6,620.4 157.2,620.8 159.7,621.2 162.3,621.6 164.9,622 167.5,622.3 170,622.5 172.6,622.7 175.2,622.9 177.8,623.1 180.4,623.2 182.9,623.4 185.5,623.6 188.1,623.9 190.7,624.3 193.2,624.6 195.8,625 198.4,625.4 201,625.9 203.6,626.5 206.1,627.1 208.7,627.6 211.3,627.9 213.9,628 216.4,628.4 219,629.2 221.6,630.1 224.2,630.6" fill="none" stroke="#fff" stroke-opacity="0.6" stroke-width="0.7"/>
<polyline points="152,624.5 154.6,624.5 157.2,624.4 159.7,624.2 162.3,624 164.9,623.8 167.5,623.6 170,623.4 172.6,623.4 175.2,623.6 177.8,623.8 180.4,624 182.9,624.4 185.5,624.8 188.1,625.2 190.7,625.7 193.2,626 195.8,626.3 198.4,626.7 201,627 203.6,627.5 206.1,628 208.7,628.4 211.3,628.6 213.9,628.7 216.4,629 219,629.8 221.6,630.6 224.2,631.1" fill="none" stroke="#fff" stroke-opacity="0.6" stroke-width="0.7"/>
<polyline points="152,625.3 154.6,625.5 157.2,625.6 159.7,625.7 162.3,625.9 164.9,626.1 167.5,626.2 170,626.3 172.6,626.5 175.2,626.7 177.8,626.9 180.4,627.1 182.9,627.2 185.5,627.4 188.1,627.5 190.7,627.6 193.2,627.6 195.8,627.6 198.4,627.6 201,627.7 203.6,627.9 206.1,628.2 208.7,628.5 211.3,628.7 213.9,628.7 216.4,629.1 219,629.9 221.6,630.7 224.2,631.2" fill="none" stroke="#fff" stroke-opacity="0.6" stroke-width="0.7"/>
<polyline points="152,627.1 154.6,626.8 157.2,626.7 159.7,626.7 162.3,626.8 164.9,627.1 167.5,627.4 170,627.7 172.6,628.1 175.2,628.4 177.8,628.6 180.4,628.7 182.9,628.7 185.5,628.7 188.1,628.6 190.7,628.5 193.2,628.4 195.8,628.3 198.4,628.3 201,628.4 203.6,628.7 206.1,629.1 208.7,629.4 211.3,629.7 213.9,629.9 216.4,630.2 219,630.9 221.6,631.5 224.2,631.9" fill="none" stroke="#fff" stroke-opacity="0.6" stroke-width="0.7"/>
<polyline points="152,630.5 154.6,630.6 157.2,630.7 159.7,630.7 162.3,630.6 164.9,630.6 167.5,630.4 170,630.2 172.6,630 175.2,629.9 177.8,629.8 180.4,629.6 182.9,629.5 185.5,629.4 188.1,629.4 190.7,629.4 193.2,629.3 195.8,629.3 198.4,629.3 201,629.4 203.6,629.7 206.1,630 208.7,630.2 211.3,630.4 213.9,630.5 216.4,630.8 219,631.4 221.6,631.9 224.2,632.3" fill="none" stroke="#fff" stroke-opacity="0.6" stroke-width="0.7"/>
<polyline points="152,631.6 154.6,631.4 157.2,631.3 159.7,631.2 162.3,631.1 164.9,631.1 167.5,631.2 170,631.2 172.6,631.3 175.2,631.5 177.8,631.7 180.4,631.7 182.9,631.8 185.5,631.8 188.1,631.8 190.7,631.7 193.2,631.6 195.8,631.4 198.4,631.2 201,631 203.6,631 206.1,631 208.7,631.1 211.3,631 213.9,631 216.4,631.1 219,631.5 221.6,632 224.2,632.3" fill="none" stroke="#fff" stroke-opacity="0.6" stroke-width="0.7"/>
<polyline points="152,635.4 154.6,634.7 157.2,634 159.7,633.4 162.3,632.9 164.9,632.7 167.5,632.5 170,632.5 172.6,632.7 175.2,632.9 177.8,633.1 180.4,633.3 182.9,633.3 185.5,633.3 188.1,633.1 190.7,632.9 193.2,632.5 195.8,632.1 198.4,631.7 201,631.5 203.6,631.4 206.1,631.4 208.7,631.4 211.3,631.5 213.9,631.6 216.4,631.8 219,632.2 221.6,632.7 224.2,633" fill="none" stroke="#fff" stroke-opacity="0.6" stroke-width="0.7"/>
<polyline points="152,636.4 154.6,636.3 157.2,636.2 159.7,636.1 162.3,636.1 164.9,636 167.5,636 170,635.9 172.6,635.8 175.2,635.6 177.8,635.4 180.4,635.1 182.9,634.8 185.5,634.4 188.1,634.1 190.7,633.7 193.2,633.3 195.8,632.9 198.4,632.5 201,632.3 203.6,632.2 206.1,632.2 208.7,632.2 211.3,632.2 213.9,632.2 216.4,632.4 219,632.7 221.6,633.1 224.2,633.3" fill="none" stroke="#fff" stroke-opacity="0.6" stroke-width="0.7"/>
<polyline points="152,639.3 154.6,638.7 157.2,638.2 159.7,637.7 162.3,637.2 164.9,636.8 167.5,636.5 170,636.2 172.6,636 175.2,635.9 177.8,635.8 180.4,635.7 182.9,635.6 185.5,635.4 188.1,635.3 190.7,635.1 193.2,634.9 195.8,634.6 198.4,634.3 201,634 203.6,633.9 206.1,633.8 208.7,633.6 211.3,633.5 213.9,633.4 216.4,633.3 219,633.4 221.6,633.6 224.2,633.7" fill="none" stroke="#fff" stroke-opacity="0.6" stroke-width="0.7"/>
<polyline points="152,643.3 154.6,642.7 157.2,642 159.7,641.1 162.3,640.3 164.9,639.5 167.5,638.8 170,638.2 172.6,637.8 175.2,637.5 177.8,637.3 180.4,637.2 182.9,637.1 185.5,637 188.1,636.8 190.7,636.6 193.2,636.2 195.8,635.8 198.4,635.3 201,634.8 203.6,634.5 206.1,634.2 208.7,633.9 211.3,633.7 213.9,633.5 216.4,633.5 219,633.6 221.6,633.8 224.2,634" fill="none" stroke="#fff" stroke-opacity="0.6" stroke-width="0.7"/>
<polyline points="152,643.6 154.6,642.9 157.2,642.4 159.7,641.9 162.3,641.5 164.9,641.2 167.5,640.9 170,640.7 172.6,640.5 175.2,640.3 177.8,640 180.4,639.7 182.9,639.3 185.5,638.9 188.1,638.4 190.7,637.9 193.2,637.3 195.8,636.7 198.4,636.1 201,635.6 203.6,635.2 206.1,634.9 208.7,634.6 211.3,634.4 213.9,634.2 216.4,634.2 219,634.1 221.6,634.2 224.2,634.3" fill="none" stroke="#fff" stroke-opacity="0.6" stroke-width="0.7"/>
<line x1="111.6" y1="613.6" x2="111.6" y2="649.1" stroke="#ff3030" stroke-opacity="0.7" stroke-width="1.2" stroke-dasharray="2.6,1.2"/>
<line x1="135" y1="613.6" x2="135" y2="649.1" stroke="#ff3030" stroke-opacity="0.7" stroke-width="1.2" stroke-dasharray="2.6,1.2"/>
<line x1="118.1" y1="613.6" x2="118.1" y2="649.1" stroke="#8a8a8a" stroke-width="1.2"/>
<polyline points="37,627 40.9,627.7 44.7,626.4 48.6,626.4 52.4,627 56.3,626.6 62,627 67.8,627 73.6,626.6 79.4,626.4 85.2,626.4 91,625.8 94.8,625 97.7,624.5 100.6,625 103.5,625.8 106.4,626.4 109.3,627.3 112.1,628.9 114.1,627.7 116,628.3 117.9,627.7 119.9,627.3 121.8,624.5 123.3,622.5 124.7,625.4 125.6,629.3 126.6,631.2 127.6,628.3 129.1,627.3 130.5,629.3 131.8,634.1 133.3,641.8 134.3,637 135.3,631.2 136.2,627.7 137.6,627.3 139.1,631.2 140.7,637 142,642.8 143.4,645.6 144.9,647.6 147.8,648.5 150.7,648.2 153,647.6 153,647.2 154.9,645.6 157.8,643.7 160.7,641.8 163.6,640.4 166.5,639.9 169.3,640.4 171.3,638.9 174.2,637.9 177,637 180.9,636 184.8,635 188.6,634.1 192.5,633.1 195.4,631.6 198.2,630.2 201.1,629.3 204,627.7 206.9,627 209.8,627 212.7,626.4 215.6,625.4 217.5,627 219.4,629.3 221.4,630.2 224.3,631.2 227.1,631.6 230,630.8 232.9,630.2 235.8,631.2 238.7,632.7 241.6,632.2 244.5,632.7 247.4,631.6 249.3,630.8 251.2,629.3 252.6,630.2 254.1,632.2 256.1,633.1 258,631.6 259.9,632.7 261.8,631.6 263.8,632.7 265.7,633.1 268,632.7" fill="none" stroke="#0a0aff" stroke-width="1.6" stroke-linejoin="round"/>
<polyline points="37,628.9 42.8,628.9 48.6,629.3 54.3,630.2 60.1,631.2 65.9,632.2 71.7,633.1 77.5,633.5 85.2,633.7 94.8,633.7 104.4,633.7 114.1,633.7 123.7,633.5 129.5,633.1 135.3,632.7 139.1,632.2 142,632.7 144.9,635 147.8,637 150.7,638.5 153,639.3 153,639.5 157.8,639.9 163.6,639.3 169.3,638.5 175.1,637 180.9,636 190.5,634.1 200.2,632.7 209.8,632.2 219.4,631.6 229.1,632.2 238.7,633.1 248.3,633.7 258,634.1 268,634.1" fill="none" stroke="#000" stroke-width="1.7" stroke-linejoin="round"/>
</g>
<rect x="37.5" y="613.6" width="230.1" height="35.5" fill="none" stroke="#c4c4c4" stroke-width="1"/>
<text x="34.9" y="623.7" text-anchor="end" font-size="8.5">10</text>
<text x="34.9" y="632.9" text-anchor="end" font-size="8.5">0</text>
<text x="34.9" y="642.5" text-anchor="end" font-size="8.5">-10</text>
<text x="34.9" y="652" text-anchor="end" font-size="8.5">-20</text>
<path d="M37.5 620.7h2.2M267.6 620.7h-2.2M37.5 629.9h2.2M267.6 629.9h-2.2M37.5 639.5h2.2M267.6 639.5h-2.2" stroke="#c4c4c4" stroke-width="0.8" fill="none"/>
<text transform="translate(18.6,631.4) rotate(-90)" text-anchor="middle" font-size="8.6">BR (nT)</text>
<g clip-path="url(#c4_1)">
<polygon points="112.1,675.4 114.1,668.7 117,664.8 119.9,663.5 123.7,664.2 127.6,665.8 131.4,664.8 135.3,666.7 139.1,667.3 144.9,671.6 150.7,675.4 153,677.3 153,697.6 148.8,698.5 144.9,697.6 141.1,696.6 137.2,695.6 133.3,692.8 129.5,689.9 125.6,687 121.8,687 117.9,685 114.1,681.2 112.1,677.3" fill="#00ff00" stroke="#00ff00" stroke-width="0.8" stroke-linejoin="round"/>
<polyline points="114.9,668.8 117.6,666.1 120.3,665 123,665.3 125.8,665.8 128.5,666 131.2,665.1 133.9,666.1 136.7,667 139.4,667.7 142.1,670 144.8,672.3 147.6,674.5 150.3,676.6 153,678.9" fill="none" stroke="#fff" stroke-opacity="0.6" stroke-width="0.7"/>
<polyline points="114.9,669 117.6,666.6 120.3,666.1 123,667 125.8,668.1 128.5,669 131.2,669 133.9,670.5 136.7,671.7 139.4,672.3 142.1,674 144.8,675.6 147.6,677 150.3,678.3 153,679.9" fill="none" stroke="#fff" stroke-opacity="0.6" stroke-width="0.7"/>
<polyline points="114.9,670 117.6,667.9 120.3,667.4 123,668.1 125.8,669 128.5,670 131.2,670 133.9,671.6 136.7,673 139.4,673.9 142.1,675.8 144.8,677.7 147.6,679.4 150.3,680.9 153,682.4" fill="none" stroke="#fff" stroke-opacity="0.6" stroke-width="0.7"/>
<polyline points="114.9,672.1 117.6,671.1 120.3,671.1 123,671.7 125.8,672.3 128.5,673 131.2,672.8 133.9,673.8 136.7,674.6 139.4,674.9 142.1,676.4 144.8,678 147.6,679.7 150.3,681.3 153,683" fill="none" stroke="#fff" stroke-opacity="0.6" stroke-width="0.7"/>
<polyline points="114.9,672.5 117.6,671.3 120.3,671.1 123,671.8 125.8,672.6 128.5,673.8 131.2,674.4 133.9,676.2 136.7,677.9 139.4,678.9 142.1,680.6 144.8,682.2 147.6,683.7 150.3,684.7 153,685.7" fill="none" stroke="#fff" stroke-opacity="0.6" stroke-width="0.7"/>
<polyline points="114.9,674 117.6,673.4 120.3,673.3 123,673.8 125.8,674.3 128.5,675.4 131.2,675.8 133.9,677.4 136.7,678.9 139.4,679.8 142.1,681.4 144.8,683.1 147.6,684.6 150.3,685.8 153,686.9" fill="none" stroke="#fff" stroke-opacity="0.6" stroke-width="0.7"/>
<polyline points="114.9,675.1 117.6,675.3 120.3,676 123,677 125.8,677.7 128.5,679.3 131.2,680.2 133.9,681.7 136.7,683 139.4,683.3 142.1,684.2 144.8,685.1 147.6,686 150.3,686.7 153,687.5" fill="none" stroke="#fff" stroke-opacity="0.6" stroke-width="0.7"/>
<polyline points="114.9,676.6 117.6,677 120.3,677.3 123,677.7 125.8,678 128.5,679.3 131.2,680.2 133.9,682 136.7,683.7 139.4,684.7 142.1,686.2 144.8,687.7 147.6,689.1 150.3,690 153,690.6" fill="none" stroke="#fff" stroke-opacity="0.6" stroke-width="0.7"/>
<polyline points="114.9,678.3 117.6,679.4 120.3,680 123,680.5 125.8,680.6 128.5,682 131.2,683 133.9,684.6 136.7,686.1 139.4,686.7 142.1,687.8 144.8,688.9 147.6,690 150.3,690.6 153,691" fill="none" stroke="#fff" stroke-opacity="0.6" stroke-width="0.7"/>
<polyline points="114.9,678.4 117.6,679.7 120.3,680.7 123,681.7 125.8,682.3 128.5,684.4 131.2,686.2 133.9,688.5 136.7,690.5 139.4,691.4 142.1,692.2 144.8,692.8 147.6,693.3 150.3,693.3 153,692.9" fill="none" stroke="#fff" stroke-opacity="0.6" stroke-width="0.7"/>
<polyline points="114.9,680.8 117.6,682.9 120.3,684 123,684.5 125.8,684.4 128.5,686 131.2,687.4 133.9,689 136.7,690.7 139.4,691.5 142.1,692.3 144.8,693.3 147.6,694.3 150.3,694.7 153,694.7" fill="none" stroke="#fff" stroke-opacity="0.6" stroke-width="0.7"/>
<polyline points="114.9,681.9 117.6,684.7 120.3,686.2 123,687 125.8,687 128.5,688.9 131.2,690.8 133.9,692.6 136.7,694.4 139.4,695 142.1,695.5 144.8,696 147.6,696.6 150.3,696.5 153,696" fill="none" stroke="#fff" stroke-opacity="0.6" stroke-width="0.7"/>
<polygon points="152,677.3 161.6,678.3 171.3,675.4 180.9,672.5 190.5,670.6 200.2,668.7 209.8,669.2 219.4,670.6 229.1,670.6 238.7,671.2 248.3,671.9 258,671.6 268,671.6 268,677.3 258,677.7 248.3,679.3 238.7,680.2 229.1,680.2 219.4,678.3 209.8,677 200.2,680.2 190.5,684.1 180.9,688.9 171.3,692.8 161.6,696.6 152,697.6" fill="#00ff00" stroke="#00ff00" stroke-width="0.8" stroke-linejoin="round"/>
<polyline points="152,679.5 154.6,680 157.2,680.3 159.7,680.4 162.3,680.1 164.9,679 167.5,677.8 170,676.6 172.6,675.5 175.2,674.4 177.8,673.5 180.4,672.7 182.9,672.2 185.5,671.9 188.1,671.7 190.7,671.4 193.2,671.2 195.8,670.9 198.4,670.4 201,670.1 203.6,670.1 206.1,670.1 208.7,670 211.3,670 213.9,670.2 216.4,670.4 219,670.6 221.6,670.6 224.2,670.6 226.8,670.7 229.3,670.8 231.9,671.1 234.5,671.5 237.1,671.9 239.6,672.2 242.2,672.5 244.8,672.7 247.4,672.8 250,672.7 252.5,672.4 255.1,672.2 257.7,671.9 260.3,671.7 262.8,671.6 265.4,671.6 268,671.6" fill="none" stroke="#fff" stroke-opacity="0.6" stroke-width="0.7"/>
<polyline points="152,681.3 154.6,681.1 157.2,680.9 159.7,680.8 162.3,680.6 164.9,679.6 167.5,678.8 170,678 172.6,677.3 175.2,676.7 177.8,676.1 180.4,675.5 182.9,675.1 185.5,674.7 188.1,674.2 190.7,673.7 193.2,673.2 195.8,672.6 198.4,672 201,671.5 203.6,671.3 206.1,671.1 208.7,670.9 211.3,671 213.9,671.2 216.4,671.4 219,671.7 221.6,671.7 224.2,671.7 226.8,671.7 229.3,671.8 231.9,672 234.5,672.2 237.1,672.5 239.6,672.8 242.2,673 244.8,673.3 247.4,673.5 250,673.5 252.5,673.4 255.1,673.3 257.7,673.1 260.3,673.1 262.8,673 265.4,672.9 268,672.8" fill="none" stroke="#fff" stroke-opacity="0.6" stroke-width="0.7"/>
<polyline points="152,684.9 154.6,685 157.2,685 159.7,685 162.3,684.7 164.9,683.6 167.5,682.6 170,681.5 172.6,680.4 175.2,679.3 177.8,678.2 180.4,677.2 182.9,676.3 185.5,675.5 188.1,674.7 190.7,673.9 193.2,673.3 195.8,672.7 198.4,672.1 201,671.7 203.6,671.7 206.1,671.7 208.7,671.7 211.3,671.9 213.9,672.4 216.4,672.8 219,673.3 221.6,673.6 224.2,673.8 226.8,674 229.3,674.2 231.9,674.3 234.5,674.4 237.1,674.4 239.6,674.4 242.2,674.3 244.8,674.3 247.4,674.2 250,674 252.5,673.8 255.1,673.5 257.7,673.2 260.3,673.1 262.8,673.1 265.4,673 268,673" fill="none" stroke="#fff" stroke-opacity="0.6" stroke-width="0.7"/>
<polyline points="152,685.7 154.6,686.2 157.2,686.7 159.7,687 162.3,687.1 164.9,686.3 167.5,685.4 170,684.3 172.6,683.1 175.2,681.9 177.8,680.6 180.4,679.4 182.9,678.3 185.5,677.3 188.1,676.4 190.7,675.7 193.2,675.1 195.8,674.7 198.4,674.2 201,673.9 203.6,673.7 206.1,673.5 208.7,673.3 211.3,673.3 213.9,673.6 216.4,673.8 219,674 221.6,674.1 224.2,674.1 226.8,674.2 229.3,674.3 231.9,674.3 234.5,674.5 237.1,674.7 239.6,674.9 242.2,675.1 244.8,675.3 247.4,675.4 250,675.4 252.5,675.2 255.1,674.9 257.7,674.6 260.3,674.4 262.8,674.3 265.4,674.1 268,673.9" fill="none" stroke="#fff" stroke-opacity="0.6" stroke-width="0.7"/>
<polyline points="152,689.9 154.6,689.7 157.2,689.5 159.7,689.1 162.3,688.6 164.9,687.4 167.5,686.1 170,685 172.6,683.8 175.2,682.8 177.8,681.8 180.4,680.9 182.9,680.1 185.5,679.3 188.1,678.6 190.7,677.9 193.2,677.3 195.8,676.7 198.4,676.1 201,675.5 203.6,675.2 206.1,674.7 208.7,674.3 211.3,674.3 213.9,674.6 216.4,674.9 219,675.1 221.6,675.3 224.2,675.4 226.8,675.6 229.3,675.7 231.9,675.6 234.5,675.6 237.1,675.7 239.6,675.7 242.2,675.7 244.8,675.7 247.4,675.8 250,675.7 252.5,675.6 255.1,675.4 257.7,675.2 260.3,675.2 262.8,675.2 265.4,675.2 268,675.2" fill="none" stroke="#fff" stroke-opacity="0.6" stroke-width="0.7"/>
<polyline points="152,691.5 154.6,691.7 157.2,691.8 159.7,691.9 162.3,691.7 164.9,690.8 167.5,689.8 170,688.9 172.6,687.8 175.2,686.8 177.8,685.7 180.4,684.5 182.9,683.3 185.5,682 188.1,680.8 190.7,679.6 193.2,678.5 195.8,677.6 198.4,676.6 201,675.8 203.6,675.3 206.1,674.8 208.7,674.3 211.3,674.3 213.9,674.7 216.4,675.2 219,675.6 221.6,676.1 224.2,676.5 226.8,677 229.3,677.5 231.9,677.6 234.5,677.8 237.1,677.9 239.6,677.9 242.2,677.8 244.8,677.6 247.4,677.5 250,677.2 252.5,676.8 255.1,676.4 257.7,676 260.3,675.8 262.8,675.7 265.4,675.5 268,675.4" fill="none" stroke="#fff" stroke-opacity="0.6" stroke-width="0.7"/>
<polyline points="152,692.5 154.6,692.5 157.2,692.6 159.7,692.8 162.3,692.8 164.9,692.2 167.5,691.6 170,690.9 172.6,690 175.2,689.1 177.8,687.9 180.4,686.7 182.9,685.2 185.5,683.7 188.1,682.3 190.7,680.9 193.2,679.8 195.8,678.9 198.4,678 201,677.3 203.6,676.9 206.1,676.4 208.7,675.9 211.3,676 213.9,676.5 216.4,676.9 219,677.3 221.6,677.7 224.2,678 226.8,678.2 229.3,678.4 231.9,678.2 234.5,678.1 237.1,678 239.6,677.9 242.2,677.8 244.8,677.7 247.4,677.7 250,677.6 252.5,677.4 255.1,677.2 257.7,676.9 260.3,676.9 262.8,676.8 265.4,676.7 268,676.5" fill="none" stroke="#fff" stroke-opacity="0.6" stroke-width="0.7"/>
<polyline points="152,697.1 154.6,697.1 157.2,697 159.7,696.8 162.3,696.3 164.9,695.2 167.5,694 170,692.7 172.6,691.4 175.2,690.1 177.8,688.8 180.4,687.6 182.9,686.2 185.5,684.8 188.1,683.6 190.7,682.4 193.2,681.4 195.8,680.5 198.4,679.7 201,679 203.6,678.3 206.1,677.7 208.7,677 211.3,677 213.9,677.4 216.4,677.9 219,678.2 221.6,678.7 224.2,679.2 226.8,679.6 229.3,680 231.9,679.8 234.5,679.7 237.1,679.5 239.6,679.3 242.2,679 244.8,678.7 247.4,678.4 250,678.1 252.5,677.8 255.1,677.4 257.7,677.1 260.3,677.1 262.8,677.1 265.4,677.1 268,677.1" fill="none" stroke="#fff" stroke-opacity="0.6" stroke-width="0.7"/>
<line x1="111.6" y1="663.6" x2="111.6" y2="699.1" stroke="#ff3030" stroke-opacity="0.7" stroke-width="1.2" stroke-dasharray="2.6,1.2"/>
<line x1="135" y1="663.6" x2="135" y2="699.1" stroke="#ff3030" stroke-opacity="0.7" stroke-width="1.2" stroke-dasharray="2.6,1.2"/>
<line x1="118.1" y1="663.6" x2="118.1" y2="699.1" stroke="#8a8a8a" stroke-width="1.2"/>
<polyline points="37,677 39.9,676.4 42.8,676.4 45.7,677.3 48.6,677.7 52.4,678.3 56.3,678.9 60.1,679.3 64,679.7 67.8,679.7 71.7,679.3 75.5,678.9 79.4,679.3 83.2,678.9 86.1,679.7 89,677.7 91.9,677 94.8,677.7 97.7,678.3 100.6,679.3 102.5,680.2 104.4,678.3 107.3,677.3 110.2,676.4 113.1,675.8 116,676.4 117.9,682.7 119.5,687 120.8,686 122.2,684.1 123.7,685 125.3,678.3 126.6,676.4 128,679.3 129.1,684.1 130.5,681.2 131.8,674.5 133.3,671.6 134.3,675.4 135.3,681.2 136.8,683.1 138.2,679.3 140.1,680.2 142,685 143.9,686 145.9,684.1 148.8,682.7 151.7,683.1 153,683.1 153,683.5 154.9,684.7 157.8,685 160.7,686 163.6,686.6 166.5,685 169.3,684.1 172.2,682.7 175.1,681.6 178,680.8 180.9,680.2 183.8,680.8 186.7,679.3 189.6,677.7 192.5,676.4 195.4,675.4 198.2,674.5 201.1,673.1 204,670.6 206.9,669.6 209.8,669.6 212.7,670.6 215.6,671.6 218.5,671.9 221.4,671.9 224.3,673.5 227.1,676.4 230,677.7 232.9,678.3 235.8,676.4 238.7,675.4 241.6,676.4 244.5,677 247.4,678.3 249.3,677 252.2,676.4 255.1,675.8 258,675.4 260.9,675 263.8,675.4 266.7,675 268,675" fill="none" stroke="#0a0aff" stroke-width="1.6" stroke-linejoin="round"/>
<polyline points="37,679.3 46.6,678.3 56.3,677.3 65.9,676.4 75.5,675.8 85.2,675.4 94.8,675.4 104.4,675.4 114.1,675.4 117.9,675.8 119.9,673.5 121.8,669.6 123.7,667.7 125.6,667.3 127.6,669.6 129.5,673.5 131.4,679.3 133.3,685 135.3,687.9 139.1,688.9 144.9,689.9 148.8,690.4 153,690.4 153,690.4 157.8,689.9 163.6,687 169.3,684.7 175.1,682.2 180.9,680.2 186.7,678.3 192.5,676.4 198.2,674.5 204,672.5 209.8,671.6 215.6,671.6 221.4,671.9 229.1,673.1 238.7,673.9 248.3,674.5 258,674.5 268,674.5" fill="none" stroke="#000" stroke-width="1.7" stroke-linejoin="round"/>
</g>
<rect x="37.5" y="663.6" width="230.1" height="35.5" fill="none" stroke="#c4c4c4" stroke-width="1"/>
<text x="34.9" y="672.8" text-anchor="end" font-size="8.5">10</text>
<text x="34.9" y="681.9" text-anchor="end" font-size="8.5">0</text>
<text x="34.9" y="691" text-anchor="end" font-size="8.5">-10</text>
<text x="34.9" y="700.2" text-anchor="end" font-size="8.5">-20</text>
<path d="M37.5 669.8h2.2M267.6 669.8h-2.2M37.5 678.9h2.2M267.6 678.9h-2.2M37.5 688h2.2M267.6 688h-2.2M37.5 697.2h2.2M267.6 697.2h-2.2" stroke="#c4c4c4" stroke-width="0.8" fill="none"/>
<text transform="translate(19,681.4) rotate(-90)" text-anchor="middle" font-size="8.6">BT (nT)</text>
<g clip-path="url(#c4_2)">
<polygon points="113.1,725 116,722.5 118.9,717.7 121.8,715.4 124.7,714.2 128.5,713.9 133.3,714.2 139.1,713.5 144.9,713.9 148.8,714.8 153,715.8 153,746.6 148.8,743.7 144.9,740.8 141.1,737 137.2,735 133.3,733.1 129.5,731.2 125.6,729.3 121.8,727.3 117.9,726.4 114.1,725.8" fill="#00ff00" stroke="#00ff00" stroke-width="0.8" stroke-linejoin="round"/>
<polyline points="116.9,721.4 119.6,717.5 122.4,715.5 125.2,714.4 128,714 130.8,714 133.5,714.2 136.3,714 139.1,714 141.9,714.5 144.7,715.2 147.4,716.3 150.2,717.3 153,718.2" fill="none" stroke="#fff" stroke-opacity="0.6" stroke-width="0.7"/>
<polyline points="116.9,721.7 119.6,718.3 122.4,716.8 125.2,716.3 128,716.4 130.8,716.8 133.5,717.1 136.3,717 139.1,716.7 141.9,716.9 144.7,717.2 147.4,717.7 150.2,718.2 153,718.7" fill="none" stroke="#fff" stroke-opacity="0.6" stroke-width="0.7"/>
<polyline points="116.9,721.9 119.6,718.7 122.4,717.3 125.2,716.9 128,717.1 130.8,717.6 133.5,718.2 136.3,718.4 139.1,718.5 141.9,719.2 144.7,720 147.4,721 150.2,721.9 153,722.7" fill="none" stroke="#fff" stroke-opacity="0.6" stroke-width="0.7"/>
<polyline points="116.9,722.7 119.6,720.1 122.4,718.9 125.2,718.5 128,718.4 130.8,718.6 133.5,718.9 136.3,718.7 139.1,718.7 141.9,719.3 144.7,720.3 147.4,721.6 150.2,723 153,724.5" fill="none" stroke="#fff" stroke-opacity="0.6" stroke-width="0.7"/>
<polyline points="116.9,722.7 119.6,720.2 122.4,719.2 125.2,719.1 128,719.6 130.8,720.3 133.5,721.2 136.3,721.6 139.1,722 141.9,722.9 144.7,724.1 147.4,725.3 150.2,726.2 153,727.1" fill="none" stroke="#fff" stroke-opacity="0.6" stroke-width="0.7"/>
<polyline points="116.9,723.1 119.6,720.9 122.4,720 125.2,719.9 128,720.3 130.8,721 133.5,721.8 136.3,722.3 139.1,722.8 141.9,723.9 144.7,725.4 147.4,726.9 150.2,728.4 153,729.8" fill="none" stroke="#fff" stroke-opacity="0.6" stroke-width="0.7"/>
<polyline points="116.9,723.7 119.6,722.2 122.4,721.8 125.2,722.2 128,722.8 130.8,723.5 133.5,724.1 136.3,724.3 139.1,724.5 141.9,725.1 144.7,726.3 147.4,727.5 150.2,728.9 153,730.3" fill="none" stroke="#fff" stroke-opacity="0.6" stroke-width="0.7"/>
<polyline points="116.9,723.9 119.6,722.4 122.4,721.9 125.2,722.2 128,722.8 130.8,723.7 133.5,724.7 136.3,725.5 139.1,726.4 141.9,727.8 144.7,729.8 147.4,731.6 150.2,733.2 153,734.7" fill="none" stroke="#fff" stroke-opacity="0.6" stroke-width="0.7"/>
<polyline points="116.9,724.5 119.6,723.4 122.4,723.2 125.2,723.6 128,724.3 130.8,725.1 133.5,725.9 136.3,726.6 139.1,727.3 141.9,728.6 144.7,730.5 147.4,732.2 150.2,733.9 153,735.6" fill="none" stroke="#fff" stroke-opacity="0.6" stroke-width="0.7"/>
<polyline points="116.9,724.7 119.6,724 122.4,724.2 125.2,725.2 128,726.4 130.8,727.6 133.5,728.8 136.3,729.8 139.1,730.6 141.9,731.7 144.7,733.5 147.4,734.8 150.2,736 153,737.2" fill="none" stroke="#fff" stroke-opacity="0.6" stroke-width="0.7"/>
<polyline points="116.9,725.3 119.6,725 122.4,725.2 125.2,726 128,726.8 130.8,727.8 133.5,728.9 136.3,729.8 139.1,730.8 141.9,732.4 144.7,734.8 147.4,736.9 150.2,738.9 153,740.9" fill="none" stroke="#fff" stroke-opacity="0.6" stroke-width="0.7"/>
<polyline points="116.9,725.8 119.6,726 122.4,726.6 125.2,727.7 128,728.8 130.8,729.9 133.5,731 136.3,732 139.1,733 141.9,734.4 144.7,736.6 147.4,738.4 150.2,740.2 153,741.9" fill="none" stroke="#fff" stroke-opacity="0.6" stroke-width="0.7"/>
<polyline points="116.9,725.9 119.6,726.1 122.4,726.7 125.2,728 128,729.5 130.8,731.1 133.5,732.7 136.3,734.3 139.1,735.9 141.9,737.8 144.7,740.5 147.4,742.5 150.2,744.1 153,745.5" fill="none" stroke="#fff" stroke-opacity="0.6" stroke-width="0.7"/>
<polygon points="152,715.8 161.6,716.7 171.3,720.6 180.9,723.5 190.5,724.5 200.2,724.5 209.8,724.5 219.4,725 229.1,726.4 238.7,727.3 248.3,727.3 258,727.7 268,727 268,729.7 258,730.8 248.3,732.2 238.7,732.7 229.1,733.1 219.4,734.1 209.8,736 200.2,738.5 190.5,740.8 180.9,742.8 171.3,744.7 161.6,746.6 152,747.6" fill="#00ff00" stroke="#00ff00" stroke-width="0.8" stroke-linejoin="round"/>
<polyline points="152,718.2 154.6,718.4 157.2,718.5 159.7,718.4 162.3,718.5 164.9,719 167.5,719.7 170,720.4 172.6,721.1 175.2,721.8 177.8,722.6 180.4,723.5 182.9,724.1 185.5,724.6 188.1,725 190.7,725.4 193.2,725.6 195.8,725.6 198.4,725.6 201,725.4 203.6,725.3 206.1,725.1 208.7,724.9 211.3,724.8 213.9,724.8 216.4,724.9 219,725 221.6,725.3 224.2,725.8 226.8,726.2 229.3,726.6 231.9,727 234.5,727.3 237.1,727.6 239.6,727.7 242.2,727.7 244.8,727.7" fill="none" stroke="#fff" stroke-opacity="0.6" stroke-width="0.7"/>
<polyline points="152,718.9 154.6,718.8 157.2,718.8 159.7,718.9 162.3,719.3 164.9,720.2 167.5,721.3 170,722.3 172.6,723.3 175.2,724.2 177.8,725 180.4,725.8 182.9,726.3 185.5,726.5 188.1,726.8 190.7,727 193.2,726.9 195.8,726.7 198.4,726.6 201,726.4 203.6,726.1 206.1,725.9 208.7,725.7 211.3,725.6 213.9,725.6 216.4,725.7 219,725.7 221.6,726 224.2,726.3 226.8,726.7 229.3,727 231.9,727.3 234.5,727.6 237.1,727.8 239.6,728 242.2,728 244.8,728.1" fill="none" stroke="#fff" stroke-opacity="0.6" stroke-width="0.7"/>
<polyline points="152,723 154.6,723 157.2,723 159.7,722.9 162.3,723 164.9,723.5 167.5,724 170,724.5 172.6,725 175.2,725.4 177.8,725.9 180.4,726.4 182.9,726.6 185.5,726.7 188.1,726.9 190.7,727.1 193.2,727 195.8,727 198.4,727 201,727 203.6,727 206.1,727 208.7,726.9 211.3,727 213.9,727 216.4,727.1 219,727.1 221.6,727.3 224.2,727.5 226.8,727.7 229.3,727.9 231.9,728 234.5,728.2 237.1,728.3 239.6,728.4 242.2,728.3 244.8,728.2" fill="none" stroke="#fff" stroke-opacity="0.6" stroke-width="0.7"/>
<polyline points="152,724.6 154.6,725.1 157.2,725.5 159.7,725.8 162.3,726.1 164.9,726.5 167.5,726.9 170,727.1 172.6,727.3 175.2,727.4 177.8,727.6 180.4,727.9 182.9,728 185.5,728.1 188.1,728.3 190.7,728.5 193.2,728.6 195.8,728.6 198.4,728.6 201,728.6 203.6,728.5 206.1,728.3 208.7,728.1 211.3,727.8 213.9,727.7 216.4,727.5 219,727.4 221.6,727.4 224.2,727.6 226.8,727.7 229.3,728 231.9,728.2 234.5,728.4 237.1,728.6 239.6,728.8 242.2,728.8 244.8,728.8" fill="none" stroke="#fff" stroke-opacity="0.6" stroke-width="0.7"/>
<polyline points="152,727.5 154.6,727.3 157.2,727.1 159.7,726.9 162.3,726.8 164.9,727 167.5,727.4 170,727.8 172.6,728.2 175.2,728.6 177.8,729 180.4,729.5 182.9,729.8 185.5,729.9 188.1,730.1 190.7,730.3 193.2,730.2 195.8,730.1 198.4,730 201,729.8 203.6,729.5 206.1,729.2 208.7,728.9 211.3,728.7 213.9,728.5 216.4,728.3 219,728.1 221.6,728.2 224.2,728.3 226.8,728.4 229.3,728.5 231.9,728.6 234.5,728.8 237.1,728.9 239.6,729 242.2,729 244.8,729" fill="none" stroke="#fff" stroke-opacity="0.6" stroke-width="0.7"/>
<polyline points="152,730.1 154.6,730.3 157.2,730.4 159.7,730.5 162.3,730.6 164.9,730.9 167.5,731.1 170,731.3 172.6,731.4 175.2,731.4 177.8,731.5 180.4,731.6 182.9,731.4 185.5,731.2 188.1,731 190.7,730.9 193.2,730.6 195.8,730.3 198.4,730 201,729.8 203.6,729.6 206.1,729.4 208.7,729.2 211.3,729.1 213.9,729 216.4,729 219,728.9 221.6,729.1 224.2,729.2 226.8,729.3 229.3,729.5 231.9,729.6 234.5,729.7 237.1,729.8 239.6,729.8 242.2,729.7 244.8,729.6" fill="none" stroke="#fff" stroke-opacity="0.6" stroke-width="0.7"/>
<polyline points="152,730.7 154.6,731 157.2,731.4 159.7,731.8 162.3,732.3 164.9,732.8 167.5,733.2 170,733.5 172.6,733.5 175.2,733.5 177.8,733.3 180.4,733.2 182.9,732.8 185.5,732.5 188.1,732.2 190.7,732 193.2,731.7 195.8,731.5 198.4,731.4 201,731.2 203.6,731.1 206.1,730.9 208.7,730.7 211.3,730.5 213.9,730.4 216.4,730.1 219,729.8 221.6,729.7 224.2,729.7 226.8,729.6 229.3,729.6 231.9,729.6 234.5,729.7 237.1,729.8 239.6,729.8 242.2,729.8 244.8,729.8" fill="none" stroke="#fff" stroke-opacity="0.6" stroke-width="0.7"/>
<polyline points="152,735.3 154.6,735.3 157.2,735.2 159.7,735 162.3,734.8 164.9,734.7 167.5,734.5 170,734.4 172.6,734.2 175.2,734.1 177.8,734 180.4,733.9 182.9,733.7 185.5,733.6 188.1,733.5 190.7,733.4 193.2,733.2 195.8,733 198.4,732.7 201,732.5 203.6,732.3 206.1,732 208.7,731.7 211.3,731.4 213.9,731.2 216.4,730.9 219,730.6 221.6,730.5 224.2,730.4 226.8,730.3 229.3,730.3 231.9,730.3 234.5,730.3 237.1,730.3 239.6,730.2 242.2,730.1 244.8,730.1" fill="none" stroke="#fff" stroke-opacity="0.6" stroke-width="0.7"/>
<polyline points="152,736.2 154.6,736.3 157.2,736.5 159.7,736.7 162.3,736.8 164.9,737 167.5,737.1 170,737.2 172.6,737.2 175.2,737.1 177.8,737 180.4,736.8 182.9,736.5 185.5,736.1 188.1,735.7 190.7,735.3 193.2,734.8 195.8,734.2 198.4,733.7 201,733.2 203.6,732.7 206.1,732.2 208.7,731.8 211.3,731.4 213.9,731.2 216.4,730.9 219,730.7 221.6,730.7 224.2,730.7 226.8,730.7 229.3,730.7 231.9,730.8 234.5,730.9 237.1,731 239.6,731 242.2,730.9 244.8,730.8" fill="none" stroke="#fff" stroke-opacity="0.6" stroke-width="0.7"/>
<polyline points="152,738 154.6,737.7 157.2,737.6 159.7,737.6 162.3,737.8 164.9,738.1 167.5,738.4 170,738.6 172.6,738.7 175.2,738.7 177.8,738.6 180.4,738.3 182.9,737.9 185.5,737.4 188.1,736.8 190.7,736.3 193.2,735.6 195.8,735 198.4,734.5 201,734 203.6,733.6 206.1,733.3 208.7,733 211.3,732.7 213.9,732.5 216.4,732.3 219,732 221.6,731.9 224.2,731.8 226.8,731.6 229.3,731.4 231.9,731.3 234.5,731.3 237.1,731.2 239.6,731.1 242.2,730.9 244.8,730.8" fill="none" stroke="#fff" stroke-opacity="0.6" stroke-width="0.7"/>
<polyline points="152,741.6 154.6,741.7 157.2,741.9 159.7,741.9 162.3,741.9 164.9,741.7 167.5,741.4 170,741 172.6,740.6 175.2,740.1 177.8,739.6 180.4,739.2 182.9,738.6 185.5,738.1 188.1,737.6 190.7,737.1 193.2,736.6 195.8,736.1 198.4,735.6 201,735.2 203.6,734.8 206.1,734.3 208.7,733.9 211.3,733.6 213.9,733.3 216.4,733 219,732.7 221.6,732.5 224.2,732.4 226.8,732.2 229.3,732.1 231.9,732 234.5,731.9 237.1,731.8 239.6,731.7 242.2,731.5 244.8,731.3" fill="none" stroke="#fff" stroke-opacity="0.6" stroke-width="0.7"/>
<polyline points="152,742.7 154.6,742.5 157.2,742.5 159.7,742.4 162.3,742.4 164.9,742.3 167.5,742.2 170,742 172.6,741.9 175.2,741.7 177.8,741.4 180.4,741.2 182.9,740.8 185.5,740.4 188.1,740 190.7,739.5 193.2,738.9 195.8,738.3 198.4,737.7 201,737 203.6,736.3 206.1,735.6 208.7,734.9 211.3,734.3 213.9,733.8 216.4,733.3 219,732.8 221.6,732.6 224.2,732.4 226.8,732.2 229.3,732.1 231.9,732.1 234.5,732 237.1,732 239.6,732 242.2,731.9 244.8,731.8" fill="none" stroke="#fff" stroke-opacity="0.6" stroke-width="0.7"/>
<polyline points="152,746.6 154.6,745.9 157.2,745.3 159.7,744.7 162.3,744.3 164.9,743.8 167.5,743.5 170,743.3 172.6,743.2 175.2,743 177.8,742.8 180.4,742.6 182.9,742.3 185.5,741.8 188.1,741.3 190.7,740.7 193.2,739.9 195.8,739.1 198.4,738.3 201,737.5 203.6,736.7 206.1,736 208.7,735.4 211.3,734.9 213.9,734.5 216.4,734.2 219,733.8 221.6,733.6 224.2,733.5 226.8,733.3 229.3,733.1 231.9,733 234.5,732.9 237.1,732.7 239.6,732.5 242.2,732.3 244.8,732.1" fill="none" stroke="#fff" stroke-opacity="0.6" stroke-width="0.7"/>
<line x1="111.6" y1="713.2" x2="111.6" y2="748.7" stroke="#ff3030" stroke-opacity="0.7" stroke-width="1.2" stroke-dasharray="2.6,1.2"/>
<line x1="135" y1="713.2" x2="135" y2="748.7" stroke="#ff3030" stroke-opacity="0.7" stroke-width="1.2" stroke-dasharray="2.6,1.2"/>
<line x1="118.1" y1="713.2" x2="118.1" y2="748.7" stroke="#8a8a8a" stroke-width="1.2"/>
<polyline points="37,723.9 39.9,723.5 42.8,723.1 45.7,724.5 48.6,725 52.4,725.8 56.3,726.4 60.1,727 64,726.4 67.8,725.8 71.7,725.4 75.5,725 77.5,723.9 79.4,725 83.2,725.4 87.1,724.5 89,723.5 91,724.5 94.8,725.4 98.7,725.8 102.5,725 104.4,726.4 106.4,725.4 108.3,725 110.2,726.4 113.1,725.8 115,726.4 116.4,728.3 117.9,732.2 119.9,733.5 121.8,732.2 123.3,728.3 124.7,723.5 126,718.7 127.6,715.4 129.1,718.7 130.5,723.5 132.4,726.4 134.3,727.3 135.7,728.3 136.8,726.4 138.2,725.4 139.5,727.3 141.1,733.1 142.6,738.9 144.5,742.8 146.8,744.3 149.7,744.7 153,744.3 153,742 155.9,742.4 159.7,743.1 163.6,742.8 167.4,741.8 171.3,740.8 175.1,740.4 179,739.9 182.8,739.3 186.7,738.9 190.5,738.5 194.4,737.9 198.2,737 201.1,735 203.1,731.2 205,725.4 206.9,724.5 209.8,726.4 212.7,728.3 215.6,729.3 218.5,730.2 221.4,730.2 223.3,732.2 225.2,733.5 227.1,734.1 229.1,733.1 231,731.6 232.9,730.2 234.9,729.3 236.8,727.3 238.7,725.4 241,723.9 242.6,725.4 244.5,726.4 246.4,723.9 248.3,722.5 250.3,725 252.2,727.3 254.1,724.5 256.1,723.9 258.9,725 261.8,725.4 264.7,725.4 268,725.4" fill="none" stroke="#0a0aff" stroke-width="1.6" stroke-linejoin="round"/>
<polyline points="37,725 46.6,725.4 56.3,725.4 65.9,725.4 75.5,725.4 85.2,725.4 94.8,725.4 104.4,725.4 114.1,725.4 119.9,723.9 122.7,722.5 125.6,723.1 129.5,723.9 133.3,725.4 137.2,727.3 140.1,729.3 142,729.7 143.9,728.3 146.8,725.4 149.7,723.9 153,724.5 153,725.4 155.9,729.3 159.7,734.1 163.6,737.4 167.4,738.9 171.3,739.9 177,740.4 182.8,739.9 190.5,738.9 200.2,736.6 209.8,734.1 219.4,732.7 229.1,731.6 238.7,731.2 248.3,730.2 258,729.3 263.8,728.3 268,727" fill="none" stroke="#000" stroke-width="1.7" stroke-linejoin="round"/>
</g>
<rect x="37.5" y="713.2" width="230.1" height="35.5" fill="none" stroke="#c4c4c4" stroke-width="1"/>
<text x="34.9" y="717.9" text-anchor="end" font-size="8.5">10</text>
<text x="34.9" y="728.5" text-anchor="end" font-size="8.5">0</text>
<text x="34.9" y="739.4" text-anchor="end" font-size="8.5">-10</text>
<text x="34.9" y="750.4" text-anchor="end" font-size="8.5">-20</text>
<path d="M37.5 714.9h2.2M267.6 714.9h-2.2M37.5 725.5h2.2M267.6 725.5h-2.2M37.5 736.4h2.2M267.6 736.4h-2.2M37.5 747.4h2.2M267.6 747.4h-2.2" stroke="#c4c4c4" stroke-width="0.8" fill="none"/>
<text transform="translate(19,731) rotate(-90)" text-anchor="middle" font-size="8.6">BN (nT)</text>
<g clip-path="url(#c4_3)">
<polygon points="113.1,793.7 115,789.9 117.9,787 121.8,784.7 125.6,784.1 129.5,784.1 133.3,783.5 137.2,783.1 141.1,783.1 144.9,784.1 148.8,786 153,787 153,797.6 144.9,797 137.2,796.6 129.5,796.2 121.8,796.2 114.1,796.2 113.1,795.6" fill="#00ff00" stroke="#00ff00" stroke-width="0.8" stroke-linejoin="round"/>
<polyline points="116,789.7 118.8,787.1 121.7,785.1 124.5,784.3 127.4,784.1 130.2,784.1 133.1,784 135.9,784.2 138.8,784.6 141.6,785.3 144.5,786.3 147.3,787.6 150.2,788.5 153,788.9" fill="none" stroke="#fff" stroke-opacity="0.6" stroke-width="0.7"/>
<polyline points="116,791.5 118.8,790.1 121.7,789.2 124.5,789 127.4,788.9 130.2,788.8 133.1,788.4 135.9,788 138.8,787.6 141.6,787.3 144.5,787.5 147.3,788.2 150.2,788.8 153,789.2" fill="none" stroke="#fff" stroke-opacity="0.6" stroke-width="0.7"/>
<polyline points="116,792.3 118.8,791.2 121.7,790.6 124.5,790.6 127.4,790.8 130.2,791 133.1,791.1 135.9,791.2 138.8,791.3 141.6,791.4 144.5,791.7 147.3,792.2 150.2,792.5 153,792.7" fill="none" stroke="#fff" stroke-opacity="0.6" stroke-width="0.7"/>
<polyline points="116,794.7 118.8,794 121.7,793.2 124.5,792.6 127.4,792.1 130.2,791.7 133.1,791.3 135.9,791.2 138.8,791.4 141.6,791.9 144.5,792.7 147.3,793.8 150.2,794.6 153,795.3" fill="none" stroke="#fff" stroke-opacity="0.6" stroke-width="0.7"/>
<polyline points="116,795 118.8,794.8 121.7,794.9 124.5,795.2 127.4,795.6 130.2,795.9 133.1,796.2 135.9,796.5 138.8,796.7 141.6,796.7 144.5,796.7 147.3,796.6 150.2,796.6 153,796.5" fill="none" stroke="#fff" stroke-opacity="0.6" stroke-width="0.7"/>
<polygon points="152,787 155.9,787.9 158.7,790.8 161.6,794.7 171.3,795.1 180.9,796.2 209.8,797 229.1,795.6 248.3,794.7 268,793.1 268,795.6 248.3,796.6 229.1,797.8 209.8,798.2 180.9,797.8 171.3,797.2 161.6,797 152,797" fill="#00ff00" stroke="#00ff00" stroke-width="0.8" stroke-linejoin="round"/>
<polyline points="152,789.4 154.6,789.6 157.2,790.6" fill="none" stroke="#fff" stroke-opacity="0.6" stroke-width="0.7"/>
<polyline points="152,789.6 154.6,790 157.2,791.2" fill="none" stroke="#fff" stroke-opacity="0.6" stroke-width="0.7"/>
<polyline points="152,793.9 154.6,793.8 157.2,794.2" fill="none" stroke="#fff" stroke-opacity="0.6" stroke-width="0.7"/>
<polyline points="152,796.6 154.6,796.9 157.2,797" fill="none" stroke="#fff" stroke-opacity="0.6" stroke-width="0.7"/>
<line x1="111.6" y1="763.7" x2="111.6" y2="799.2" stroke="#ff3030" stroke-opacity="0.7" stroke-width="1.2" stroke-dasharray="2.6,1.2"/>
<line x1="135" y1="763.7" x2="135" y2="799.2" stroke="#ff3030" stroke-opacity="0.7" stroke-width="1.2" stroke-dasharray="2.6,1.2"/>
<line x1="118.1" y1="763.7" x2="118.1" y2="799.2" stroke="#8a8a8a" stroke-width="1.2"/>
<polyline points="37,796.2 46.6,796.6 56.3,797 65.9,797 75.5,796.6 85.2,796.2 94.8,795.6 100.6,796.2 104.4,796.2 110.2,795.6 114.1,796.6 117.9,794.7 120.8,791.8 123.7,788.9 126.6,787.9 128.5,789.9 130.5,790.8 132.4,793.1 133.3,794.7 134.3,792.8 136.2,789.9 138.2,787.9 140.1,787 141.4,788.9 142.6,793.7 144.9,795.6 148.8,796.6 153,797 153,797 161.6,796.6 171.3,797.2 180.9,797.6 190.5,798 200.2,798.2 209.8,798 219.4,797.8 229.1,797.6 238.7,797.4 248.3,797.8 258,798 268,798" fill="none" stroke="#0a0aff" stroke-width="1.6" stroke-linejoin="round"/>
<polyline points="37,795.6 46.6,796.2 56.3,796.6 65.9,796.6 75.5,796.2 85.2,795.6 94.8,795.1 100.6,794.7 106.4,795.1 112.1,795.3 116,795.1 118.9,793.7 121.8,790.8 124.7,787 127.6,785.6 130.5,786.4 132.4,788.5 134.3,790.8 137.2,792.8 141.1,794.7 144.9,796.2 153,797 153,797 161.6,797 171.3,797.2 180.9,797.6 190.5,798 200.2,798.2 209.8,798.2 219.4,798 229.1,797.6 238.7,796.6 248.3,795.6 258,794.7 268,794.3" fill="none" stroke="#000" stroke-width="1.7" stroke-linejoin="round"/>
</g>
<rect x="37.5" y="763.7" width="230.1" height="35.5" fill="none" stroke="#c4c4c4" stroke-width="1"/>
<text x="34.9" y="772.7" text-anchor="end" font-size="8.5">50</text>
<text x="34.9" y="801.9" text-anchor="end" font-size="8.5">0</text>
<path d="M37.5 769.7h2.2M267.6 769.7h-2.2" stroke="#c4c4c4" stroke-width="0.8" fill="none"/>
<text transform="translate(18,781.5) rotate(-90)" text-anchor="middle" font-size="8.6">N<tspan font-size="7.7" dy="2.8">p</tspan><tspan dy="-2.8"> (cm</tspan><tspan font-size="7.7" dy="-4.3">-3</tspan><tspan dy="4.3">)</tspan></text>
<g clip-path="url(#c4_4)">
<polygon points="112.1,835 114.1,829.3 117.9,828.3 123.7,827.7 129.5,827 137.2,827 144.9,827.7 153,828.9 153,835 144.9,835 137.2,835.4 133.3,837.9 129.5,838.5 123.7,838.5 117.9,838.5 114.1,837.9 112.1,837" fill="#00ff00" stroke="#00ff00" stroke-width="0.8" stroke-linejoin="round"/>
<polyline points="114.9,829.7 117.6,828.7 120.3,828.2 123,827.8 125.8,827.6 128.5,827.5 131.2,827.8 133.9,828.3 136.7,828.5 139.4,828.9 142.1,829.3 144.8,829.6 147.6,829.8 150.3,829.9 153,830" fill="none" stroke="#fff" stroke-opacity="0.6" stroke-width="0.7"/>
<polyline points="114.9,833.4 117.6,833.4 120.3,833.3 123,833.1 125.8,832.8 128.5,832.4 131.2,831.8 133.9,831.2 136.7,830.2 139.4,829.9 142.1,829.8 144.8,829.7 147.6,829.9 150.3,830.1 153,830.4" fill="none" stroke="#fff" stroke-opacity="0.6" stroke-width="0.7"/>
<polyline points="114.9,834.8 117.6,835.1 120.3,835.3 123,835.5 125.8,835.6 128.5,835.6 131.2,835.4 133.9,834.9 136.7,833.5 139.4,833.1 142.1,832.9 144.8,832.8 147.6,832.7 150.3,832.6 153,832.6" fill="none" stroke="#fff" stroke-opacity="0.6" stroke-width="0.7"/>
<polyline points="114.9,837.7 117.6,837.7 120.3,837.2 123,836.7 125.8,836.2 128.5,835.8 131.2,835.4 133.9,835 136.7,833.9 139.4,833.9 142.1,834.2 144.8,834.5 147.6,834.8 150.3,835 153,835" fill="none" stroke="#fff" stroke-opacity="0.6" stroke-width="0.7"/>
<polygon points="152,828.9 161.6,829.3 167.4,828.3 173.2,828.3 180.9,830.2 190.5,832.2 200.2,834.1 209.8,835 209.8,838.5 200.2,838.5 190.5,838.9 180.9,838.9 171.3,838.5 161.6,838.5 152,837.9" fill="#00ff00" stroke="#00ff00" stroke-width="0.8" stroke-linejoin="round"/>
<polyline points="152,830.6 154.6,830.3 157.3,830 159.9,829.7 162.5,829.3 165.1,828.7 167.8,828.3 170.4,828.5 173,828.8 175.6,829.8 178.3,830.8 180.9,831.8 183.5,832.5 186.2,833.1 188.8,833.6 191.4,833.9 194,834.1 196.7,834.3" fill="none" stroke="#fff" stroke-opacity="0.6" stroke-width="0.7"/>
<polyline points="152,831.2 154.6,831.4 157.3,831.6 159.9,832 162.5,832.3 165.1,832.3 167.8,832.4 170.4,832.8 173,833.1 175.6,833.6 178.3,834.2 180.9,834.6 183.5,834.8 186.2,834.9 188.8,835 191.4,835.1 194,835.2 196.7,835.3" fill="none" stroke="#fff" stroke-opacity="0.6" stroke-width="0.7"/>
<polyline points="152,834.5 154.6,834.4 157.3,834.3 159.9,834.2 162.5,834 165.1,833.7 167.8,833.4 170.4,833.4 173,833.5 175.6,833.9 178.3,834.5 180.9,835 183.5,835.4 186.2,835.8 188.8,836.2 191.4,836.6 194,836.9 196.7,837.1" fill="none" stroke="#fff" stroke-opacity="0.6" stroke-width="0.7"/>
<polyline points="152,837.9 154.6,838.1 157.3,838.1 159.9,837.9 162.5,837.6 165.1,837.1 167.8,836.6 170.4,836.3 173,836.1 175.6,836.3 178.3,836.6 180.9,837.1 183.5,837.5 186.2,837.9 188.8,838.3 191.4,838.6 194,838.7 196.7,838.7" fill="none" stroke="#fff" stroke-opacity="0.6" stroke-width="0.7"/>
<line x1="111.6" y1="813.5" x2="111.6" y2="849" stroke="#ff3030" stroke-opacity="0.7" stroke-width="1.2" stroke-dasharray="2.6,1.2"/>
<line x1="135" y1="813.5" x2="135" y2="849" stroke="#ff3030" stroke-opacity="0.7" stroke-width="1.2" stroke-dasharray="2.6,1.2"/>
<line x1="118.1" y1="813.5" x2="118.1" y2="849" stroke="#8a8a8a" stroke-width="1.2"/>
<polyline points="37,837.4 46.6,837.9 56.3,838.5 65.9,838.9 75.5,839.3 85.2,839.3 94.8,839.3 104.4,839.3 110.2,838.5 114.1,837.9 117.9,837.6 119.9,834.1 121.8,830.2 124.7,828.3 127.6,827 130.5,826.4 133.3,827 137.2,827.7 141.1,828.3 144.9,828.3 148.8,828.9 153,829.7 153,829.7 157.8,830.2 163.6,830.8 171.3,831.2 179,832.2 186.7,833.1 194.4,834.1 202.1,835 209.8,835.4 236.8,835 264.7,834.7 268,834.1" fill="none" stroke="#0a0aff" stroke-width="1.6" stroke-linejoin="round"/>
<polyline points="37,837 46.6,837.6 56.3,837.9 65.9,838.3 75.5,838.5 85.2,838.5 94.8,838.3 104.4,837.9 114.1,837.6 117.9,837.4 119.9,834.7 121.8,830.8 124.7,829.3 127.6,829.3 131.4,829.7 135.3,830.2 139.1,830.8 143,831.6 146.8,832.7 150.7,833.5 153,834.1 153,834.1 161.6,834.7 171.3,835 180.9,835.6 190.5,836.4 200.2,837 209.8,837.4 264.7,837.9 268,837.9" fill="none" stroke="#000" stroke-width="1.7" stroke-linejoin="round"/>
</g>
<rect x="37.5" y="813.5" width="230.1" height="35.5" fill="none" stroke="#c4c4c4" stroke-width="1"/>
<text x="34.9" y="816.9" text-anchor="end" font-size="8.5">1000</text>
<text x="34.9" y="836.4" text-anchor="end" font-size="8.5">500</text>
<path d="M37.5 833.4h2.2M267.6 833.4h-2.2M83.5 813.5v2.2M83.5 849v-2.2M129.5 813.5v2.2M129.5 849v-2.2M175.6 813.5v2.2M175.6 849v-2.2M221.6 813.5v2.2M221.6 849v-2.2" stroke="#c4c4c4" stroke-width="0.8" fill="none"/>
<text transform="translate(9,831.2) rotate(-90)" text-anchor="middle" font-size="8.6">V<tspan font-size="7.7" dy="2.8">r</tspan><tspan dy="-2.8"> (Km/s)</tspan></text>
<text x="37.5" y="858.9" text-anchor="middle" font-size="8.5">Jul 13</text>
<text x="83.5" y="858.9" text-anchor="middle" font-size="8.5">Jul 14</text>
<text x="129.5" y="858.9" text-anchor="middle" font-size="8.5">Jul 15</text>
<text x="175.6" y="858.9" text-anchor="middle" font-size="8.5">Jul 16</text>
<text x="221.6" y="858.9" text-anchor="middle" font-size="8.5">Jul 17</text>
<text x="267.6" y="858.9" text-anchor="middle" font-size="8.5">Jul 18</text>
<text x="152.6" y="871" text-anchor="middle" font-size="9">Time (Year)</text>
<text x="250.7" y="870.8" text-anchor="middle" font-size="8.5">2012</text>
<rect x="209.6" y="815.5" width="54.8" height="28.7" fill="#fff" stroke="#c4c4c4" stroke-width="0.8"/>
<line x1="211.2" y1="820.8" x2="223.5" y2="820.8" stroke="#00ff00" stroke-width="1.2"/>
<text x="224.9" y="823.5" font-size="7.5">Ensemble</text>
<line x1="211.2" y1="829.6" x2="223.5" y2="829.6" stroke="#0a0aff" stroke-width="1.6"/>
<text x="224.9" y="832.3" font-size="7.5">OMNI data</text>
<line x1="211.2" y1="839.1" x2="223.5" y2="839.1" stroke="#000" stroke-width="1.6"/>
<text x="224.9" y="841.8" font-size="7.5">Simulation</text>
<text x="559.8" y="608.7" text-anchor="middle" style="font-family:'Liberation Serif',serif;fill:#000" font-size="18.2">6</text>
<g clip-path="url(#c5_0)">
<polygon points="374.9,625.4 380.7,625.4 388.4,625.4 396.1,625.4 403.8,624.5 411.5,623.9 419.2,623.1 426.9,621.9 434.6,621.2 442.3,621.6 450.1,622.5 457.8,622.5 462,621.9 462,628.3 453.9,628.9 446.2,630.2 438.5,631.2 430.8,631.6 423.1,632.2 415.4,632.7 407.7,633.5 401.9,632.2 396.1,631.6 390.3,630.2 384.5,629.3 380.7,628.3 376.8,627 374.9,625.8" fill="#00ff00" stroke="#00ff00" stroke-width="0.8" stroke-linejoin="round"/>
<polyline points="393.4,625.5 396,625.4 398.7,625.1 401.3,624.9 403.9,624.9 406.6,625.1 409.2,625.4 411.9,625.6 414.5,625.6 417.1,625.6 419.8,625.4 422.4,624.9 425.1,624.3 427.7,623.6 430.3,622.9 433,622.1 435.6,621.6 438.2,621.5 440.9,621.5 443.5,621.8 446.2,622.3 448.8,622.9 451.4,623.3 454.1,623.5 456.7,623.7 459.4,623.7 462,623.5" fill="none" stroke="#fff" stroke-opacity="0.6" stroke-width="0.7"/>
<polyline points="393.4,627.2 396,627.2 398.7,626.9 401.3,626.6 403.9,626.5 406.6,626.5 409.2,626.6 411.9,626.6 414.5,626.6 417.1,626.6 419.8,626.7 422.4,626.7 425.1,626.7 427.7,626.6 430.3,626.5 433,626.4 435.6,626.3 438.2,626.1 440.9,625.9 443.5,625.6 446.2,625.4 448.8,625.1 451.4,624.8 454.1,624.5 456.7,624.2 459.4,623.9 462,623.5" fill="none" stroke="#fff" stroke-opacity="0.6" stroke-width="0.7"/>
<polyline points="393.4,629 396,629.2 398.7,629.1 401.3,628.9 403.9,628.9 406.6,629 409.2,628.8 411.9,628.5 414.5,628.2 417.1,628 419.8,627.8 422.4,627.7 425.1,627.6 427.7,627.6 430.3,627.6 433,627.7 435.6,627.8 438.2,628 440.9,628.1 443.5,628.1 446.2,628.1 448.8,627.9 451.4,627.6 454.1,627.3 456.7,627.1 459.4,626.8 462,626.4" fill="none" stroke="#fff" stroke-opacity="0.6" stroke-width="0.7"/>
<polyline points="393.4,630.4 396,630.6 398.7,630.5 401.3,630.4 403.9,630.6 406.6,631 409.2,631.2 411.9,631.2 414.5,631.3 417.1,631.5 419.8,631.7 422.4,631.9 425.1,631.9 427.7,631.8 430.3,631.5 433,631.1 435.6,630.6 438.2,630 440.9,629.3 443.5,628.7 446.2,628.3 448.8,627.9 451.4,627.6 454.1,627.4 456.7,627.5 459.4,627.6 462,627.7" fill="none" stroke="#fff" stroke-opacity="0.6" stroke-width="0.7"/>
<polygon points="461,621.9 480.3,620.6 499.5,620 518.8,620 538.1,619.6 557.3,619.2 577,618.7 577,621.6 557.3,621.9 538.1,622.5 518.8,623.5 499.5,624.5 489.9,625 480.3,626.4 470.6,627.7 461,629.3" fill="#00ff00" stroke="#00ff00" stroke-width="0.8" stroke-linejoin="round"/>
<polyline points="461,624.3 463.6,624.1 466.2,623.8 468.7,623.3 471.3,622.7 473.9,622.1 476.5,621.6 479,621 481.6,620.7 484.2,620.5 486.8,620.4" fill="none" stroke="#fff" stroke-opacity="0.6" stroke-width="0.7"/>
<polyline points="461,624.4 463.6,624.1 466.2,623.9 468.7,623.8 471.3,623.7 473.9,623.7 476.5,623.7 479,623.7 481.6,623.7 484.2,623.7 486.8,623.6" fill="none" stroke="#fff" stroke-opacity="0.6" stroke-width="0.7"/>
<polyline points="461,628.9 463.6,628.3 466.2,627.7 468.7,627.1 471.3,626.5 473.9,626 476.5,625.4 479,624.9 481.6,624.5 484.2,624.1 486.8,623.8" fill="none" stroke="#fff" stroke-opacity="0.6" stroke-width="0.7"/>
<line x1="375.3" y1="613.6" x2="375.3" y2="649.1" stroke="#ff3030" stroke-opacity="0.7" stroke-width="1.2" stroke-dasharray="2.6,1.2"/>
<line x1="420.4" y1="613.6" x2="420.4" y2="649.1" stroke="#ff3030" stroke-opacity="0.7" stroke-width="1.2" stroke-dasharray="2.6,1.2"/>
<line x1="371.8" y1="613.6" x2="371.8" y2="649.1" stroke="#8a8a8a" stroke-width="1.2"/>
<polyline points="346,621.9 347.9,620 349.9,619.2 351.8,620.6 353.7,622.5 355.6,624.5 357.6,625 359.5,626.4 361.4,628.3 363.3,630.2 365.3,628.9 367.2,626.4 369.1,627.7 371,628.3 373,627.7 374.9,627 376.4,623.5 377.8,624.5 379.1,627.3 380.7,630.8 382.6,632.7 384.5,633.1 387.4,632.7 390.3,633.1 393.2,632.2 396.1,630.8 398,629.3 400,628.3 401.9,626.4 403,625 404.2,628.3 405.7,635 407.3,641.8 408,645.6 409.6,644.7 412.5,645.1 415.4,644.7 418.3,645.6 421.1,646.6 423.1,647.6 425,648.2 426.9,648.5 428.9,644.7 430.8,641.8 432.3,637 433.7,633.1 434.6,632.7 435.6,635 436.6,638.5 438.1,638.9 440.4,637 442.3,637.9 444.3,637.4 447.2,637.9 450.1,638.5 452.9,639.3 455.8,640.4 458.7,641.8 462,642.8 462,642.4 462.9,643.1 464.9,638.9 466.8,635 468.3,634.7 469.7,640.8 471.6,639.9 473.5,637.9 475.5,637 477.4,629.3 479.3,626.4 481.2,622.5 483.2,621.9 485.1,625.4 487,629.3 489.5,631.2 491.8,630.2 494.1,631.6 496.6,630.8 498.6,625.4 500.5,619.6 501.9,619.2 503.4,624.5 505.3,630.2 507.2,636 509.2,637.9 511.1,639.9 513,635 514,631.2 515.3,635 517.3,636.6 519.8,635 522.7,637 525.6,639.9 528.4,637.9 531.3,635 534.2,634.1 536.1,629.3 538.1,623.5 539.6,618.7 541,620.6 542.9,626.4 544.8,629.3 546.7,628.3 548.7,625.4 550.6,623.5 553.1,620.6 554.5,617.7 556.4,620.6 558.3,623.9 560.2,623.1 562.2,624.5 564.1,623.5 566,618.7 567.9,614.2 569.9,615.8 571.8,617.7 574.7,617.3 577,616.7" fill="none" stroke="#0a0aff" stroke-width="1.6" stroke-linejoin="round"/>
<polyline points="346,625.4 355.6,625.4 365.3,625.4 374.9,625.4 384.5,625.4 392.2,625.4 396.1,627.3 400,629.7 403.8,630.8 409.6,630.2 415.4,629.3 423.1,628.7 430.8,627.7 438.5,627 446.2,625.8 453.9,624.5 462,623.5 462,623.5 470.6,622.5 480.3,621.9 499.5,621.9 518.8,621.9 538.1,621.6 557.3,621.2 577,620.6" fill="none" stroke="#000" stroke-width="1.7" stroke-linejoin="round"/>
</g>
<rect x="346" y="613.6" width="230" height="35.5" fill="none" stroke="#c4c4c4" stroke-width="1"/>
<text x="343.4" y="623.2" text-anchor="end" font-size="8.5">2</text>
<text x="343.4" y="629.6" text-anchor="end" font-size="8.5">0</text>
<text x="343.4" y="636.5" text-anchor="end" font-size="8.5">-2</text>
<text x="343.4" y="643.7" text-anchor="end" font-size="8.5">-4</text>
<text x="343.4" y="650.8" text-anchor="end" font-size="8.5">-6</text>
<path d="M346 620.2h2.2M576 620.2h-2.2M346 626.6h2.2M576 626.6h-2.2M346 633.5h2.2M576 633.5h-2.2M346 640.7h2.2M576 640.7h-2.2M346 647.8h2.2M576 647.8h-2.2" stroke="#c4c4c4" stroke-width="0.8" fill="none"/>
<text transform="translate(331.7,631.4) rotate(-90)" text-anchor="middle" font-size="8.6">BR (nT)</text>
<g clip-path="url(#c5_1)">
<polygon points="374.9,671.6 384.5,671.9 392.2,671.6 398,669.6 401.9,668.1 407.7,667.3 413.4,666.7 419.2,666.2 425,666.7 430.8,668.1 438.5,669.2 446.2,670 453.9,670.6 462,671.2 462,673.9 453.9,673.9 446.2,674.5 438.5,675.8 430.8,678.3 425,679.3 419.2,680.8 413.4,681.2 407.7,680.2 401.9,679.3 396.1,679.3 390.3,679.3 384.5,678.3 378.8,675.8 374.9,672.5" fill="#00ff00" stroke="#00ff00" stroke-width="0.8" stroke-linejoin="round"/>
<polyline points="382.8,672.3 385.5,672.2 388.1,671.9 390.7,671.7 393.4,671.2 396,670.4 398.7,669.6 401.3,668.9 403.9,668.8 406.6,668.9 409.2,669 411.9,669.1 414.5,669 417.1,668.8 419.8,668.4 422.4,668.2 425.1,668 427.7,668.1 430.3,668.4 433,668.6 435.6,668.8 438.2,669.2 440.9,669.6 443.5,669.9" fill="none" stroke="#fff" stroke-opacity="0.6" stroke-width="0.7"/>
<polyline points="382.8,673.3 385.5,673.4 388.1,673.3 390.7,673.1 393.4,672.6 396,671.8 398.7,671 401.3,670.2 403.9,670 406.6,670 409.2,670.1 411.9,670.3 414.5,670.5 417.1,670.5 419.8,670.6 422.4,670.8 425.1,670.9 427.7,671.2 430.3,671.4 433,671.4 435.6,671.2 438.2,671.1 440.9,671.1 443.5,671" fill="none" stroke="#fff" stroke-opacity="0.6" stroke-width="0.7"/>
<polyline points="382.8,674.4 385.5,674.8 388.1,674.7 390.7,674.7 393.4,674.3 396,673.6 398.7,672.9 401.3,672.1 403.9,671.8 406.6,671.7 409.2,671.6 411.9,671.7 414.5,671.7 417.1,671.6 419.8,671.7 422.4,671.8 425.1,671.9 427.7,672.3 430.3,672.6 433,672.7 435.6,672.6 438.2,672.5 440.9,672.4 443.5,672.3" fill="none" stroke="#fff" stroke-opacity="0.6" stroke-width="0.7"/>
<polyline points="382.8,675.6 385.5,676.1 388.1,676.1 390.7,676.1 393.4,675.6 396,675 398.7,674.4 401.3,673.8 403.9,673.8 406.6,674 409.2,674.5 411.9,675 414.5,675.4 417.1,675.6 419.8,675.7 422.4,675.5 425.1,675.1 427.7,674.8 430.3,674.5 433,673.9 435.6,673.3 438.2,672.8 440.9,672.5 443.5,672.4" fill="none" stroke="#fff" stroke-opacity="0.6" stroke-width="0.7"/>
<polyline points="382.8,676.6 385.5,677.3 388.1,677.5 390.7,677.6 393.4,677.3 396,676.9 398.7,676.4 401.3,675.9 403.9,675.8 406.6,675.9 409.2,676 411.9,676.3 414.5,676.5 417.1,676.5 419.8,676.5 422.4,676.4 425.1,676.2 427.7,676.3 430.3,676.3 433,675.9 435.6,675.4 438.2,674.8 440.9,674.4 443.5,674" fill="none" stroke="#fff" stroke-opacity="0.6" stroke-width="0.7"/>
<polyline points="382.8,677.6 385.5,678.5 388.1,678.9 390.7,679.2 393.4,679.1 396,678.9 398.7,678.7 401.3,678.4 403.9,678.5 406.6,678.6 409.2,678.8 411.9,678.9 414.5,678.9 417.1,678.6 419.8,678.3 422.4,677.7 425.1,677.2 427.7,677.1 430.3,676.9 433,676.4 435.6,675.8 438.2,675.2 440.9,674.9 443.5,674.6" fill="none" stroke="#fff" stroke-opacity="0.6" stroke-width="0.7"/>
<polygon points="461,671.2 480.3,671.6 499.5,671.9 518.8,672.5 538.1,672.5 557.3,672.9 577,673.1 577,673.9 557.3,673.9 538.1,673.9 518.8,673.9 499.5,673.9 489.9,673.9 480.3,674.5 470.6,675 461,675" fill="#00ff00" stroke="#00ff00" stroke-width="0.8" stroke-linejoin="round"/>
<line x1="375.3" y1="663.6" x2="375.3" y2="699.1" stroke="#ff3030" stroke-opacity="0.7" stroke-width="1.2" stroke-dasharray="2.6,1.2"/>
<line x1="420.4" y1="663.6" x2="420.4" y2="699.1" stroke="#ff3030" stroke-opacity="0.7" stroke-width="1.2" stroke-dasharray="2.6,1.2"/>
<line x1="371.8" y1="663.6" x2="371.8" y2="699.1" stroke="#8a8a8a" stroke-width="1.2"/>
<polyline points="346,674.5 348.9,673.9 351.8,673.5 354.7,672.5 357.6,671.6 360.5,671.2 363.3,671.9 365.3,671.6 368.2,671.6 371,671.2 373,670.6 374.9,669.6 376.4,671.2 377.8,672.5 379.7,671.6 381.6,670 383,673.5 384.5,675.4 387.4,677 390.3,678.3 393.2,678.9 395.1,677.7 396.5,675.4 398,670.6 399,673.5 400.3,677.3 402.8,678.3 404.8,681.2 406.7,686 408.6,690.8 410.6,694.7 412.5,697.6 414.4,696.6 416.3,694.7 418.3,692.8 420.2,691.2 422.1,689.9 424,687.9 426,684.1 427.9,681.2 429.8,680.2 431.7,678.3 432.7,675.4 434.3,673.5 435.6,674.5 437.5,673.5 439.5,673.1 441.4,673.9 443.3,675 445.2,676.4 447.2,677.3 450.1,678.3 452.9,677.7 455.8,677 458.7,676.4 462,675.8 462.9,674.5 464.9,667.7 466.4,663.5 468.3,663.9 470.6,665.4 472.6,665.8 474.5,664.8 476.4,665.8 478.3,663.9 479.9,663.5 481.2,669.6 483.2,673.9 485.1,676.4 487,677 488.9,674.5 490.9,670.6 492.8,669.6 495.7,670.6 498.6,672.5 501.5,671.9 503.4,670.6 505.7,671.9 508.2,672.5 511.1,671.9 513,671.2 515,672.5 516.5,676.4 517.8,679.3 519.8,680.8 521.7,680.8 523.6,679.7 525.6,676.4 527.5,673.5 530,673.1 532.3,671.6 534.2,673.9 536.1,675 538.1,673.1 540,670.6 541.9,669.6 543.9,670.6 545.8,673.5 547.7,671.6 549.3,670 550.6,671.6 552.5,670.6 554.5,671.6 556.4,673.5 558.3,675.4 560.2,676.4 562.2,677 565.1,677.3 567,675.4 568.9,673.9 570.8,675.4 572.8,675 575.7,673.9 577,673.5" fill="none" stroke="#0a0aff" stroke-width="1.6" stroke-linejoin="round"/>
<polyline points="346,672.5 355.6,672.5 365.3,672.5 374.9,672.5 384.5,672.5 392.2,672.9 396.1,674.5 400,677 403.8,678.3 409.6,678.7 413.4,677.7 417.3,675.4 421.1,673.1 425,672.1 432.7,672.1 442.3,672.5 452,672.9 462,673.1 462,673.1 480.3,673.1 499.5,673.1 518.8,673.1 538.1,673.1 557.3,673.1 577,673.5" fill="none" stroke="#000" stroke-width="1.7" stroke-linejoin="round"/>
</g>
<rect x="346" y="663.6" width="230" height="35.5" fill="none" stroke="#c4c4c4" stroke-width="1"/>
<text x="343.4" y="675.2" text-anchor="end" font-size="8.5">0</text>
<text x="343.4" y="688.5" text-anchor="end" font-size="8.5">-10</text>
<text x="343.4" y="702.3" text-anchor="end" font-size="8.5">-20</text>
<path d="M346 672.2h2.2M576 672.2h-2.2M346 685.5h2.2M576 685.5h-2.2" stroke="#c4c4c4" stroke-width="0.8" fill="none"/>
<text transform="translate(327,681.4) rotate(-90)" text-anchor="middle" font-size="8.6">BT (nT)</text>
<g clip-path="url(#c5_2)">
<polygon points="388.4,725.4 394.2,723.5 400,722.5 405.7,721.9 411.5,721.6 417.3,720.6 421.1,719.6 426.9,720.6 434.6,723.1 442.3,724.5 452,725.4 462,725.8 462,727.3 452,727.7 442.3,728.3 434.6,729.3 426.9,730.2 421.1,730.8 417.3,730.2 411.5,728.9 403.8,727.7 396.1,727.7 390.3,727" fill="#00ff00" stroke="#00ff00" stroke-width="0.8" stroke-linejoin="round"/>
<polyline points="400.9,723.2 403.6,723.2 406.2,723.3 408.9,723.4 411.6,723.4 414.2,723.1 416.9,722.6 419.5,721.8 422.2,721.1 424.8,721 427.5,721.1 430.1,721.7 432.8,722.5 435.5,723.3 438.1,723.9" fill="none" stroke="#fff" stroke-opacity="0.6" stroke-width="0.7"/>
<polyline points="400.9,724 403.6,724 406.2,724.2 408.9,724.4 411.6,724.7 414.2,725 416.9,725.2 419.5,725.3 422.2,725.3 424.8,725.3 427.5,725.3 430.1,725.4 432.8,725.5 435.5,725.6 438.1,725.6" fill="none" stroke="#fff" stroke-opacity="0.6" stroke-width="0.7"/>
<polyline points="400.9,725.1 403.6,725 406.2,725.1 408.9,725.3 411.6,725.6 414.2,726 416.9,726.4 419.5,726.7 422.2,727 424.8,727.3 427.5,727.4 430.1,727.6 432.8,727.7 435.5,727.7 438.1,727.6" fill="none" stroke="#fff" stroke-opacity="0.6" stroke-width="0.7"/>
<polyline points="400.9,726.5 403.6,726.6 406.2,727.1 408.9,727.7 411.6,728.4 414.2,729.3 416.9,730.1 419.5,730.6 422.2,730.6 424.8,730.1 427.5,729.4 430.1,728.8 432.8,728.3 435.5,727.9 438.1,727.6" fill="none" stroke="#fff" stroke-opacity="0.6" stroke-width="0.7"/>
<polygon points="461,725.8 499.5,725.8 538.1,725.8 577,725.8 577,727 538.1,727 499.5,727 461,727" fill="#00ff00" stroke="#00ff00" stroke-width="0.8" stroke-linejoin="round"/>
<line x1="375.3" y1="713.2" x2="375.3" y2="748.7" stroke="#ff3030" stroke-opacity="0.7" stroke-width="1.2" stroke-dasharray="2.6,1.2"/>
<line x1="420.4" y1="713.2" x2="420.4" y2="748.7" stroke="#ff3030" stroke-opacity="0.7" stroke-width="1.2" stroke-dasharray="2.6,1.2"/>
<line x1="371.8" y1="713.2" x2="371.8" y2="748.7" stroke="#8a8a8a" stroke-width="1.2"/>
<polyline points="346,727.7 348.9,727.7 351.8,727.3 354.7,727.7 357.6,727.7 360.5,727 363.3,725.8 366.2,725.8 369.1,725.4 371,725 373,725.8 373.9,728.3 375.3,729.3 376.8,730.2 378.8,732.2 380.7,734.1 382.6,734.7 384.5,733.5 387.4,733.1 390.3,732.2 393.2,730.8 395.7,729.3 397.1,730.2 399,732.2 400.9,737 402.3,741.8 403.8,745.1 405.7,744.7 407.3,742.8 408.6,738.9 410.6,733.1 412.5,727.3 414.4,723.5 416.3,719.6 418.3,717.3 420.2,716.7 422.1,716.2 424,714.8 426,713.9 427.9,714.2 429.8,713.5 431.7,713.9 433.7,712.9 435.6,713.9 437.5,714.8 440.4,715.8 443.3,717.3 445.2,718.1 447.2,717.3 450.1,716.7 452.9,717.3 455.8,718.1 458.7,718.1 462,718.7 462,718.9 463.9,719.6 466.8,721.2 469.7,721.6 472.6,723.1 474.9,723.9 477.4,722.5 479.3,725 481.2,729.3 483.2,730.8 485.1,729.7 487,729.3 488.9,726.4 490.9,723.1 492.8,721.6 495.7,721.9 497.6,723.9 499.5,727.7 501.5,728.9 503.4,726.4 505.3,723.1 507.2,721.2 510.1,720.6 512.1,721.9 514,722.5 515.9,721.9 517.3,724.5 518.4,728.3 520.7,729.3 522.7,728.3 524.6,724.5 526.5,721.9 529.4,721.6 531.9,722.5 533.8,725.4 536.1,728.3 538.1,729.3 540,728.3 541.9,727 543.9,725.4 545.8,725 547.7,726.4 549.6,725 551.6,724.5 553.5,725 555.4,724.5 557.3,725.4 559.3,726.4 561.2,727 563.1,727.7 565.1,727.3 567,727 568.9,726.4 570.8,727 572.8,726.4 574.7,727 577,727" fill="none" stroke="#0a0aff" stroke-width="1.6" stroke-linejoin="round"/>
<polyline points="346,726.4 365.3,726.4 384.5,726.4 403.8,726.4 411.5,726.8 419.2,727.7 426.9,727 434.6,726.4 442.3,726.4 462,726.4 462,726.8 499.5,726.8 538.1,726.6 577,726.4" fill="none" stroke="#000" stroke-width="1.7" stroke-linejoin="round"/>
</g>
<rect x="346" y="713.2" width="230" height="35.5" fill="none" stroke="#c4c4c4" stroke-width="1"/>
<text x="343.4" y="718.5" text-anchor="end" font-size="8.5">10</text>
<text x="343.4" y="729.5" text-anchor="end" font-size="8.5">0</text>
<text x="343.4" y="740.8" text-anchor="end" font-size="8.5">-10</text>
<text x="343.4" y="751.8" text-anchor="end" font-size="8.5">-20</text>
<path d="M346 715.5h2.2M576 715.5h-2.2M346 726.5h2.2M576 726.5h-2.2M346 737.8h2.2M576 737.8h-2.2" stroke="#c4c4c4" stroke-width="0.8" fill="none"/>
<text transform="translate(327,731) rotate(-90)" text-anchor="middle" font-size="8.6">BN (nT)</text>
<g clip-path="url(#c5_3)">
<polygon points="374.9,795.6 377.8,788.9 380.7,782.2 384.5,778.3 388.4,775.4 392.2,773.1 396.1,771.2 400,769.2 403.8,767.7 407.7,766.7 411.5,765.8 415.4,764.8 419.2,763.5 422.1,762.9 425,764.8 427.9,771.6 430.8,779.3 434.6,785 438.5,789.9 442.3,792.4 448.1,793.7 453.9,794.3 462,794.3 462,797.6 453.9,797.2 446.2,797 438.5,796.6 430.8,796.2 423.1,795.6 415.4,795.1 407.7,794.7 400,794.7 392.2,794.7 384.5,795.1 376.8,795.6 374.9,795.6" fill="#00ff00" stroke="#00ff00" stroke-width="0.8" stroke-linejoin="round"/>
<polyline points="377.5,789.6 380.2,783.4 382.8,780 385.5,777.6 388.1,775.7 390.7,774.3 393.4,773.1 396,772.1 398.7,771.1 401.3,770.3 403.9,769.5 406.6,769 409.2,768.3 411.9,767.5 414.5,766.6 417.1,765.4 419.8,764.2 422.4,763.5 425.1,765.1 427.7,771.1 430.3,778.1 433,782.6 435.6,786.4 438.2,789.8 440.9,791.6" fill="none" stroke="#fff" stroke-opacity="0.6" stroke-width="0.7"/>
<polyline points="377.5,790 380.2,784.3 382.8,781.1 385.5,778.9 388.1,777 390.7,775.6 393.4,774.3 396,773.3 398.7,772.3 401.3,771.5 403.9,770.8 406.6,770.5 409.2,770.1 411.9,769.7 414.5,769.3 417.1,768.6 419.8,767.9 422.4,767.5 425.1,768.9 427.7,774.1 430.3,780.1 433,783.9 435.6,787.2 438.2,790.1 440.9,791.8" fill="none" stroke="#fff" stroke-opacity="0.6" stroke-width="0.7"/>
<polyline points="377.5,790.5 380.2,785.3 382.8,782.4 385.5,780.2 388.1,778.4 390.7,777 393.4,775.7 396,774.6 398.7,773.6 401.3,772.7 403.9,771.9 406.6,771.6 409.2,771.2 411.9,771 414.5,770.7 417.1,770.2 419.8,769.8 422.4,769.8 425.1,771.4 427.7,776.4 430.3,781.9 433,785.5 435.6,788.4 438.2,791 440.9,792.5" fill="none" stroke="#fff" stroke-opacity="0.6" stroke-width="0.7"/>
<polyline points="377.5,791.1 380.2,786.5 382.8,783.8 385.5,781.7 388.1,779.9 390.7,778.5 393.4,777.3 396,776.3 398.7,775.5 401.3,774.9 403.9,774.4 406.6,774.3 409.2,774.1 411.9,773.9 414.5,773.6 417.1,773 419.8,772.3 422.4,771.8 425.1,772.8 427.7,777.1 430.3,782.2 433,785.6 435.6,788.5 438.2,791.1 440.9,792.6" fill="none" stroke="#fff" stroke-opacity="0.6" stroke-width="0.7"/>
<polyline points="377.5,791.6 380.2,787.3 382.8,784.9 385.5,783 388.1,781.5 390.7,780.1 393.4,779 396,777.9 398.7,777 401.3,776.2 403.9,775.6 406.6,775.3 409.2,775.1 411.9,775 414.5,774.9 417.1,774.7 419.8,774.4 422.4,774.5 425.1,775.9 427.7,780 430.3,784.5 433,787.4 435.6,789.8 438.2,791.9 440.9,793.2" fill="none" stroke="#fff" stroke-opacity="0.6" stroke-width="0.7"/>
<polyline points="377.5,792.1 380.2,788.3 382.8,786.2 385.5,784.6 388.1,783.2 390.7,782 393.4,780.9 396,779.9 398.7,778.9 401.3,778.1 403.9,777.3 406.6,776.9 409.2,776.5 411.9,776.2 414.5,776 417.1,775.7 419.8,775.4 422.4,775.6 425.1,777 427.7,781 430.3,785.4 433,788.2 435.6,790.5 438.2,792.5 440.9,793.7" fill="none" stroke="#fff" stroke-opacity="0.6" stroke-width="0.7"/>
<polyline points="377.5,792.5 380.2,789.4 382.8,787.5 385.5,786.1 388.1,784.8 390.7,783.6 393.4,782.5 396,781.5 398.7,780.6 401.3,779.8 403.9,779.3 406.6,779.1 409.2,779.1 411.9,779.2 414.5,779.3 417.1,779.3 419.8,779.2 422.4,779.3 425.1,780.3 427.7,783.4 430.3,786.8 433,789 435.6,790.9 438.2,792.7 440.9,793.7" fill="none" stroke="#fff" stroke-opacity="0.6" stroke-width="0.7"/>
<polyline points="377.5,793 380.2,790.2 382.8,788.7 385.5,787.4 388.1,786.4 390.7,785.4 393.4,784.5 396,783.6 398.7,782.8 401.3,782 403.9,781.3 406.6,780.9 409.2,780.6 411.9,780.3 414.5,780.2 417.1,780.1 419.8,780 422.4,780.3 425.1,781.6 427.7,784.8 430.3,788.2 433,790.3 435.6,792.1 438.2,793.6 440.9,794.5" fill="none" stroke="#fff" stroke-opacity="0.6" stroke-width="0.7"/>
<polyline points="377.5,793.4 380.2,791.1 382.8,789.8 385.5,788.8 388.1,788 390.7,787.2 393.4,786.5 396,785.9 398.7,785.2 401.3,784.5 403.9,783.9 406.6,783.5 409.2,783 411.9,782.7 414.5,782.3 417.1,782 419.8,781.7 422.4,781.7 425.1,782.6 427.7,785.5 430.3,788.6 433,790.7 435.6,792.3 438.2,793.8 440.9,794.7" fill="none" stroke="#fff" stroke-opacity="0.6" stroke-width="0.7"/>
<polyline points="377.5,793.7 380.2,791.7 382.8,790.7 385.5,790 388.1,789.4 390.7,788.8 393.4,788.1 396,787.4 398.7,786.7 401.3,786 403.9,785.3 406.6,784.9 409.2,784.6 411.9,784.5 414.5,784.6 417.1,784.7 419.8,785 422.4,785.5 425.1,786.5 427.7,788.7 430.3,791 433,792.4 435.6,793.5 438.2,794.5 440.9,795.1" fill="none" stroke="#fff" stroke-opacity="0.6" stroke-width="0.7"/>
<polyline points="377.5,794.1 380.2,792.6 382.8,791.8 385.5,791.2 388.1,790.7 390.7,790.3 393.4,789.9 396,789.5 398.7,789.1 401.3,788.6 403.9,788.1 406.6,787.6 409.2,787.3 411.9,786.9 414.5,786.7 417.1,786.4 419.8,786.2 422.4,786.3 425.1,787.1 427.7,789.1 430.3,791.3 433,792.8 435.6,793.9 438.2,794.9 440.9,795.5" fill="none" stroke="#fff" stroke-opacity="0.6" stroke-width="0.7"/>
<polyline points="377.5,794.5 380.2,793.3 382.8,792.7 385.5,792.3 388.1,791.9 390.7,791.7 393.4,791.5 396,791.3 398.7,791.1 401.3,790.9 403.9,790.7 406.6,790.5 409.2,790.3 411.9,790.1 414.5,789.8 417.1,789.6 419.8,789.4 422.4,789.2 425.1,789.5 427.7,790.8 430.3,792.4 433,793.4 435.6,794.3 438.2,795.1 440.9,795.6" fill="none" stroke="#fff" stroke-opacity="0.6" stroke-width="0.7"/>
<polyline points="377.5,794.8 380.2,793.8 382.8,793.4 385.5,793.2 388.1,793.1 390.7,793.1 393.4,793.1 396,793 398.7,792.8 401.3,792.6 403.9,792.2 406.6,791.8 409.2,791.4 411.9,791.1 414.5,790.9 417.1,790.8 419.8,790.9 422.4,791.2 425.1,791.9 427.7,793.2 430.3,794.4 433,795.1 435.6,795.7 438.2,796.1 440.9,796.3" fill="none" stroke="#fff" stroke-opacity="0.6" stroke-width="0.7"/>
<polyline points="377.5,795.2 380.2,794.7 382.8,794.4 385.5,794.3 388.1,794.3 390.7,794.3 393.4,794.4 396,794.5 398.7,794.6 401.3,794.7 403.9,794.7 406.6,794.6 409.2,794.5 411.9,794.4 414.5,794.2 417.1,794 419.8,793.9 422.4,793.8 425.1,793.8 427.7,794.3 430.3,794.9 433,795.4 435.6,795.8 438.2,796.2 440.9,796.4" fill="none" stroke="#fff" stroke-opacity="0.6" stroke-width="0.7"/>
<polygon points="461,794.3 470.6,795.1 480.3,795.6 499.5,795.6 518.8,795.6 538.1,795.6 557.3,795.1 577,794.7 577,797 557.3,797.6 538.1,798 518.8,798 499.5,798 480.3,798 461,798" fill="#00ff00" stroke="#00ff00" stroke-width="0.8" stroke-linejoin="round"/>
<line x1="375.3" y1="763.7" x2="375.3" y2="799.2" stroke="#ff3030" stroke-opacity="0.7" stroke-width="1.2" stroke-dasharray="2.6,1.2"/>
<line x1="420.4" y1="763.7" x2="420.4" y2="799.2" stroke="#ff3030" stroke-opacity="0.7" stroke-width="1.2" stroke-dasharray="2.6,1.2"/>
<line x1="371.8" y1="763.7" x2="371.8" y2="799.2" stroke="#8a8a8a" stroke-width="1.2"/>
<polyline points="346,792.8 349.9,793.1 353.7,791.8 356.6,790.8 359.5,790.4 363.3,790.4 367.2,789.9 371,789.3 373,786 374.5,780.8 375.9,779.3 377.2,781.2 378.8,787 380.7,790.8 384.5,793.1 390.3,794.3 396.1,793.7 400,791.8 401.9,788.5 403.2,785.4 404.2,787 405.7,790.8 407.7,793.1 411.5,794.3 415.4,795.1 419.2,794.7 423.1,795.1 426.9,794.3 430.8,793.7 434.6,793.1 438.5,793.7 442.3,794.3 446.2,793.7 450.1,794.3 452.9,793.1 455.8,790.4 458.7,788.9 462,788.5 462,788.1 462.9,787.9 464.9,791.8 466.8,794.7 469.7,795.6 472.6,795.6 475.5,795.3 478.3,795.6 481.2,795.3 484.1,795.6 487,795.6 488.9,794.3 490.9,794.7 493.8,795.6 496.6,795.6 499.5,795.1 501.5,793.7 503.4,791.8 504.9,792.8 506.3,794.7 508.2,795.6 510.1,795.1 512.1,794.7 514,795.1 515.9,796.6 517.8,797.6 520.7,797.6 522.7,797 524.6,794.7 526.5,793.7 528.4,793.1 530.4,792.8 532.3,793.7 535.2,794.3 538.1,795.1 541,795.6 543.9,795.3 546.7,795.1 549.6,795.6 551.6,794.3 553.5,794.7 556.4,795.1 559.3,794.3 561.2,794.7 563.1,795.6 566,796.6 568.9,797.2 572.8,797 577,796.6" fill="none" stroke="#0a0aff" stroke-width="1.6" stroke-linejoin="round"/>
<polyline points="346,795.3 355.6,795.3 365.3,795.1 374.9,795.1 384.5,794.7 392.2,793.7 396.1,790.8 399,783.1 400.9,776.4 403.8,774.5 407.7,773.1 411.5,770.6 414.4,768.7 417.3,769.6 419.2,775.4 421.1,785 423.1,792.8 426,795.6 430.8,797 438.5,797.6 450.1,797.6 462,797.6 462,797.6 480.3,797.6 499.5,797.6 518.8,797.2 538.1,796.6 557.3,796 577,794.7" fill="none" stroke="#000" stroke-width="1.7" stroke-linejoin="round"/>
</g>
<rect x="346" y="763.7" width="230" height="35.5" fill="none" stroke="#c4c4c4" stroke-width="1"/>
<text x="343.4" y="772.7" text-anchor="end" font-size="8.5">50</text>
<text x="343.4" y="801.9" text-anchor="end" font-size="8.5">0</text>
<path d="M346 769.7h2.2M576 769.7h-2.2" stroke="#c4c4c4" stroke-width="0.8" fill="none"/>
<text transform="translate(327,781.5) rotate(-90)" text-anchor="middle" font-size="8.6">N<tspan font-size="7.7" dy="2.8">p</tspan><tspan dy="-2.8"> (cm</tspan><tspan font-size="7.7" dy="-4.3">-3</tspan><tspan dy="4.3">)</tspan></text>
<g clip-path="url(#c5_4)">
<polygon points="374.9,838.9 376.8,835 380.7,834.1 386.5,833.5 392.2,833.1 398,833.5 403.8,834.7 411.5,835 419.2,834.1 426.9,832.2 434.6,831.6 442.3,832.7 450.1,833.5 457.8,834.1 462,834.7 462,837 453.9,837.9 446.2,838.9 438.5,841.8 430.8,841.2 423.1,839.9 415.4,838.9 407.7,839.3 400,839.9 392.2,840.4 384.5,840.8 376.8,840.4 374.9,839.9" fill="#00ff00" stroke="#00ff00" stroke-width="0.8" stroke-linejoin="round"/>
<polyline points="377.5,834.9 380.2,834.2 382.8,833.9 385.5,833.8 388.1,833.9 390.7,834 393.4,834.3 396,834.7 398.7,835.1 401.3,835.6" fill="none" stroke="#fff" stroke-opacity="0.6" stroke-width="0.7"/>
<polyline points="419.8,834.1 422.4,833.3 425.1,832.6 427.7,832.2 430.3,832.3 433,832.5 435.6,833 438.2,833.8 440.9,834.3 443.5,834.5 446.2,834.6 448.8,834.6" fill="none" stroke="#fff" stroke-opacity="0.6" stroke-width="0.7"/>
<polyline points="377.5,836.3 380.2,835.8 382.8,835.6 385.5,835.5 388.1,835.5 390.7,835.5 393.4,835.7 396,835.9 398.7,836.2 401.3,836.6" fill="none" stroke="#fff" stroke-opacity="0.6" stroke-width="0.7"/>
<polyline points="419.8,836.4 422.4,836 425.1,835.5 427.7,835.1 430.3,834.8 433,834.5 435.6,834.4 438.2,834.6 440.9,834.6 443.5,834.7 446.2,834.7 448.8,834.9" fill="none" stroke="#fff" stroke-opacity="0.6" stroke-width="0.7"/>
<polyline points="377.5,837.8 380.2,837.5 382.8,837.3 385.5,837.2 388.1,837 390.7,837 393.4,837 396,837.1 398.7,837.2 401.3,837.5" fill="none" stroke="#fff" stroke-opacity="0.6" stroke-width="0.7"/>
<polyline points="419.8,838.1 422.4,838.2 425.1,838.3 427.7,838.5 430.3,838.6 433,838.6 435.6,838.5 438.2,838.5 440.9,837.8 443.5,837.1 446.2,836.5 448.8,836.3" fill="none" stroke="#fff" stroke-opacity="0.6" stroke-width="0.7"/>
<polyline points="377.5,839.8 380.2,839.5 382.8,839.3 385.5,839.1 388.1,838.8 390.7,838.7 393.4,838.8 396,838.9 398.7,839 401.3,839.2" fill="none" stroke="#fff" stroke-opacity="0.6" stroke-width="0.7"/>
<polyline points="419.8,839 422.4,838.9 425.1,838.8 427.7,838.8 430.3,838.9 433,839 435.6,839.2 438.2,839.7 440.9,839.4 443.5,839 446.2,838.4 448.8,838.4" fill="none" stroke="#fff" stroke-opacity="0.6" stroke-width="0.7"/>
<polygon points="461,834.7 480.3,835.4 499.5,837 518.8,837.9 518.8,839.3 499.5,839.3 480.3,839.3 461,838.9" fill="#00ff00" stroke="#00ff00" stroke-width="0.8" stroke-linejoin="round"/>
<line x1="375.3" y1="813.5" x2="375.3" y2="849" stroke="#ff3030" stroke-opacity="0.7" stroke-width="1.2" stroke-dasharray="2.6,1.2"/>
<line x1="420.4" y1="813.5" x2="420.4" y2="849" stroke="#ff3030" stroke-opacity="0.7" stroke-width="1.2" stroke-dasharray="2.6,1.2"/>
<line x1="371.8" y1="813.5" x2="371.8" y2="849" stroke="#8a8a8a" stroke-width="1.2"/>
<polyline points="346,841.2 355.6,841.2 365.3,840.8 373,840.8 376.8,840.4 384.5,840.4 392.2,840.4 398,839.9 401.9,838.5 405.7,837 409.6,836.6 415.4,837.4 423.1,837.9 430.8,838.5 438.5,838.9 446.2,839.3 453.9,839.9 462,839.9 462,839.3 466.8,839.9 472.6,840.8 478.3,840.4 484.1,839.9 489.9,839.9 495.7,839.9 501.5,839.3 507.2,838.9 513,838.9 518.8,838.9 545.8,839.1 572.8,839.3 577,839.3" fill="none" stroke="#0a0aff" stroke-width="1.6" stroke-linejoin="round"/>
<polyline points="346,838.9 355.6,839.3 365.3,839.9 374.9,840.3 384.5,840.4 392.2,840.1 396.1,838.5 400,836 403.8,835 409.6,834.7 415.4,834.7 421.1,834.1 425,833.1 428.9,832.7 434.6,833.1 442.3,834.1 450.1,834.7 457.8,835 462,835.4 462,835 470.6,836 480.3,836.6 489.9,837 499.5,837.6 509.2,838.1 518.8,838.5 573.7,839.3 577,839.3" fill="none" stroke="#000" stroke-width="1.7" stroke-linejoin="round"/>
</g>
<rect x="346" y="813.5" width="230" height="35.5" fill="none" stroke="#c4c4c4" stroke-width="1"/>
<text x="343.4" y="816.9" text-anchor="end" font-size="8.5">1000</text>
<text x="343.4" y="836.4" text-anchor="end" font-size="8.5">500</text>
<path d="M346 833.4h2.2M576 833.4h-2.2M403.5 813.5v2.2M403.5 849v-2.2M461 813.5v2.2M461 849v-2.2M518.5 813.5v2.2M518.5 849v-2.2" stroke="#c4c4c4" stroke-width="0.8" fill="none"/>
<text transform="translate(317,831.2) rotate(-90)" text-anchor="middle" font-size="8.6">V<tspan font-size="7.7" dy="2.8">r</tspan><tspan dy="-2.8"> (Km/s)</tspan></text>
<text x="346" y="858.9" text-anchor="middle" font-size="8.5">Sep 30</text>
<text x="403.5" y="858.9" text-anchor="middle" font-size="8.5">Oct 01</text>
<text x="461" y="858.9" text-anchor="middle" font-size="8.5">Oct 02</text>
<text x="518.5" y="858.9" text-anchor="middle" font-size="8.5">Oct 03</text>
<text x="576" y="858.9" text-anchor="middle" font-size="8.5">Oct 04</text>
<text x="461" y="871" text-anchor="middle" font-size="9">Time (Year)</text>
<text x="559.4" y="870.8" text-anchor="middle" font-size="8.5">2012</text>
<rect x="517.4" y="815.5" width="55.3" height="28.7" fill="#fff" stroke="#c4c4c4" stroke-width="0.8"/>
<line x1="519.4" y1="820.8" x2="531.5" y2="820.8" stroke="#00ff00" stroke-width="1.2"/>
<text x="533.5" y="823.5" font-size="7.5">Ensemble</text>
<line x1="519.4" y1="829.6" x2="531.5" y2="829.6" stroke="#0a0aff" stroke-width="1.6"/>
<text x="533.5" y="832.3" font-size="7.5">OMNI data</text>
<line x1="519.4" y1="839.1" x2="531.5" y2="839.1" stroke="#000" stroke-width="1.6"/>
<text x="533.5" y="841.8" font-size="7.5">Simulation</text>
</svg></body></html>
